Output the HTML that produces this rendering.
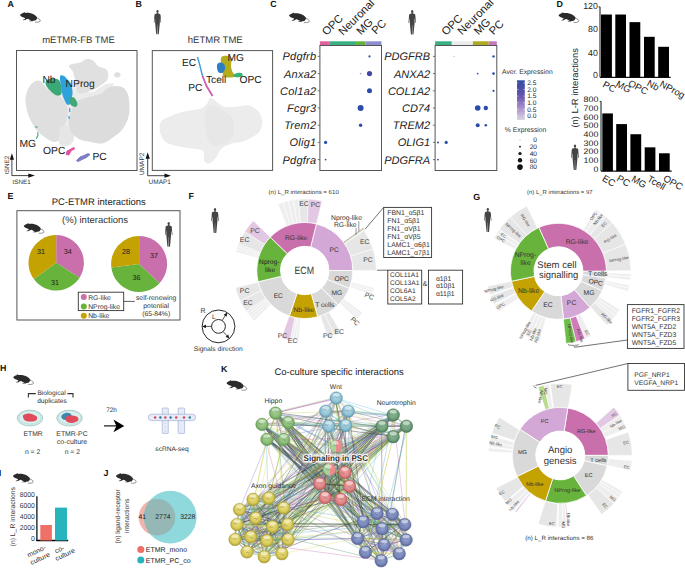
<!DOCTYPE html>
<html><head><meta charset="utf-8"><title>Figure</title><style>html,body{margin:0;padding:0;background:#fff;width:685px;height:568px;overflow:hidden;}body{position:relative;font-family:"Liberation Sans", sans-serif;}</style></head><body>
<svg width="685" height="568" viewBox="0 0 685 568" text-rendering="geometricPrecision" style="position:absolute;left:0;top:0;font-family:'Liberation Sans', sans-serif"><text x="7.6" y="7.2" font-size="8.9" text-anchor="start" fill="#111" font-weight="bold" font-style="normal" >A</text>
<g transform="translate(20 12.0) scale(1.0)"><path d="M0,3.0 C0.8,2.0 2.0,1.3 3.3,1.1 L4.3,0 L5.1,0.9 C8,0.5 11.5,1.0 14,2.6 C15.5,3.6 16.6,4.6 17.1,5.4 C17.0,6.8 16.4,7.9 15.3,8.5 L13.2,8.8 L12.6,9.3 L9.2,9.3 L9.3,8.8 L11.4,8.6 C10.2,8.0 9.0,7.4 7.9,6.8 L6.2,7.3 L5.4,8.1 L3.0,8.3 L2.9,7.8 L4.6,7.2 L5.2,6.2 C3.7,5.6 2.2,5.0 1.4,4.5 C0.7,4.1 0.2,3.6 0,3.0 Z" fill="#2b2b2b"/><path d="M16.8,6.0 C19.0,6.6 20.4,7.7 20.3,8.9 C20.2,9.9 18.5,10.4 15.0,10.2" fill="none" stroke="#2b2b2b" stroke-width="0.5"/></g>
<text x="78.5" y="42.8" font-size="9.5" text-anchor="middle" fill="#333" font-weight="normal" font-style="normal"  textLength="72.6" lengthAdjust="spacingAndGlyphs">mETMR-FB TME</text>
<path d="M58.0,92.0 C58.7,88.7 66.7,84.3 70.0,84.0 C73.3,83.7 74.3,88.7 78.0,90.0 C81.7,91.3 87.3,93.0 92.0,92.0 C96.7,91.0 102.3,85.3 106.0,84.0 C109.7,82.7 113.7,83.0 114.0,84.0 C114.3,85.0 111.0,88.0 108.0,90.0 C105.0,92.0 100.7,94.2 96.0,96.0 C91.3,97.8 83.7,99.0 80.0,101.0 C76.3,103.0 75.3,104.5 74.0,108.0 C72.7,111.5 72.0,117.3 72.0,122.0 C72.0,126.7 74.3,132.2 74.0,136.0 C73.7,139.8 72.3,143.5 70.0,145.0 C67.7,146.5 62.0,147.2 60.0,145.0 C58.0,142.8 57.3,136.5 58.0,132.0 C58.7,127.5 62.7,122.7 64.0,118.0 C65.3,113.3 67.0,108.3 66.0,104.0 C65.0,99.7 57.3,95.3 58.0,92.0 Z" fill="#ebebeb"/>
<path d="M32.8,82.7 C34.4,81.5 36.5,80.6 38.1,80.6 C39.7,80.6 41.0,81.5 42.4,82.7 C43.8,83.9 44.7,86.2 46.6,88.0 C48.5,89.8 51.5,91.7 54.0,93.3 C56.5,94.9 59.3,95.4 61.4,97.5 C63.5,99.6 65.7,103.1 66.7,105.9 C67.8,108.7 67.9,111.6 67.7,114.4 C67.5,117.2 66.6,120.0 65.6,122.8 C64.5,125.6 62.4,128.5 61.4,131.3 C60.4,134.1 60.5,137.9 59.3,139.7 C58.1,141.5 55.8,141.9 54.0,141.9 C52.2,141.9 50.6,140.8 48.7,139.7 C46.8,138.6 44.5,137.2 42.4,135.5 C40.3,133.8 38.1,132.0 36.0,129.2 C33.9,126.4 31.3,122.1 29.7,118.6 C28.1,115.1 27.2,111.5 26.5,108.0 C25.8,104.5 25.1,100.8 25.5,97.5 C25.9,94.2 27.4,90.5 28.6,88.0 C29.8,85.5 31.2,83.9 32.8,82.7 Z" fill="#dfdfdf"/>
<path d="M60.0,128.0 C61.0,125.2 64.0,125.3 66.0,126.0 C68.0,126.7 70.7,129.7 72.0,132.0 C73.3,134.3 74.7,137.9 74.0,140.0 C73.3,142.1 70.3,144.0 68.0,144.5 C65.7,145.0 61.3,145.8 60.0,143.0 C58.7,140.2 59.0,130.8 60.0,128.0 Z" fill="#e6e6e6"/>
<path d="M68.8,65.8 C69.0,64.4 72.1,64.2 74.0,63.7 C75.9,63.2 78.3,63.4 80.4,62.6 C82.5,61.8 84.6,59.4 86.7,59.0 C88.8,58.6 91.2,59.3 93.1,60.5 C95.0,61.7 96.2,64.8 98.3,66.2 C100.4,67.6 104.0,67.7 105.7,69.0 C107.4,70.3 108.1,72.3 108.3,74.2 C108.5,76.1 107.9,78.8 106.8,80.6 C105.7,82.4 103.4,83.4 101.5,84.8 C99.6,86.2 97.7,87.8 95.2,89.0 C92.7,90.2 89.4,91.5 86.7,92.2 C84.0,92.9 81.0,93.8 79.3,93.3 C77.5,92.8 76.9,91.1 76.2,89.0 C75.5,86.9 75.6,83.4 75.1,80.6 C74.6,77.8 74.0,74.6 73.0,72.1 C72.0,69.6 68.6,67.2 68.8,65.8 Z" fill="#e0e0e0"/>
<ellipse cx="117.3" cy="74.8" rx="3.2" ry="2.6" fill="#dedede"/>
<path d="M74.0,104.9 C75.6,102.8 77.6,101.0 80.4,99.6 C83.2,98.2 87.5,97.5 91.0,96.4 C94.5,95.4 98.7,94.7 101.5,93.3 C104.3,91.9 105.4,89.2 107.9,88.0 C110.4,86.8 113.7,85.9 116.3,85.9 C118.9,85.9 121.8,86.6 123.7,88.0 C125.6,89.4 127.0,91.7 127.9,94.3 C128.8,96.9 129.2,100.4 129.4,103.8 C129.6,107.2 129.6,111.1 129.0,114.4 C128.4,117.7 127.4,120.7 126.0,123.5 C124.6,126.3 122.6,129.2 120.5,131.5 C118.4,133.8 115.8,135.3 113.5,137.0 C111.2,138.7 109.2,140.4 107.0,141.5 C104.8,142.6 102.7,143.5 100.0,143.6 C97.3,143.7 94.3,142.6 91.0,141.9 C87.7,141.2 83.2,140.8 80.4,139.7 C77.6,138.6 75.8,137.2 74.0,135.5 C72.2,133.8 70.7,131.7 69.8,129.2 C68.9,126.7 68.6,123.5 68.8,120.7 C69.0,117.9 70.0,114.9 70.9,112.3 C71.8,109.7 72.4,107.0 74.0,104.9 Z" fill="#dcdcdc"/>
<path d="M46.6,80.0 C48.0,79.0 51.9,78.4 54.0,78.5 C56.1,78.6 58.0,79.0 59.3,80.6 C60.6,82.2 61.3,85.7 61.6,88.0 C61.9,90.3 61.9,93.3 61.0,94.5 C60.1,95.7 57.9,96.0 56.0,95.3 C54.1,94.6 51.2,91.8 49.5,90.1 C47.8,88.3 46.3,86.5 45.8,84.8 C45.3,83.1 45.2,81.0 46.6,80.0 Z" fill="#3aa877"/>
<path d="M60.5,75.5 C61.2,74.8 62.9,75.4 64.0,76.0 C65.1,76.6 65.9,77.8 67.0,79.0 C68.1,80.2 69.7,81.5 70.5,83.0 C71.3,84.5 71.7,86.2 72.0,88.0 C72.3,89.8 72.7,92.0 72.5,94.0 C72.3,96.0 71.5,98.2 71.0,100.0 C70.5,101.8 70.2,103.8 69.5,104.5 C68.8,105.2 67.4,104.9 66.5,104.0 C65.6,103.1 64.8,100.8 64.0,99.0 C63.2,97.2 62.5,95.2 62.0,93.0 C61.5,90.8 61.3,88.2 61.0,86.0 C60.7,83.8 60.1,81.8 60.0,80.0 C59.9,78.2 59.8,76.2 60.5,75.5 Z" fill="#2fa2dc"/>
<path d="M70.0,97.5 C70.8,96.8 72.8,96.7 74.0,97.5 C75.2,98.3 76.8,101.0 77.2,102.5 C77.6,104.0 77.4,105.9 76.5,106.5 C75.6,107.1 73.2,106.8 72.0,106.0 C70.8,105.2 69.8,103.4 69.5,102.0 C69.2,100.6 69.2,98.2 70.0,97.5 Z" fill="#40a878"/>
<path d="M69.6,108 L69.8,112 M68.8,116 L69.4,119" stroke="#2fa2dc" stroke-width="1.2" fill="none"/>
<path d="M35,126.8 L37.6,127.2 M37.6,132.3 L38,135.5 L36.2,138.6" stroke="#3aa877" stroke-width="1.1" fill="none"/>
<path d="M66,154.5 L67,151 L70,149.5 L73.5,147.5 L75,148.5 L71,151 L69,155 Z" fill="#e0509a" stroke="#e0509a" stroke-width="0.8"/>
<path d="M76.5,160.5 L80,157 L84,155.5 L88,153.6 L90,154.6 L86.5,157.5 L82,159.5 L78,161.6 Z" fill="#7e7ec6" stroke="#7e7ec6" stroke-width="1"/>
<rect x="16.5" y="50.5" width="120.5" height="120" fill="none" stroke="#555" stroke-width="1" />
<text x="42.4" y="82.7" font-size="10.3" text-anchor="start" fill="#222" font-weight="normal" font-style="normal" >Nb</text>
<text x="65.6" y="87.3" font-size="10.3" text-anchor="start" fill="#222" font-weight="normal" font-style="normal" >NProg</text>
<text x="19.5" y="146.5" font-size="10.3" text-anchor="start" fill="#222" font-weight="normal" font-style="normal" >MG</text>
<text x="43" y="153.5" font-size="10.3" text-anchor="start" fill="#222" font-weight="normal" font-style="normal" >OPC</text>
<text x="92.4" y="159.8" font-size="10.3" text-anchor="start" fill="#222" font-weight="normal" font-style="normal" >PC</text>
<line x1="11.9" y1="175.6" x2="11.9" y2="158.2" stroke="#111" stroke-width="0.8" />
<line x1="11.9" y1="175.6" x2="29.799999999999997" y2="175.6" stroke="#111" stroke-width="0.8" />
<path d="M11.9,153.2 L9.8,159.7 L14.0,159.7 Z" fill="#111"/>
<path d="M34.8,175.6 L28.299999999999997,173.5 L28.299999999999997,177.7 Z" fill="#111"/>
<text x="9.0" y="164.8" font-size="6.3" text-anchor="middle" fill="#333" font-weight="normal" font-style="normal" transform="rotate(-90 9.0 164.8)" >tSNE2</text>
<text x="21.6" y="183.6" font-size="6.3" text-anchor="middle" fill="#333" font-weight="normal" font-style="normal" >tSNE1</text>
<text x="135.5" y="7.2" font-size="8.9" text-anchor="start" fill="#111" font-weight="bold" font-style="normal" >B</text>
<g transform="translate(157.5 10) scale(0.9838056680161944)" fill="#444444"><ellipse cx="0" cy="1.5" rx="1.15" ry="1.5"/><path d="M-0.6,2.9 L0.6,2.9 L0.8,3.6 L2.6,4.0 C3.0,4.3 3.1,5 3.2,6 L3.5,10.5 L3.8,12.5 L3.4,13.2 L3.0,11.8 L2.6,8.2 L2.4,10.5 L2.4,13 L1.9,18 L1.5,22.5 L1.2,24.7 L0.2,24.7 L0.2,22.5 L0.1,15 L-0.1,15 L-0.2,22.5 L-0.2,24.7 L-1.2,24.7 L-1.5,22.5 L-1.9,18 L-2.4,13 L-2.4,10.5 L-2.6,8.2 L-3.0,11.8 L-3.4,13.2 L-3.8,12.5 L-3.5,10.5 L-3.2,6 C-3.1,5 -3.0,4.3 -2.6,4.0 L-0.8,3.6 Z"/></g>
<text x="215.25" y="42.8" font-size="9.5" text-anchor="middle" fill="#333" font-weight="normal" font-style="normal"  textLength="54.9" lengthAdjust="spacingAndGlyphs">hETMR TME</text>
<path d="M210.4,98.0 C212.1,97.6 214.3,100.2 216.6,101.7 C218.9,103.2 220.7,105.9 224.0,106.7 C227.3,107.5 232.2,106.9 236.3,106.7 C240.4,106.5 245.0,104.6 248.7,105.4 C252.4,106.2 256.2,108.9 258.5,111.6 C260.8,114.3 262.0,118.2 262.2,121.5 C262.4,124.8 261.2,128.8 259.8,131.3 C258.4,133.8 256.3,134.7 253.6,136.3 C250.9,138.0 247.4,140.0 243.7,141.2 C240.0,142.4 235.1,142.5 231.4,143.7 C227.7,144.9 224.2,146.1 221.5,148.6 C218.8,151.1 217.5,156.0 215.4,158.5 C213.3,161.0 211.0,163.0 209.2,163.4 C207.3,163.8 205.3,163.0 204.3,160.9 C203.3,158.8 205.1,153.2 203.0,151.1 C200.9,149.0 196.2,149.4 191.9,148.6 C187.6,147.8 181.6,147.3 177.1,146.1 C172.6,144.9 167.7,143.7 164.8,141.2 C161.9,138.7 160.5,134.6 159.9,131.3 C159.3,128.0 159.5,124.0 161.1,121.5 C162.7,119.0 165.8,118.2 169.7,116.5 C173.6,114.8 179.6,112.8 184.5,111.6 C189.4,110.4 195.6,110.3 199.3,109.1 C203.0,107.9 204.8,106.0 206.7,104.2 C208.5,102.4 208.8,98.4 210.4,98.0 Z" fill="#ececec"/>
<path d="M208.0,106.0 C210.8,103.7 218.0,108.0 222.0,110.0 C226.0,112.0 230.0,114.3 232.0,118.0 C234.0,121.7 234.7,128.0 234.0,132.0 C233.3,136.0 231.0,139.7 228.0,142.0 C225.0,144.3 219.3,146.3 216.0,146.0 C212.7,145.7 209.8,143.7 208.0,140.0 C206.2,136.3 205.0,129.7 205.0,124.0 C205.0,118.3 205.2,108.3 208.0,106.0 Z" fill="#e7e7e7"/>
<path d="M197.5,57 L199.5,64 L201,70 L202.8,77" stroke="#3a9edb" stroke-width="1.4" fill="none"/>
<path d="M202.5,76 L204.5,81 L206.5,86 L209,90 L212.5,96" stroke="#d05bb0" stroke-width="1.8" fill="none"/>
<path d="M221.5,57.0 C222.7,55.8 226.3,55.7 228.0,56.0 C229.7,56.3 231.0,57.3 231.5,59.0 C232.0,60.7 230.8,63.8 231.0,66.0 C231.2,68.2 231.7,70.3 232.5,72.0 C233.3,73.7 236.2,75.1 236.0,76.0 C235.8,76.9 233.0,77.4 231.0,77.5 C229.0,77.6 225.5,77.8 224.0,76.5 C222.5,75.2 222.5,72.2 222.0,70.0 C221.5,67.8 221.1,65.2 221.0,63.0 C220.9,60.8 220.3,58.2 221.5,57.0 Z" fill="#b4ac1a"/>
<path d="M217.0,65.0 C217.3,63.5 218.8,62.7 220.0,62.5 C221.2,62.3 223.2,62.9 224.0,64.0 C224.8,65.1 225.3,67.5 225.0,69.0 C224.7,70.5 223.2,72.6 222.0,73.0 C220.8,73.4 218.8,72.8 218.0,71.5 C217.2,70.2 216.7,66.5 217.0,65.0 Z" fill="#2c7fc4"/>
<path d="M233.0,75.5 C233.2,74.8 235.5,73.4 237.0,73.0 C238.5,72.6 241.2,72.7 242.0,73.3 C242.8,73.9 243.0,75.8 242.0,76.5 C241.0,77.2 237.5,77.4 236.0,77.2 C234.5,77.0 232.8,76.2 233.0,75.5 Z" fill="#35b377"/>
<rect x="152.3" y="50.6" width="120.3" height="119.8" fill="none" stroke="#555" stroke-width="1" />
<text x="182.0" y="66.2" font-size="10.2" text-anchor="start" fill="#222" font-weight="normal" font-style="normal" >EC</text>
<text x="227.6" y="61.2" font-size="10.2" text-anchor="start" fill="#222" font-weight="normal" font-style="normal" >MG</text>
<text x="206.0" y="82.5" font-size="10.2" text-anchor="start" fill="#222" font-weight="normal" font-style="normal" >Tcell</text>
<text x="239.6" y="83.0" font-size="10.2" text-anchor="start" fill="#222" font-weight="normal" font-style="normal" >OPC</text>
<text x="188.3" y="91.0" font-size="10.2" text-anchor="start" fill="#222" font-weight="normal" font-style="normal" >PC</text>
<line x1="147.7" y1="175.7" x2="147.7" y2="157.2" stroke="#111" stroke-width="0.8" />
<line x1="147.7" y1="175.7" x2="166" y2="175.7" stroke="#111" stroke-width="0.8" />
<path d="M147.7,152.2 L145.6,158.7 L149.79999999999998,158.7 Z" fill="#111"/>
<path d="M171,175.7 L164.5,173.6 L164.5,177.79999999999998 Z" fill="#111"/>
<text x="143.6" y="163.8" font-size="6.5" text-anchor="middle" fill="#333" font-weight="normal" font-style="normal" transform="rotate(-90 143.6 163.8)" >UMAP2</text>
<text x="159.8" y="184.2" font-size="6.5" text-anchor="middle" fill="#333" font-weight="normal" font-style="normal" >UMAP1</text>
<text x="270.3" y="7.2" font-size="8.9" text-anchor="start" fill="#111" font-weight="bold" font-style="normal" >C</text>
<g transform="translate(289 12.4) scale(1.0)"><path d="M0,3.0 C0.8,2.0 2.0,1.3 3.3,1.1 L4.3,0 L5.1,0.9 C8,0.5 11.5,1.0 14,2.6 C15.5,3.6 16.6,4.6 17.1,5.4 C17.0,6.8 16.4,7.9 15.3,8.5 L13.2,8.8 L12.6,9.3 L9.2,9.3 L9.3,8.8 L11.4,8.6 C10.2,8.0 9.0,7.4 7.9,6.8 L6.2,7.3 L5.4,8.1 L3.0,8.3 L2.9,7.8 L4.6,7.2 L5.2,6.2 C3.7,5.6 2.2,5.0 1.4,4.5 C0.7,4.1 0.2,3.6 0,3.0 Z" fill="#2b2b2b"/><path d="M16.8,6.0 C19.0,6.6 20.4,7.7 20.3,8.9 C20.2,9.9 18.5,10.4 15.0,10.2" fill="none" stroke="#2b2b2b" stroke-width="0.5"/></g>
<g transform="translate(412.2 9.9) scale(1.0)" fill="#444444"><ellipse cx="0" cy="1.5" rx="1.15" ry="1.5"/><path d="M-0.6,2.9 L0.6,2.9 L0.8,3.6 L2.6,4.0 C3.0,4.3 3.1,5 3.2,6 L3.5,10.5 L3.8,12.5 L3.4,13.2 L3.0,11.8 L2.6,8.2 L2.4,10.5 L2.4,13 L1.9,18 L1.5,22.5 L1.2,24.7 L0.2,24.7 L0.2,22.5 L0.1,15 L-0.1,15 L-0.2,22.5 L-0.2,24.7 L-1.2,24.7 L-1.5,22.5 L-1.9,18 L-2.4,13 L-2.4,10.5 L-2.6,8.2 L-3.0,11.8 L-3.4,13.2 L-3.8,12.5 L-3.5,10.5 L-3.2,6 C-3.1,5 -3.0,4.3 -2.6,4.0 L-0.8,3.6 Z"/></g>
<rect x="319.9" y="41.3" width="9.300000000000011" height="4.2" fill="#e0609e" stroke="none" stroke-width="1" />
<rect x="329.2" y="41.3" width="26.900000000000034" height="4.2" fill="#38b082" stroke="none" stroke-width="1" />
<rect x="356.1" y="41.3" width="9.299999999999955" height="4.2" fill="#60b43c" stroke="none" stroke-width="1" />
<rect x="365.4" y="41.3" width="16.100000000000023" height="4.2" fill="#8f8fd0" stroke="none" stroke-width="1" />
<rect x="319.9" y="45.5" width="61.60000000000002" height="125" fill="none" stroke="#555" stroke-width="1" />
<line x1="317.7" y1="56.4" x2="319.9" y2="56.4" stroke="#555" stroke-width="0.8" />
<text x="316.4" y="60.3" font-size="11" text-anchor="end" fill="#222" font-weight="normal" font-style="italic" letter-spacing="0.25">Pdgfrb</text>
<circle cx="325.6" cy="56.4" r="0.45" fill="#e2e2e2" stroke="none" stroke-width="1" />
<circle cx="334.3" cy="56.4" r="0.45" fill="#e2e2e2" stroke="none" stroke-width="1" />
<circle cx="343.2" cy="56.4" r="0.45" fill="#e2e2e2" stroke="none" stroke-width="1" />
<circle cx="352.0" cy="56.4" r="0.45" fill="#e2e2e2" stroke="none" stroke-width="1" />
<circle cx="360.6" cy="56.4" r="0.45" fill="#e2e2e2" stroke="none" stroke-width="1" />
<circle cx="369.5" cy="56.4" r="0.45" fill="#e2e2e2" stroke="none" stroke-width="1" />
<line x1="317.7" y1="73.6" x2="319.9" y2="73.6" stroke="#555" stroke-width="0.8" />
<text x="316.4" y="77.5" font-size="11" text-anchor="end" fill="#222" font-weight="normal" font-style="italic" letter-spacing="0.25">Anxa2</text>
<circle cx="325.6" cy="73.6" r="0.45" fill="#e2e2e2" stroke="none" stroke-width="1" />
<circle cx="334.3" cy="73.6" r="0.45" fill="#e2e2e2" stroke="none" stroke-width="1" />
<circle cx="343.2" cy="73.6" r="0.45" fill="#e2e2e2" stroke="none" stroke-width="1" />
<circle cx="352.0" cy="73.6" r="0.45" fill="#e2e2e2" stroke="none" stroke-width="1" />
<circle cx="360.6" cy="73.6" r="0.45" fill="#e2e2e2" stroke="none" stroke-width="1" />
<circle cx="369.5" cy="73.6" r="0.45" fill="#e2e2e2" stroke="none" stroke-width="1" />
<line x1="317.7" y1="90.8" x2="319.9" y2="90.8" stroke="#555" stroke-width="0.8" />
<text x="316.4" y="94.7" font-size="11" text-anchor="end" fill="#222" font-weight="normal" font-style="italic" letter-spacing="0.25">Col1a2</text>
<circle cx="325.6" cy="90.8" r="0.45" fill="#e2e2e2" stroke="none" stroke-width="1" />
<circle cx="334.3" cy="90.8" r="0.45" fill="#e2e2e2" stroke="none" stroke-width="1" />
<circle cx="343.2" cy="90.8" r="0.45" fill="#e2e2e2" stroke="none" stroke-width="1" />
<circle cx="352.0" cy="90.8" r="0.45" fill="#e2e2e2" stroke="none" stroke-width="1" />
<circle cx="360.6" cy="90.8" r="0.45" fill="#e2e2e2" stroke="none" stroke-width="1" />
<circle cx="369.5" cy="90.8" r="0.45" fill="#e2e2e2" stroke="none" stroke-width="1" />
<line x1="317.7" y1="108.0" x2="319.9" y2="108.0" stroke="#555" stroke-width="0.8" />
<text x="316.4" y="111.9" font-size="11" text-anchor="end" fill="#222" font-weight="normal" font-style="italic" letter-spacing="0.25">Fcgr3</text>
<circle cx="325.6" cy="108.0" r="0.45" fill="#e2e2e2" stroke="none" stroke-width="1" />
<circle cx="334.3" cy="108.0" r="0.45" fill="#e2e2e2" stroke="none" stroke-width="1" />
<circle cx="343.2" cy="108.0" r="0.45" fill="#e2e2e2" stroke="none" stroke-width="1" />
<circle cx="352.0" cy="108.0" r="0.45" fill="#e2e2e2" stroke="none" stroke-width="1" />
<circle cx="360.6" cy="108.0" r="0.45" fill="#e2e2e2" stroke="none" stroke-width="1" />
<circle cx="369.5" cy="108.0" r="0.45" fill="#e2e2e2" stroke="none" stroke-width="1" />
<line x1="317.7" y1="125.19999999999999" x2="319.9" y2="125.19999999999999" stroke="#555" stroke-width="0.8" />
<text x="316.4" y="129.1" font-size="11" text-anchor="end" fill="#222" font-weight="normal" font-style="italic" letter-spacing="0.25">Trem2</text>
<circle cx="325.6" cy="125.19999999999999" r="0.45" fill="#e2e2e2" stroke="none" stroke-width="1" />
<circle cx="334.3" cy="125.19999999999999" r="0.45" fill="#e2e2e2" stroke="none" stroke-width="1" />
<circle cx="343.2" cy="125.19999999999999" r="0.45" fill="#e2e2e2" stroke="none" stroke-width="1" />
<circle cx="352.0" cy="125.19999999999999" r="0.45" fill="#e2e2e2" stroke="none" stroke-width="1" />
<circle cx="360.6" cy="125.19999999999999" r="0.45" fill="#e2e2e2" stroke="none" stroke-width="1" />
<circle cx="369.5" cy="125.19999999999999" r="0.45" fill="#e2e2e2" stroke="none" stroke-width="1" />
<line x1="317.7" y1="142.4" x2="319.9" y2="142.4" stroke="#555" stroke-width="0.8" />
<text x="316.4" y="146.3" font-size="11" text-anchor="end" fill="#222" font-weight="normal" font-style="italic" letter-spacing="0.25">Olig1</text>
<circle cx="325.6" cy="142.4" r="0.45" fill="#e2e2e2" stroke="none" stroke-width="1" />
<circle cx="334.3" cy="142.4" r="0.45" fill="#e2e2e2" stroke="none" stroke-width="1" />
<circle cx="343.2" cy="142.4" r="0.45" fill="#e2e2e2" stroke="none" stroke-width="1" />
<circle cx="352.0" cy="142.4" r="0.45" fill="#e2e2e2" stroke="none" stroke-width="1" />
<circle cx="360.6" cy="142.4" r="0.45" fill="#e2e2e2" stroke="none" stroke-width="1" />
<circle cx="369.5" cy="142.4" r="0.45" fill="#e2e2e2" stroke="none" stroke-width="1" />
<line x1="317.7" y1="159.6" x2="319.9" y2="159.6" stroke="#555" stroke-width="0.8" />
<text x="316.4" y="163.5" font-size="11" text-anchor="end" fill="#222" font-weight="normal" font-style="italic" letter-spacing="0.25">Pdgfra</text>
<circle cx="325.6" cy="159.6" r="0.45" fill="#e2e2e2" stroke="none" stroke-width="1" />
<circle cx="334.3" cy="159.6" r="0.45" fill="#e2e2e2" stroke="none" stroke-width="1" />
<circle cx="343.2" cy="159.6" r="0.45" fill="#e2e2e2" stroke="none" stroke-width="1" />
<circle cx="352.0" cy="159.6" r="0.45" fill="#e2e2e2" stroke="none" stroke-width="1" />
<circle cx="360.6" cy="159.6" r="0.45" fill="#e2e2e2" stroke="none" stroke-width="1" />
<circle cx="369.5" cy="159.6" r="0.45" fill="#e2e2e2" stroke="none" stroke-width="1" />
<circle cx="369.5" cy="56.4" r="1.1" fill="#2c4fae" stroke="none" stroke-width="1" />
<circle cx="360.6" cy="73.6" r="0.9" fill="#b49ad8" stroke="none" stroke-width="1" />
<circle cx="369.5" cy="73.6" r="2.6" fill="#4446a6" stroke="none" stroke-width="1" />
<circle cx="369.5" cy="90.8" r="2.5" fill="#2a4caa" stroke="none" stroke-width="1" />
<circle cx="360.6" cy="108.0" r="3.0" fill="#2a4caa" stroke="none" stroke-width="1" />
<circle cx="360.6" cy="125.19999999999999" r="1.7" fill="#2a4caa" stroke="none" stroke-width="1" />
<circle cx="325.6" cy="142.4" r="1.6" fill="#2a4caa" stroke="none" stroke-width="1" />
<circle cx="325.6" cy="159.6" r="0.9" fill="#2a4caa" stroke="none" stroke-width="1" />
<rect x="435.1" y="41.3" width="16.69999999999999" height="4.2" fill="#38b082" stroke="none" stroke-width="1" />
<rect x="451.8" y="41.3" width="21.099999999999966" height="4.2" fill="#ececec" stroke="none" stroke-width="1" />
<rect x="472.9" y="41.3" width="15.800000000000011" height="4.2" fill="#b0ab1e" stroke="none" stroke-width="1" />
<rect x="488.7" y="41.3" width="8.100000000000023" height="4.2" fill="#c877bb" stroke="none" stroke-width="1" />
<rect x="435.1" y="45.5" width="61.69999999999999" height="125" fill="none" stroke="#555" stroke-width="1" />
<line x1="432.90000000000003" y1="56.4" x2="435.1" y2="56.4" stroke="#555" stroke-width="0.8" />
<text x="430.1" y="60.3" font-size="11" text-anchor="end" fill="#222" font-weight="normal" font-style="italic" letter-spacing="0">PDGFRB</text>
<circle cx="438.0" cy="56.4" r="0.45" fill="#e2e2e2" stroke="none" stroke-width="1" />
<circle cx="446.2" cy="56.4" r="0.45" fill="#e2e2e2" stroke="none" stroke-width="1" />
<circle cx="454.2" cy="56.4" r="0.45" fill="#e2e2e2" stroke="none" stroke-width="1" />
<circle cx="462.0" cy="56.4" r="0.45" fill="#e2e2e2" stroke="none" stroke-width="1" />
<circle cx="469.9" cy="56.4" r="0.45" fill="#e2e2e2" stroke="none" stroke-width="1" />
<circle cx="477.7" cy="56.4" r="0.45" fill="#e2e2e2" stroke="none" stroke-width="1" />
<circle cx="485.8" cy="56.4" r="0.45" fill="#e2e2e2" stroke="none" stroke-width="1" />
<circle cx="493.5" cy="56.4" r="0.45" fill="#e2e2e2" stroke="none" stroke-width="1" />
<line x1="432.90000000000003" y1="73.6" x2="435.1" y2="73.6" stroke="#555" stroke-width="0.8" />
<text x="430.1" y="77.5" font-size="11" text-anchor="end" fill="#222" font-weight="normal" font-style="italic" letter-spacing="0">ANXA2</text>
<circle cx="438.0" cy="73.6" r="0.45" fill="#e2e2e2" stroke="none" stroke-width="1" />
<circle cx="446.2" cy="73.6" r="0.45" fill="#e2e2e2" stroke="none" stroke-width="1" />
<circle cx="454.2" cy="73.6" r="0.45" fill="#e2e2e2" stroke="none" stroke-width="1" />
<circle cx="462.0" cy="73.6" r="0.45" fill="#e2e2e2" stroke="none" stroke-width="1" />
<circle cx="469.9" cy="73.6" r="0.45" fill="#e2e2e2" stroke="none" stroke-width="1" />
<circle cx="477.7" cy="73.6" r="0.45" fill="#e2e2e2" stroke="none" stroke-width="1" />
<circle cx="485.8" cy="73.6" r="0.45" fill="#e2e2e2" stroke="none" stroke-width="1" />
<circle cx="493.5" cy="73.6" r="0.45" fill="#e2e2e2" stroke="none" stroke-width="1" />
<line x1="432.90000000000003" y1="90.8" x2="435.1" y2="90.8" stroke="#555" stroke-width="0.8" />
<text x="430.1" y="94.7" font-size="11" text-anchor="end" fill="#222" font-weight="normal" font-style="italic" letter-spacing="0">COL1A2</text>
<circle cx="438.0" cy="90.8" r="0.45" fill="#e2e2e2" stroke="none" stroke-width="1" />
<circle cx="446.2" cy="90.8" r="0.45" fill="#e2e2e2" stroke="none" stroke-width="1" />
<circle cx="454.2" cy="90.8" r="0.45" fill="#e2e2e2" stroke="none" stroke-width="1" />
<circle cx="462.0" cy="90.8" r="0.45" fill="#e2e2e2" stroke="none" stroke-width="1" />
<circle cx="469.9" cy="90.8" r="0.45" fill="#e2e2e2" stroke="none" stroke-width="1" />
<circle cx="477.7" cy="90.8" r="0.45" fill="#e2e2e2" stroke="none" stroke-width="1" />
<circle cx="485.8" cy="90.8" r="0.45" fill="#e2e2e2" stroke="none" stroke-width="1" />
<circle cx="493.5" cy="90.8" r="0.45" fill="#e2e2e2" stroke="none" stroke-width="1" />
<line x1="432.90000000000003" y1="108.0" x2="435.1" y2="108.0" stroke="#555" stroke-width="0.8" />
<text x="430.1" y="111.9" font-size="11" text-anchor="end" fill="#222" font-weight="normal" font-style="italic" letter-spacing="0">CD74</text>
<circle cx="438.0" cy="108.0" r="0.45" fill="#e2e2e2" stroke="none" stroke-width="1" />
<circle cx="446.2" cy="108.0" r="0.45" fill="#e2e2e2" stroke="none" stroke-width="1" />
<circle cx="454.2" cy="108.0" r="0.45" fill="#e2e2e2" stroke="none" stroke-width="1" />
<circle cx="462.0" cy="108.0" r="0.45" fill="#e2e2e2" stroke="none" stroke-width="1" />
<circle cx="469.9" cy="108.0" r="0.45" fill="#e2e2e2" stroke="none" stroke-width="1" />
<circle cx="477.7" cy="108.0" r="0.45" fill="#e2e2e2" stroke="none" stroke-width="1" />
<circle cx="485.8" cy="108.0" r="0.45" fill="#e2e2e2" stroke="none" stroke-width="1" />
<circle cx="493.5" cy="108.0" r="0.45" fill="#e2e2e2" stroke="none" stroke-width="1" />
<line x1="432.90000000000003" y1="125.19999999999999" x2="435.1" y2="125.19999999999999" stroke="#555" stroke-width="0.8" />
<text x="430.1" y="129.1" font-size="11" text-anchor="end" fill="#222" font-weight="normal" font-style="italic" letter-spacing="0">TREM2</text>
<circle cx="438.0" cy="125.19999999999999" r="0.45" fill="#e2e2e2" stroke="none" stroke-width="1" />
<circle cx="446.2" cy="125.19999999999999" r="0.45" fill="#e2e2e2" stroke="none" stroke-width="1" />
<circle cx="454.2" cy="125.19999999999999" r="0.45" fill="#e2e2e2" stroke="none" stroke-width="1" />
<circle cx="462.0" cy="125.19999999999999" r="0.45" fill="#e2e2e2" stroke="none" stroke-width="1" />
<circle cx="469.9" cy="125.19999999999999" r="0.45" fill="#e2e2e2" stroke="none" stroke-width="1" />
<circle cx="477.7" cy="125.19999999999999" r="0.45" fill="#e2e2e2" stroke="none" stroke-width="1" />
<circle cx="485.8" cy="125.19999999999999" r="0.45" fill="#e2e2e2" stroke="none" stroke-width="1" />
<circle cx="493.5" cy="125.19999999999999" r="0.45" fill="#e2e2e2" stroke="none" stroke-width="1" />
<line x1="432.90000000000003" y1="142.4" x2="435.1" y2="142.4" stroke="#555" stroke-width="0.8" />
<text x="430.1" y="146.3" font-size="11" text-anchor="end" fill="#222" font-weight="normal" font-style="italic" letter-spacing="0">OLIG1</text>
<circle cx="438.0" cy="142.4" r="0.45" fill="#e2e2e2" stroke="none" stroke-width="1" />
<circle cx="446.2" cy="142.4" r="0.45" fill="#e2e2e2" stroke="none" stroke-width="1" />
<circle cx="454.2" cy="142.4" r="0.45" fill="#e2e2e2" stroke="none" stroke-width="1" />
<circle cx="462.0" cy="142.4" r="0.45" fill="#e2e2e2" stroke="none" stroke-width="1" />
<circle cx="469.9" cy="142.4" r="0.45" fill="#e2e2e2" stroke="none" stroke-width="1" />
<circle cx="477.7" cy="142.4" r="0.45" fill="#e2e2e2" stroke="none" stroke-width="1" />
<circle cx="485.8" cy="142.4" r="0.45" fill="#e2e2e2" stroke="none" stroke-width="1" />
<circle cx="493.5" cy="142.4" r="0.45" fill="#e2e2e2" stroke="none" stroke-width="1" />
<line x1="432.90000000000003" y1="159.6" x2="435.1" y2="159.6" stroke="#555" stroke-width="0.8" />
<text x="430.1" y="163.5" font-size="11" text-anchor="end" fill="#222" font-weight="normal" font-style="italic" letter-spacing="0">PDGFRA</text>
<circle cx="438.0" cy="159.6" r="0.45" fill="#e2e2e2" stroke="none" stroke-width="1" />
<circle cx="446.2" cy="159.6" r="0.45" fill="#e2e2e2" stroke="none" stroke-width="1" />
<circle cx="454.2" cy="159.6" r="0.45" fill="#e2e2e2" stroke="none" stroke-width="1" />
<circle cx="462.0" cy="159.6" r="0.45" fill="#e2e2e2" stroke="none" stroke-width="1" />
<circle cx="469.9" cy="159.6" r="0.45" fill="#e2e2e2" stroke="none" stroke-width="1" />
<circle cx="477.7" cy="159.6" r="0.45" fill="#e2e2e2" stroke="none" stroke-width="1" />
<circle cx="485.8" cy="159.6" r="0.45" fill="#e2e2e2" stroke="none" stroke-width="1" />
<circle cx="493.5" cy="159.6" r="0.45" fill="#e2e2e2" stroke="none" stroke-width="1" />
<circle cx="493.5" cy="56.4" r="1.2" fill="#2a4caa" stroke="none" stroke-width="1" />
<circle cx="454.2" cy="56.4" r="0.7" fill="#c9b6e6" stroke="none" stroke-width="1" />
<circle cx="493.5" cy="73.6" r="1.3" fill="#2a4caa" stroke="none" stroke-width="1" />
<circle cx="477.7" cy="73.6" r="0.9" fill="#3c50b0" stroke="none" stroke-width="1" />
<circle cx="493.5" cy="90.8" r="1.1" fill="#2a4caa" stroke="none" stroke-width="1" />
<circle cx="477.7" cy="108.0" r="2.8" fill="#2a4caa" stroke="none" stroke-width="1" />
<circle cx="485.8" cy="108.0" r="2.2" fill="#2a4caa" stroke="none" stroke-width="1" />
<circle cx="477.7" cy="125.19999999999999" r="2.0" fill="#2a4caa" stroke="none" stroke-width="1" />
<circle cx="485.8" cy="125.19999999999999" r="1.3" fill="#2a4caa" stroke="none" stroke-width="1" />
<circle cx="438.0" cy="142.4" r="1.0" fill="#2a4caa" stroke="none" stroke-width="1" />
<circle cx="446.2" cy="142.4" r="1.6" fill="#2a4caa" stroke="none" stroke-width="1" />
<circle cx="438.0" cy="159.6" r="0.9" fill="#2a4caa" stroke="none" stroke-width="1" />
<text x="326.6" y="36.1" font-size="11.2" text-anchor="start" fill="#222" font-weight="normal" font-style="normal" transform="rotate(-45 326.6 36.1)" >OPC</text>
<text x="343" y="36" font-size="11.2" text-anchor="start" fill="#222" font-weight="normal" font-style="normal" transform="rotate(-45 343 36)" >Neuronal</text>
<text x="361" y="35.5" font-size="11.2" text-anchor="start" fill="#222" font-weight="normal" font-style="normal" transform="rotate(-45 361 35.5)" >MG</text>
<text x="376" y="35" font-size="11.2" text-anchor="start" fill="#222" font-weight="normal" font-style="normal" transform="rotate(-45 376 35)" >PC</text>
<text x="446" y="36.1" font-size="11.2" text-anchor="start" fill="#222" font-weight="normal" font-style="normal" transform="rotate(-45 446 36.1)" >OPC</text>
<text x="462.1" y="35.5" font-size="11.2" text-anchor="start" fill="#222" font-weight="normal" font-style="normal" transform="rotate(-45 462.1 35.5)" >Neuronal</text>
<text x="478.4" y="35.5" font-size="11.2" text-anchor="start" fill="#222" font-weight="normal" font-style="normal" transform="rotate(-45 478.4 35.5)" >MG</text>
<text x="493.5" y="35.5" font-size="11.2" text-anchor="start" fill="#222" font-weight="normal" font-style="normal" transform="rotate(-45 493.5 35.5)" >PC</text>
<text x="502" y="74" font-size="6.8" text-anchor="start" fill="#333" font-weight="normal" font-style="normal"  textLength="50.7" lengthAdjust="spacingAndGlyphs">Aver. Expression</text>
<defs><linearGradient id="gexp" x1="0" y1="0" x2="0" y2="1"><stop offset="0" stop-color="#2d4aa3"/><stop offset="0.4" stop-color="#6a55ad"/><stop offset="0.75" stop-color="#b49bd0"/><stop offset="1" stop-color="#d8d5e2"/></linearGradient></defs>
<rect x="517" y="80.3" width="7.8" height="39.7" fill="url(#gexp)" stroke="none" stroke-width="1" />
<text x="527.2" y="85.2" font-size="6.6" text-anchor="start" fill="#222" font-weight="normal" font-style="normal" >2.5</text>
<line x1="517" y1="82.9" x2="518.5" y2="82.9" stroke="#fff" stroke-width="0.5" />
<line x1="523.3" y1="82.9" x2="524.8" y2="82.9" stroke="#fff" stroke-width="0.5" />
<text x="527.2" y="91.8" font-size="6.6" text-anchor="start" fill="#222" font-weight="normal" font-style="normal" >2.0</text>
<line x1="517" y1="89.5" x2="518.5" y2="89.5" stroke="#fff" stroke-width="0.5" />
<line x1="523.3" y1="89.5" x2="524.8" y2="89.5" stroke="#fff" stroke-width="0.5" />
<text x="527.2" y="98.4" font-size="6.6" text-anchor="start" fill="#222" font-weight="normal" font-style="normal" >1.5</text>
<line x1="517" y1="96.10000000000001" x2="518.5" y2="96.10000000000001" stroke="#fff" stroke-width="0.5" />
<line x1="523.3" y1="96.10000000000001" x2="524.8" y2="96.10000000000001" stroke="#fff" stroke-width="0.5" />
<text x="527.2" y="105.0" font-size="6.6" text-anchor="start" fill="#222" font-weight="normal" font-style="normal" >1.0</text>
<line x1="517" y1="102.7" x2="518.5" y2="102.7" stroke="#fff" stroke-width="0.5" />
<line x1="523.3" y1="102.7" x2="524.8" y2="102.7" stroke="#fff" stroke-width="0.5" />
<text x="527.2" y="111.6" font-size="6.6" text-anchor="start" fill="#222" font-weight="normal" font-style="normal" >0.5</text>
<line x1="517" y1="109.3" x2="518.5" y2="109.3" stroke="#fff" stroke-width="0.5" />
<line x1="523.3" y1="109.3" x2="524.8" y2="109.3" stroke="#fff" stroke-width="0.5" />
<text x="527.2" y="118.2" font-size="6.6" text-anchor="start" fill="#222" font-weight="normal" font-style="normal" >0.0</text>
<line x1="517" y1="115.9" x2="518.5" y2="115.9" stroke="#fff" stroke-width="0.5" />
<line x1="523.3" y1="115.9" x2="524.8" y2="115.9" stroke="#fff" stroke-width="0.5" />
<text x="504.8" y="131.8" font-size="6.9" text-anchor="start" fill="#333" font-weight="normal" font-style="normal"  textLength="41.6" lengthAdjust="spacingAndGlyphs">% Expression</text>
<circle cx="520" cy="139.9" r="0.35" fill="#111" stroke="none" stroke-width="1" />
<text x="537.0" y="142.20000000000002" font-size="6.6" text-anchor="end" fill="#222" font-weight="normal" font-style="normal" >0</text>
<circle cx="520" cy="146.70000000000002" r="0.9" fill="#111" stroke="none" stroke-width="1" />
<text x="537.0" y="149.00000000000003" font-size="6.6" text-anchor="end" fill="#222" font-weight="normal" font-style="normal" >20</text>
<circle cx="520" cy="153.5" r="1.6" fill="#111" stroke="none" stroke-width="1" />
<text x="537.0" y="155.8" font-size="6.6" text-anchor="end" fill="#222" font-weight="normal" font-style="normal" >40</text>
<circle cx="520" cy="160.3" r="2.2" fill="#111" stroke="none" stroke-width="1" />
<text x="537.0" y="162.60000000000002" font-size="6.6" text-anchor="end" fill="#222" font-weight="normal" font-style="normal" >60</text>
<circle cx="520" cy="167.1" r="2.8" fill="#111" stroke="none" stroke-width="1" />
<text x="537.0" y="169.4" font-size="6.6" text-anchor="end" fill="#222" font-weight="normal" font-style="normal" >80</text>
<text x="556.5" y="7.2" font-size="8.9" text-anchor="start" fill="#111" font-weight="bold" font-style="normal" >D</text>
<g transform="translate(558.5 12.2) scale(1.0)"><path d="M0,3.0 C0.8,2.0 2.0,1.3 3.3,1.1 L4.3,0 L5.1,0.9 C8,0.5 11.5,1.0 14,2.6 C15.5,3.6 16.6,4.6 17.1,5.4 C17.0,6.8 16.4,7.9 15.3,8.5 L13.2,8.8 L12.6,9.3 L9.2,9.3 L9.3,8.8 L11.4,8.6 C10.2,8.0 9.0,7.4 7.9,6.8 L6.2,7.3 L5.4,8.1 L3.0,8.3 L2.9,7.8 L4.6,7.2 L5.2,6.2 C3.7,5.6 2.2,5.0 1.4,4.5 C0.7,4.1 0.2,3.6 0,3.0 Z" fill="#2b2b2b"/><path d="M16.8,6.0 C19.0,6.6 20.4,7.7 20.3,8.9 C20.2,9.9 18.5,10.4 15.0,10.2" fill="none" stroke="#2b2b2b" stroke-width="0.5"/></g>
<g transform="translate(575 144.4) scale(1.0364372469635628)" fill="#444444"><ellipse cx="0" cy="1.5" rx="1.15" ry="1.5"/><path d="M-0.6,2.9 L0.6,2.9 L0.8,3.6 L2.6,4.0 C3.0,4.3 3.1,5 3.2,6 L3.5,10.5 L3.8,12.5 L3.4,13.2 L3.0,11.8 L2.6,8.2 L2.4,10.5 L2.4,13 L1.9,18 L1.5,22.5 L1.2,24.7 L0.2,24.7 L0.2,22.5 L0.1,15 L-0.1,15 L-0.2,22.5 L-0.2,24.7 L-1.2,24.7 L-1.5,22.5 L-1.9,18 L-2.4,13 L-2.4,10.5 L-2.6,8.2 L-3.0,11.8 L-3.4,13.2 L-3.8,12.5 L-3.5,10.5 L-3.2,6 C-3.1,5 -3.0,4.3 -2.6,4.0 L-0.8,3.6 Z"/></g>
<line x1="600" y1="6.8" x2="600" y2="77.3" stroke="#111" stroke-width="1" />
<line x1="600" y1="77.3" x2="670.7" y2="77.3" stroke="#111" stroke-width="1.2" />
<line x1="598.6" y1="6.9" x2="600" y2="6.9" stroke="#111" stroke-width="0.8" />
<text x="597.9" y="78.2" font-size="8.8" text-anchor="end" fill="#222" font-weight="normal" font-style="normal" >0</text>
<text x="597.9" y="55.6" font-size="8.8" text-anchor="end" fill="#222" font-weight="normal" font-style="normal" >40</text>
<text x="597.9" y="32.1" font-size="8.8" text-anchor="end" fill="#222" font-weight="normal" font-style="normal" >80</text>
<text x="597.9" y="8.7" font-size="8.8" text-anchor="end" fill="#222" font-weight="normal" font-style="normal" >120</text>
<rect x="601" y="14.5231" width="10.899999999999977" height="62.7769" fill="#000" stroke="none" stroke-width="1" />
<rect x="615.3" y="14.5231" width="10.700000000000045" height="62.7769" fill="#000" stroke="none" stroke-width="1" />
<rect x="629.5" y="22.150199999999998" width="10.799999999999955" height="55.1498" fill="#000" stroke="none" stroke-width="1" />
<rect x="644" y="36.817699999999995" width="10.700000000000045" height="40.4823" fill="#000" stroke="none" stroke-width="1" />
<rect x="658.2" y="46.791599999999995" width="10.799999999999955" height="30.5084" fill="#000" stroke="none" stroke-width="1" />
<text x="602.1" y="86.6" font-size="9.5" text-anchor="start" fill="#222" font-weight="normal" font-style="normal" transform="rotate(28 602.1 86.6)" >PC</text>
<text x="615.2" y="86.0" font-size="9.5" text-anchor="start" fill="#222" font-weight="normal" font-style="normal" transform="rotate(28 615.2 86.0)" >MG</text>
<text x="627.6" y="85.3" font-size="9.5" text-anchor="start" fill="#222" font-weight="normal" font-style="normal" transform="rotate(28 627.6 85.3)" >OPC</text>
<text x="646.3" y="85.3" font-size="9.5" text-anchor="start" fill="#222" font-weight="normal" font-style="normal" transform="rotate(28 646.3 85.3)" >Nb</text>
<text x="659.0" y="86.0" font-size="9.5" text-anchor="start" fill="#222" font-weight="normal" font-style="normal" transform="rotate(28 659.0 86.0)" >NProg</text>
<line x1="601" y1="101.3" x2="601" y2="171.2" stroke="#111" stroke-width="1" />
<line x1="601" y1="171.2" x2="671.7" y2="171.2" stroke="#111" stroke-width="1.2" />
<line x1="599.6" y1="101.4" x2="601" y2="101.4" stroke="#111" stroke-width="0.8" />
<text x="598.4" y="171.8" font-size="8.0" text-anchor="end" fill="#1a1a1a" font-weight="normal" font-style="normal"  textLength="4.9" lengthAdjust="spacingAndGlyphs">0</text>
<text x="598.4" y="163.11" font-size="8.0" text-anchor="end" fill="#1a1a1a" font-weight="normal" font-style="normal"  textLength="14.8" lengthAdjust="spacingAndGlyphs">100</text>
<text x="598.4" y="154.42" font-size="8.0" text-anchor="end" fill="#1a1a1a" font-weight="normal" font-style="normal"  textLength="14.8" lengthAdjust="spacingAndGlyphs">200</text>
<text x="598.4" y="145.73" font-size="8.0" text-anchor="end" fill="#1a1a1a" font-weight="normal" font-style="normal"  textLength="14.8" lengthAdjust="spacingAndGlyphs">300</text>
<text x="598.4" y="137.04" font-size="8.0" text-anchor="end" fill="#1a1a1a" font-weight="normal" font-style="normal"  textLength="14.8" lengthAdjust="spacingAndGlyphs">400</text>
<text x="598.4" y="128.35" font-size="8.0" text-anchor="end" fill="#1a1a1a" font-weight="normal" font-style="normal"  textLength="14.8" lengthAdjust="spacingAndGlyphs">500</text>
<text x="598.4" y="119.66" font-size="8.0" text-anchor="end" fill="#1a1a1a" font-weight="normal" font-style="normal"  textLength="14.8" lengthAdjust="spacingAndGlyphs">600</text>
<text x="598.4" y="110.97" font-size="8.0" text-anchor="end" fill="#1a1a1a" font-weight="normal" font-style="normal"  textLength="14.8" lengthAdjust="spacingAndGlyphs">700</text>
<text x="598.4" y="102.28" font-size="8.0" text-anchor="end" fill="#1a1a1a" font-weight="normal" font-style="normal"  textLength="14.8" lengthAdjust="spacingAndGlyphs">800</text>
<rect x="602.3" y="113.42859999999999" width="10.600000000000023" height="57.77140000000001" fill="#000" stroke="none" stroke-width="1" />
<rect x="616.2" y="124.0914" width="10.799999999999955" height="47.1086" fill="#000" stroke="none" stroke-width="1" />
<rect x="630.4" y="134.22979999999998" width="10.800000000000068" height="36.970200000000006" fill="#000" stroke="none" stroke-width="1" />
<rect x="644.7" y="147.3398" width="10.699999999999932" height="23.860200000000003" fill="#000" stroke="none" stroke-width="1" />
<rect x="659" y="153.283" width="10.700000000000045" height="17.917" fill="#000" stroke="none" stroke-width="1" />
<text x="601.5" y="180.2" font-size="9.6" text-anchor="start" fill="#222" font-weight="normal" font-style="normal" transform="rotate(30 601.5 180.2)" >EC</text>
<text x="616.1" y="180.2" font-size="9.6" text-anchor="start" fill="#222" font-weight="normal" font-style="normal" transform="rotate(30 616.1 180.2)" >PC</text>
<text x="630.7" y="180.8" font-size="9.6" text-anchor="start" fill="#222" font-weight="normal" font-style="normal" transform="rotate(30 630.7 180.8)" >MG</text>
<text x="646.6" y="180.8" font-size="9.6" text-anchor="start" fill="#222" font-weight="normal" font-style="normal" transform="rotate(30 646.6 180.8)" >Tcell</text>
<text x="662.4" y="180.2" font-size="9.6" text-anchor="start" fill="#222" font-weight="normal" font-style="normal" transform="rotate(30 662.4 180.2)" >OPC</text>
<text x="577.7" y="87.8" font-size="9" text-anchor="middle" fill="#222" font-weight="normal" font-style="normal" transform="rotate(-90 577.7 87.8)"  textLength="79.4" lengthAdjust="spacingAndGlyphs">(n) L-R interactions</text>
<text x="7.6" y="198.6" font-size="8.9" text-anchor="start" fill="#111" font-weight="bold" font-style="normal" >E</text>
<text x="98.75" y="204.8" font-size="9.5" text-anchor="middle" fill="#222" font-weight="normal" font-style="normal"  textLength="94.1" lengthAdjust="spacingAndGlyphs">PC-ETMR interactions</text>
<rect x="16.9" y="210.7" width="163.1" height="109.3" fill="none" stroke="#555" stroke-width="1" />
<text x="95.1" y="223.2" font-size="9.5" text-anchor="middle" fill="#333" font-weight="normal" font-style="normal"  textLength="66" lengthAdjust="spacingAndGlyphs">(%) interactions</text>
<g transform="translate(23.7 223) scale(1.0)"><path d="M0,3.0 C0.8,2.0 2.0,1.3 3.3,1.1 L4.3,0 L5.1,0.9 C8,0.5 11.5,1.0 14,2.6 C15.5,3.6 16.6,4.6 17.1,5.4 C17.0,6.8 16.4,7.9 15.3,8.5 L13.2,8.8 L12.6,9.3 L9.2,9.3 L9.3,8.8 L11.4,8.6 C10.2,8.0 9.0,7.4 7.9,6.8 L6.2,7.3 L5.4,8.1 L3.0,8.3 L2.9,7.8 L4.6,7.2 L5.2,6.2 C3.7,5.6 2.2,5.0 1.4,4.5 C0.7,4.1 0.2,3.6 0,3.0 Z" fill="#2b2b2b"/><path d="M16.8,6.0 C19.0,6.6 20.4,7.7 20.3,8.9 C20.2,9.9 18.5,10.4 15.0,10.2" fill="none" stroke="#2b2b2b" stroke-width="0.5"/></g>
<g transform="translate(168.7 221.9) scale(1.0040485829959516)" fill="#444444"><ellipse cx="0" cy="1.5" rx="1.15" ry="1.5"/><path d="M-0.6,2.9 L0.6,2.9 L0.8,3.6 L2.6,4.0 C3.0,4.3 3.1,5 3.2,6 L3.5,10.5 L3.8,12.5 L3.4,13.2 L3.0,11.8 L2.6,8.2 L2.4,10.5 L2.4,13 L1.9,18 L1.5,22.5 L1.2,24.7 L0.2,24.7 L0.2,22.5 L0.1,15 L-0.1,15 L-0.2,22.5 L-0.2,24.7 L-1.2,24.7 L-1.5,22.5 L-1.9,18 L-2.4,13 L-2.4,10.5 L-2.6,8.2 L-3.0,11.8 L-3.4,13.2 L-3.8,12.5 L-3.5,10.5 L-3.2,6 C-3.1,5 -3.0,4.3 -2.6,4.0 L-0.8,3.6 Z"/></g>
<path d="M56.2,262.8 L56.20,235.10 A27.7,27.7 0 0 1 79.59,277.64 Z" fill="#c96fac" stroke="none" stroke-width="0.8"/>
<path d="M56.2,262.8 L79.59,277.64 A27.7,27.7 0 0 1 33.79,279.08 Z" fill="#67b33c" stroke="none" stroke-width="0.8"/>
<path d="M56.2,262.8 L33.79,279.08 A27.7,27.7 0 0 1 56.20,235.10 Z" fill="#c3a202" stroke="none" stroke-width="0.8"/>
<text x="67.7" y="254.4" font-size="7.2" text-anchor="middle" fill="#222" font-weight="normal" font-style="normal" >34</text>
<text x="54.9" y="284.5" font-size="7.2" text-anchor="middle" fill="#222" font-weight="normal" font-style="normal" >31</text>
<text x="40.9" y="254.4" font-size="7.2" text-anchor="middle" fill="#222" font-weight="normal" font-style="normal" >31</text>
<path d="M139.1,264.0 L139.10,236.00 A28.0,28.0 0 0 1 159.51,283.17 Z" fill="#c96fac" stroke="none" stroke-width="0.8"/>
<path d="M139.1,264.0 L159.51,283.17 A28.0,28.0 0 0 1 111.32,267.51 Z" fill="#67b33c" stroke="none" stroke-width="0.8"/>
<path d="M139.1,264.0 L111.32,267.51 A28.0,28.0 0 0 1 139.10,236.00 Z" fill="#c3a202" stroke="none" stroke-width="0.8"/>
<text x="153.9" y="258.2" font-size="7.2" text-anchor="middle" fill="#222" font-weight="normal" font-style="normal" >37</text>
<text x="136.4" y="280.1" font-size="7.2" text-anchor="middle" fill="#222" font-weight="normal" font-style="normal" >36</text>
<text x="126.1" y="254.4" font-size="7.2" text-anchor="middle" fill="#222" font-weight="normal" font-style="normal" >28</text>
<rect x="78.3" y="292.2" width="45.4" height="18.4" fill="none" stroke="#333" stroke-width="0.9" />
<circle cx="83.8" cy="297.1" r="3.0" fill="#c96fac" stroke="none" stroke-width="1" />
<text x="88.2" y="299.6" font-size="6.8" text-anchor="start" fill="#333" font-weight="normal" font-style="normal" >RG-like</text>
<circle cx="83.8" cy="306.40000000000003" r="3.0" fill="#67b33c" stroke="none" stroke-width="1" />
<text x="88.2" y="308.90000000000003" font-size="6.8" text-anchor="start" fill="#333" font-weight="normal" font-style="normal" >NProg-like</text>
<circle cx="83.8" cy="315.70000000000005" r="3.0" fill="#c3a202" stroke="none" stroke-width="1" />
<text x="88.2" y="318.20000000000005" font-size="6.8" text-anchor="start" fill="#333" font-weight="normal" font-style="normal" >Nb-like</text>
<line x1="123.7" y1="301.4" x2="134.8" y2="301.4" stroke="#333" stroke-width="0.8" />
<text x="156.2" y="300.2" font-size="6.8" text-anchor="middle" fill="#333" font-weight="normal" font-style="normal" >self-renewing</text>
<text x="156.2" y="308.2" font-size="6.8" text-anchor="middle" fill="#333" font-weight="normal" font-style="normal" >potential</text>
<text x="156.2" y="316.2" font-size="6.8" text-anchor="middle" fill="#333" font-weight="normal" font-style="normal" >(65-84%)</text>
<text x="188.6" y="199.2" font-size="8.9" text-anchor="start" fill="#111" font-weight="bold" font-style="normal" >F</text>
<g transform="translate(215 208) scale(1.0121457489878543)" fill="#444444"><ellipse cx="0" cy="1.5" rx="1.15" ry="1.5"/><path d="M-0.6,2.9 L0.6,2.9 L0.8,3.6 L2.6,4.0 C3.0,4.3 3.1,5 3.2,6 L3.5,10.5 L3.8,12.5 L3.4,13.2 L3.0,11.8 L2.6,8.2 L2.4,10.5 L2.4,13 L1.9,18 L1.5,22.5 L1.2,24.7 L0.2,24.7 L0.2,22.5 L0.1,15 L-0.1,15 L-0.2,22.5 L-0.2,24.7 L-1.2,24.7 L-1.5,22.5 L-1.9,18 L-2.4,13 L-2.4,10.5 L-2.6,8.2 L-3.0,11.8 L-3.4,13.2 L-3.8,12.5 L-3.5,10.5 L-3.2,6 C-3.1,5 -3.0,4.3 -2.6,4.0 L-0.8,3.6 Z"/></g>
<text x="303.65" y="194.0" font-size="5.9" text-anchor="middle" fill="#333" font-weight="normal" font-style="normal"  textLength="70.3" lengthAdjust="spacingAndGlyphs">(n) L_R interactions = 610</text>
<path d="M278.02,204.21 A71.5,71.5 0 0 1 283.00,202.40 L290.17,224.79 A48,48 0 0 0 286.82,226.00 Z" fill="#eeeeee" stroke="#fff" stroke-width="0.5"/>
<path d="M283.00,202.40 A71.5,71.5 0 0 1 288.11,200.98 L293.59,223.83 A48,48 0 0 0 290.17,224.79 Z" fill="#eeeeee" stroke="#fff" stroke-width="0.5"/>
<path d="M288.11,200.98 A71.5,71.5 0 0 1 293.31,199.93 L297.08,223.12 A48,48 0 0 0 293.59,223.83 Z" fill="#eeeeee" stroke="#fff" stroke-width="0.5"/>
<path d="M293.31,199.93 A71.5,71.5 0 0 1 298.57,199.27 L300.62,222.68 A48,48 0 0 0 297.08,223.12 Z" fill="#eeeeee" stroke="#fff" stroke-width="0.5"/>
<path d="M298.57,199.27 A71.5,71.5 0 0 1 308.54,199.10 L307.31,222.57 A48,48 0 0 0 300.62,222.68 Z" fill="#e6e6e6" stroke="#fff" stroke-width="0.5"/>
<path d="M308.54,199.10 A71.5,71.5 0 0 1 322.10,201.12 L316.41,223.93 A48,48 0 0 0 307.31,222.57 Z" fill="#e3c8e3" stroke="#fff" stroke-width="0.5"/>
<path d="M364.08,230.52 A71.5,71.5 0 0 1 372.99,249.00 L350.58,256.07 A48,48 0 0 0 344.59,243.66 Z" fill="#e6e6e6" stroke="#fff" stroke-width="0.5"/>
<path d="M372.99,249.00 A71.5,71.5 0 0 1 376.30,270.50 L352.80,270.50 A48,48 0 0 0 350.58,256.07 Z" fill="#e6e6e6" stroke="#fff" stroke-width="0.5"/>
<path d="M374.18,287.80 A71.5,71.5 0 0 1 373.53,290.21 L350.94,283.73 A48,48 0 0 0 351.37,282.11 Z" fill="#eeeeee" stroke="#fff" stroke-width="0.5"/>
<path d="M373.53,290.21 A71.5,71.5 0 0 1 372.80,292.59 L350.45,285.33 A48,48 0 0 0 350.94,283.73 Z" fill="#eeeeee" stroke="#fff" stroke-width="0.5"/>
<path d="M372.80,292.59 A71.5,71.5 0 0 1 371.99,294.95 L349.91,286.92 A48,48 0 0 0 350.45,285.33 Z" fill="#eeeeee" stroke="#fff" stroke-width="0.5"/>
<path d="M362.64,312.53 A71.5,71.5 0 0 1 360.89,314.85 L342.45,300.27 A48,48 0 0 0 343.63,298.71 Z" fill="#eeeeee" stroke="#fff" stroke-width="0.5"/>
<path d="M360.89,314.85 A71.5,71.5 0 0 1 359.03,317.09 L341.21,301.78 A48,48 0 0 0 342.45,300.27 Z" fill="#eeeeee" stroke="#fff" stroke-width="0.5"/>
<path d="M359.03,317.09 A71.5,71.5 0 0 1 357.09,319.26 L339.90,303.24 A48,48 0 0 0 341.21,301.78 Z" fill="#eeeeee" stroke="#fff" stroke-width="0.5"/>
<path d="M340.77,332.30 A71.5,71.5 0 0 1 334.45,335.56 L324.71,314.18 A48,48 0 0 0 328.94,311.99 Z" fill="#e6e6e6" stroke="#fff" stroke-width="0.5"/>
<path d="M334.45,335.56 A71.5,71.5 0 0 1 328.08,338.10 L320.43,315.88 A48,48 0 0 0 324.71,314.18 Z" fill="#e6e6e6" stroke="#fff" stroke-width="0.5"/>
<path d="M298.57,341.73 A71.5,71.5 0 0 1 295.67,341.42 L298.67,318.11 A48,48 0 0 0 300.62,318.32 Z" fill="#eeeeee" stroke="#fff" stroke-width="0.5"/>
<path d="M295.67,341.42 A71.5,71.5 0 0 1 292.79,340.98 L296.74,317.82 A48,48 0 0 0 298.67,318.11 Z" fill="#eeeeee" stroke="#fff" stroke-width="0.5"/>
<path d="M292.79,340.98 A71.5,71.5 0 0 1 289.93,340.44 L294.82,317.45 A48,48 0 0 0 296.74,317.82 Z" fill="#eeeeee" stroke="#fff" stroke-width="0.5"/>
<path d="M289.93,340.44 A71.5,71.5 0 0 1 281.52,338.10 L289.17,315.88 A48,48 0 0 0 294.82,317.45 Z" fill="#e3c8e3" stroke="#fff" stroke-width="0.5"/>
<path d="M254.24,321.06 A71.5,71.5 0 0 1 252.08,318.80 L269.41,302.93 A48,48 0 0 0 270.86,304.44 Z" fill="#eeeeee" stroke="#fff" stroke-width="0.5"/>
<path d="M252.08,318.80 A71.5,71.5 0 0 1 250.03,316.46 L268.03,301.35 A48,48 0 0 0 269.41,302.93 Z" fill="#eeeeee" stroke="#fff" stroke-width="0.5"/>
<path d="M250.03,316.46 A71.5,71.5 0 0 1 248.08,314.03 L266.72,299.72 A48,48 0 0 0 268.03,301.35 Z" fill="#eeeeee" stroke="#fff" stroke-width="0.5"/>
<path d="M248.08,314.03 A71.5,71.5 0 0 1 246.23,311.51 L265.48,298.03 A48,48 0 0 0 266.72,299.72 Z" fill="#eeeeee" stroke="#fff" stroke-width="0.5"/>
<path d="M246.23,311.51 A71.5,71.5 0 0 1 240.00,300.72 L261.30,290.79 A48,48 0 0 0 265.48,298.03 Z" fill="#e6e6e6" stroke="#fff" stroke-width="0.5"/>
<path d="M240.00,300.72 A71.5,71.5 0 0 1 235.42,287.80 L258.23,282.11 A48,48 0 0 0 261.30,290.79 Z" fill="#e6e6e6" stroke="#fff" stroke-width="0.5"/>
<path d="M235.74,251.99 A71.5,71.5 0 0 1 236.55,249.20 L258.98,256.20 A48,48 0 0 0 258.44,258.08 Z" fill="#eeeeee" stroke="#fff" stroke-width="0.5"/>
<path d="M236.55,249.20 A71.5,71.5 0 0 1 237.47,246.44 L259.60,254.35 A48,48 0 0 0 258.98,256.20 Z" fill="#eeeeee" stroke="#fff" stroke-width="0.5"/>
<path d="M237.47,246.44 A71.5,71.5 0 0 1 238.51,243.72 L260.30,252.52 A48,48 0 0 0 259.60,254.35 Z" fill="#eeeeee" stroke="#fff" stroke-width="0.5"/>
<path d="M238.51,243.72 A71.5,71.5 0 0 1 244.84,231.56 L264.54,244.36 A48,48 0 0 0 260.30,252.52 Z" fill="#e6e6e6" stroke="#fff" stroke-width="0.5"/>
<path d="M244.84,231.56 A71.5,71.5 0 0 1 253.37,220.83 L270.27,237.16 A48,48 0 0 0 264.54,244.36 Z" fill="#e3c8e3" stroke="#fff" stroke-width="0.5"/>
<path d="M316.41,223.93 A48,48 0 0 1 352.80,270.50 L329.00,270.50 A24.2,24.2 0 0 0 310.65,247.02 Z" fill="#d3a8d6" stroke="#fff" stroke-width="0.8"/>
<path d="M352.80,270.50 A48,48 0 0 1 349.30,288.48 L327.24,279.57 A24.2,24.2 0 0 0 329.00,270.50 Z" fill="#d9d9d9" stroke="#fff" stroke-width="0.8"/>
<path d="M349.30,288.48 A48,48 0 0 1 338.14,305.03 L321.61,287.91 A24.2,24.2 0 0 0 327.24,279.57 Z" fill="#d9d9d9" stroke="#fff" stroke-width="0.8"/>
<path d="M338.14,305.03 A48,48 0 0 1 317.63,316.75 L311.27,293.82 A24.2,24.2 0 0 0 321.61,287.91 Z" fill="#d9d9d9" stroke="#fff" stroke-width="0.8"/>
<path d="M317.63,316.75 A48,48 0 0 1 289.33,315.94 L297.00,293.41 A24.2,24.2 0 0 0 311.27,293.82 Z" fill="#c3a202" stroke="#fff" stroke-width="0.8"/>
<path d="M289.33,315.94 A48,48 0 0 1 258.15,281.79 L281.28,276.19 A24.2,24.2 0 0 0 297.00,293.41 Z" fill="#d9d9d9" stroke="#fff" stroke-width="0.8"/>
<path d="M258.15,281.79 A48,48 0 0 1 270.27,237.16 L287.39,253.69 A24.2,24.2 0 0 0 281.28,276.19 Z" fill="#67b33c" stroke="#fff" stroke-width="0.8"/>
<path d="M270.27,237.16 A48,48 0 0 1 316.41,223.93 L310.65,247.02 A24.2,24.2 0 0 0 287.39,253.69 Z" fill="#c96fac" stroke="#fff" stroke-width="0.8"/>
<circle cx="304.8" cy="270.5" r="24.2" fill="#fff" stroke="none" stroke-width="1" />
<text x="304.2" y="274" font-size="10.6" text-anchor="middle" fill="#333" font-weight="normal" font-style="normal"  textLength="19.5" lengthAdjust="spacingAndGlyphs">ECM</text>
<text x="296.1" y="240.3" font-size="6.7" text-anchor="middle" fill="#333" font-weight="normal" font-style="normal" >RG-like</text>
<text x="334.1" y="252.1" font-size="6.7" text-anchor="middle" fill="#333" font-weight="normal" font-style="normal" >PC</text>
<text x="341.7" y="280.6" font-size="6.7" text-anchor="middle" fill="#333" font-weight="normal" font-style="normal" >OPC</text>
<text x="336.9" y="295.2" font-size="6.7" text-anchor="middle" fill="#333" font-weight="normal" font-style="normal" >MG</text>
<text x="324.8" y="307.3" font-size="6.7" text-anchor="middle" fill="#333" font-weight="normal" font-style="normal" >T cells</text>
<text x="303.9" y="311.6" font-size="6.7" text-anchor="middle" fill="#333" font-weight="normal" font-style="normal" >Nb-like</text>
<text x="278.3" y="297.5" font-size="6.7" text-anchor="middle" fill="#333" font-weight="normal" font-style="normal" >EC</text>
<text x="269.3" y="264.2" font-size="6.7" text-anchor="middle" fill="#222" font-weight="normal" font-style="normal" >Nprog-</text>
<text x="270.1" y="272.1" font-size="6.7" text-anchor="middle" fill="#222" font-weight="normal" font-style="normal" >like</text>
<text x="304" y="206.4" font-size="6.8" text-anchor="middle" fill="#444" font-weight="normal" font-style="normal" >EC</text>
<text x="315.5" y="207.0" font-size="6.8" text-anchor="middle" fill="#444" font-weight="normal" font-style="normal" >PC</text>
<text x="254.9" y="232.9" font-size="6.8" text-anchor="middle" fill="#444" font-weight="normal" font-style="normal" >PC</text>
<text x="244.6" y="242.0" font-size="6.8" text-anchor="middle" fill="#444" font-weight="normal" font-style="normal" >EC</text>
<text x="364.7" y="244.3" font-size="6.8" text-anchor="middle" fill="#444" font-weight="normal" font-style="normal" >EC</text>
<text x="368" y="262.4" font-size="6.8" text-anchor="middle" fill="#444" font-weight="normal" font-style="normal" >PC</text>
<text x="244.6" y="293.4" font-size="6.8" text-anchor="middle" fill="#444" font-weight="normal" font-style="normal" >PC</text>
<text x="248" y="304.9" font-size="6.8" text-anchor="middle" fill="#444" font-weight="normal" font-style="normal" >EC</text>
<text x="282.4" y="338.2" font-size="6.8" text-anchor="middle" fill="#444" font-weight="normal" font-style="normal" >PC</text>
<text x="292.6" y="342.5" font-size="6.8" text-anchor="middle" fill="#444" font-weight="normal" font-style="normal" >EC</text>
<text x="327.7" y="338.2" font-size="6.8" text-anchor="middle" fill="#444" font-weight="normal" font-style="normal" >PC</text>
<text x="339.3" y="333.8" font-size="6.8" text-anchor="middle" fill="#444" font-weight="normal" font-style="normal" >EC</text>
<text x="353.4" y="323.0" font-size="6.8" text-anchor="middle" fill="#444" font-weight="normal" font-style="normal" transform="rotate(45 353.4 323.0)" >PC</text>
<text x="368.4" y="298.4" font-size="6.8" text-anchor="middle" fill="#444" font-weight="normal" font-style="normal" transform="rotate(22 368.4 298.4)" >PC</text>
<path d="M344.0,242.8 L364.0,228.7" stroke="#6cc04a" stroke-width="0.6"/>
<path d="M343.6,242.3 L363.5,227.9" stroke="#d080b8" stroke-width="0.6"/>
<text x="362.0" y="219.6" font-size="6.8" text-anchor="end" fill="#333" font-weight="normal" font-style="normal" >Nprog-like</text>
<text x="356.6" y="226.6" font-size="6.8" text-anchor="end" fill="#333" font-weight="normal" font-style="normal" >RG-like</text>
<line x1="358.8" y1="221.2" x2="358.8" y2="231.5" stroke="#333" stroke-width="0.5" />
<line x1="356.0" y1="228.0" x2="356.0" y2="235.0" stroke="#333" stroke-width="0.5" />
<line x1="383.7" y1="207.4" x2="365" y2="229.3" stroke="#333" stroke-width="0.7" />
<rect x="383.7" y="207.4" width="47.9" height="50.1" fill="none" stroke="#333" stroke-width="0.9" />
<text x="387.3" y="214.8" font-size="6.9" text-anchor="start" fill="#333" font-weight="normal" font-style="normal" >FBN1_α5β1</text>
<text x="387.3" y="222.88000000000002" font-size="6.9" text-anchor="start" fill="#333" font-weight="normal" font-style="normal" >FN1_α5β1</text>
<text x="387.3" y="230.96" font-size="6.9" text-anchor="start" fill="#333" font-weight="normal" font-style="normal" >FN1_αVβ1</text>
<text x="387.3" y="239.04000000000002" font-size="6.9" text-anchor="start" fill="#333" font-weight="normal" font-style="normal" >FN1_αVβ5</text>
<text x="387.3" y="247.12" font-size="6.9" text-anchor="start" fill="#333" font-weight="normal" font-style="normal" >LAMC1_α6β1</text>
<text x="387.3" y="255.20000000000002" font-size="6.9" text-anchor="start" fill="#333" font-weight="normal" font-style="normal" >LAMC1_α7β1</text>
<line x1="377" y1="270.2" x2="387.8" y2="270.2" stroke="#333" stroke-width="0.7" />
<rect x="387.8" y="270.2" width="33.9" height="33.8" fill="none" stroke="#333" stroke-width="0.9" />
<text x="390.0" y="276.7" font-size="6.7" text-anchor="start" fill="#333" font-weight="normal" font-style="normal" >COL11A1</text>
<text x="390.0" y="284.9" font-size="6.7" text-anchor="start" fill="#333" font-weight="normal" font-style="normal" >COL13A1</text>
<text x="390.0" y="293.09999999999997" font-size="6.7" text-anchor="start" fill="#333" font-weight="normal" font-style="normal" >COL6A1</text>
<text x="390.0" y="301.3" font-size="6.7" text-anchor="start" fill="#333" font-weight="normal" font-style="normal" >COL5A2</text>
<text x="425.1" y="286.3" font-size="6.8" text-anchor="middle" fill="#333" font-weight="normal" font-style="normal" >&amp;</text>
<rect x="428.5" y="270.2" width="34.1" height="33.8" fill="none" stroke="#333" stroke-width="0.9" />
<text x="435.9" y="280.5" font-size="6.8" text-anchor="start" fill="#333" font-weight="normal" font-style="normal" >α1β1</text>
<text x="435.9" y="288.3" font-size="6.8" text-anchor="start" fill="#333" font-weight="normal" font-style="normal" >α10β1</text>
<text x="435.9" y="296.1" font-size="6.8" text-anchor="start" fill="#333" font-weight="normal" font-style="normal" >α11β1</text>
<circle cx="218.5" cy="326.4" r="16.4" fill="none" stroke="#111" stroke-width="0.9" />
<circle cx="218.5" cy="326.4" r="6.9" fill="none" stroke="#111" stroke-width="0.9" />
<text x="203.0" y="313.0" font-size="7" text-anchor="middle" fill="#333" font-weight="normal" font-style="normal" >R</text>
<text x="213.8" y="319.2" font-size="6.6" text-anchor="middle" fill="#333" font-weight="normal" font-style="normal" >L</text>
<line x1="222.2" y1="320.5" x2="227.0" y2="312.8" stroke="#111" stroke-width="0.7" />
<path d="M227.0,312.8 L226.7,316.7 L223.7,314.8 Z" fill="#111"/>
<line x1="211.6" y1="326.4" x2="202.5" y2="326.4" stroke="#111" stroke-width="0.7" />
<path d="M202.5,326.4 L205.9,324.6 L205.9,328.2 Z" fill="#111"/>
<line x1="223.1" y1="331.5" x2="229.2" y2="338.3" stroke="#111" stroke-width="0.7" />
<path d="M229.2,338.3 L225.6,337.0 L228.3,334.6 Z" fill="#111"/>
<text x="218.25" y="350.8" font-size="6.7" text-anchor="middle" fill="#333" font-weight="normal" font-style="normal"  textLength="49.1" lengthAdjust="spacingAndGlyphs">Signals direction</text>
<text x="473.2" y="200" font-size="8.9" text-anchor="start" fill="#111" font-weight="bold" font-style="normal" >G</text>
<g transform="translate(487.8 208) scale(0.9716599190283401)" fill="#444444"><ellipse cx="0" cy="1.5" rx="1.15" ry="1.5"/><path d="M-0.6,2.9 L0.6,2.9 L0.8,3.6 L2.6,4.0 C3.0,4.3 3.1,5 3.2,6 L3.5,10.5 L3.8,12.5 L3.4,13.2 L3.0,11.8 L2.6,8.2 L2.4,10.5 L2.4,13 L1.9,18 L1.5,22.5 L1.2,24.7 L0.2,24.7 L0.2,22.5 L0.1,15 L-0.1,15 L-0.2,22.5 L-0.2,24.7 L-1.2,24.7 L-1.5,22.5 L-1.9,18 L-2.4,13 L-2.4,10.5 L-2.6,8.2 L-3.0,11.8 L-3.4,13.2 L-3.8,12.5 L-3.5,10.5 L-3.2,6 C-3.1,5 -3.0,4.3 -2.6,4.0 L-0.8,3.6 Z"/></g>
<text x="559.8" y="194.1" font-size="5.9" text-anchor="middle" fill="#333" font-weight="normal" font-style="normal"  textLength="65.6" lengthAdjust="spacingAndGlyphs">(n) L_R interactions = 97</text>
<path d="M595.74,209.16 A72.5,72.5 0 0 1 599.98,211.91 L585.93,231.98 A48,48 0 0 0 583.12,230.16 Z" fill="#eeeeee" stroke="#fff" stroke-width="0.6"/>
<path d="M599.98,211.91 A72.5,72.5 0 0 1 605.96,216.58 L589.89,235.07 A48,48 0 0 0 585.93,231.98 Z" fill="#eeeeee" stroke="#fff" stroke-width="0.6"/>
<path d="M605.96,216.58 A72.5,72.5 0 0 1 612.28,222.79 L594.07,239.18 A48,48 0 0 0 589.89,235.07 Z" fill="#e6e6e6" stroke="#fff" stroke-width="0.6"/>
<path d="M612.28,222.79 A72.5,72.5 0 0 1 625.62,244.14 L602.90,253.32 A48,48 0 0 0 594.07,239.18 Z" fill="#e6e6e6" stroke="#fff" stroke-width="0.6"/>
<path d="M625.62,244.14 A72.5,72.5 0 0 1 630.90,270.67 L606.40,270.88 A48,48 0 0 0 602.90,253.32 Z" fill="#e6e6e6" stroke="#fff" stroke-width="0.6"/>
<path d="M630.86,273.83 A72.5,72.5 0 0 1 630.68,276.99 L606.25,275.07 A48,48 0 0 0 606.37,272.98 Z" fill="#eeeeee" stroke="#fff" stroke-width="0.6"/>
<path d="M630.68,276.99 A72.5,72.5 0 0 1 630.36,280.14 L606.04,277.15 A48,48 0 0 0 606.25,275.07 Z" fill="#eeeeee" stroke="#fff" stroke-width="0.6"/>
<path d="M629.57,285.13 A72.5,72.5 0 0 1 628.90,288.22 L605.07,282.51 A48,48 0 0 0 605.52,280.46 Z" fill="#eeeeee" stroke="#fff" stroke-width="0.6"/>
<path d="M628.90,288.22 A72.5,72.5 0 0 1 628.09,291.28 L604.54,284.53 A48,48 0 0 0 605.07,282.51 Z" fill="#eeeeee" stroke="#fff" stroke-width="0.6"/>
<path d="M619.88,309.72 A72.5,72.5 0 0 1 617.79,312.88 L597.72,298.83 A48,48 0 0 0 599.11,296.74 Z" fill="#eeeeee" stroke="#fff" stroke-width="0.6"/>
<path d="M617.79,312.88 A72.5,72.5 0 0 1 615.53,315.94 L596.22,300.85 A48,48 0 0 0 597.72,298.83 Z" fill="#eeeeee" stroke="#fff" stroke-width="0.6"/>
<path d="M615.53,315.94 A72.5,72.5 0 0 1 613.12,318.86 L594.63,302.79 A48,48 0 0 0 596.22,300.85 Z" fill="#eeeeee" stroke="#fff" stroke-width="0.6"/>
<path d="M613.12,318.86 A72.5,72.5 0 0 1 606.91,325.18 L590.52,306.97 A48,48 0 0 0 594.63,302.79 Z" fill="#e6e6e6" stroke="#fff" stroke-width="0.6"/>
<path d="M591.31,335.90 A72.5,72.5 0 0 1 584.97,338.76 L575.99,315.96 A48,48 0 0 0 580.19,314.07 Z" fill="#eeeeee" stroke="#fff" stroke-width="0.6"/>
<path d="M584.97,338.76 A72.5,72.5 0 0 1 575.94,341.65 L570.01,317.87 A48,48 0 0 0 575.99,315.96 Z" fill="#d27bbb" stroke="#fff" stroke-width="0.6"/>
<path d="M575.94,341.65 A72.5,72.5 0 0 1 565.98,343.40 L563.42,319.04 A48,48 0 0 0 570.01,317.87 Z" fill="#6cbd45" stroke="#fff" stroke-width="0.6"/>
<path d="M539.64,341.33 A72.5,72.5 0 0 1 534.80,339.85 L542.77,316.68 A48,48 0 0 0 545.98,317.66 Z" fill="#eeeeee" stroke="#fff" stroke-width="0.6"/>
<path d="M534.80,339.85 A72.5,72.5 0 0 1 530.07,338.04 L539.64,315.48 A48,48 0 0 0 542.77,316.68 Z" fill="#eeeeee" stroke="#fff" stroke-width="0.6"/>
<path d="M530.07,338.04 A72.5,72.5 0 0 1 525.49,335.90 L536.61,314.07 A48,48 0 0 0 539.64,315.48 Z" fill="#eeeeee" stroke="#fff" stroke-width="0.6"/>
<path d="M525.49,335.90 A72.5,72.5 0 0 1 521.06,333.44 L533.68,312.44 A48,48 0 0 0 536.61,314.07 Z" fill="#eeeeee" stroke="#fff" stroke-width="0.6"/>
<path d="M498.29,311.84 A72.5,72.5 0 0 1 494.39,305.34 L516.02,293.83 A48,48 0 0 0 518.61,298.14 Z" fill="#eeeeee" stroke="#fff" stroke-width="0.6"/>
<path d="M493.80,304.21 A72.5,72.5 0 0 1 490.27,296.10 L513.29,287.72 A48,48 0 0 0 515.63,293.09 Z" fill="#e6e6e6" stroke="#fff" stroke-width="0.6"/>
<path d="M489.85,294.90 A72.5,72.5 0 0 1 487.48,286.37 L511.45,281.28 A48,48 0 0 0 513.02,286.93 Z" fill="#e6e6e6" stroke="#fff" stroke-width="0.6"/>
<path d="M493.80,238.39 A72.5,72.5 0 0 1 496.26,233.96 L517.26,246.58 A48,48 0 0 0 515.63,249.51 Z" fill="#eeeeee" stroke="#fff" stroke-width="0.6"/>
<path d="M496.26,233.96 A72.5,72.5 0 0 1 499.01,229.72 L519.08,243.77 A48,48 0 0 0 517.26,246.58 Z" fill="#eeeeee" stroke="#fff" stroke-width="0.6"/>
<path d="M499.30,229.30 A72.5,72.5 0 0 1 510.45,216.92 L526.66,235.29 A48,48 0 0 0 519.27,243.49 Z" fill="#e6e6e6" stroke="#fff" stroke-width="0.6"/>
<path d="M510.45,216.92 A72.5,72.5 0 0 1 526.85,206.03 L537.51,228.08 A48,48 0 0 0 526.66,235.29 Z" fill="#e6e6e6" stroke="#fff" stroke-width="0.6"/>
<path d="M538.88,227.45 A48,48 0 0 1 606.40,271.30 L582.90,271.30 A24.5,24.5 0 0 0 548.43,248.92 Z" fill="#c96fac" stroke="#fff" stroke-width="0.8"/>
<path d="M606.40,271.30 A48,48 0 0 1 605.93,277.98 L582.66,274.71 A24.5,24.5 0 0 0 582.90,271.30 Z" fill="#d9d9d9" stroke="#fff" stroke-width="0.8"/>
<path d="M605.93,277.98 A48,48 0 0 1 602.25,290.82 L580.78,281.27 A24.5,24.5 0 0 0 582.66,274.71 Z" fill="#d9d9d9" stroke="#fff" stroke-width="0.8"/>
<path d="M602.25,290.82 A48,48 0 0 1 589.89,307.53 L574.47,289.79 A24.5,24.5 0 0 0 580.78,281.27 Z" fill="#d9d9d9" stroke="#fff" stroke-width="0.8"/>
<path d="M589.89,307.53 A48,48 0 0 1 563.42,319.04 L560.96,295.67 A24.5,24.5 0 0 0 574.47,289.79 Z" fill="#d3a8d6" stroke="#fff" stroke-width="0.8"/>
<path d="M563.42,319.04 A48,48 0 0 1 531.56,311.09 L544.70,291.61 A24.5,24.5 0 0 0 560.96,295.67 Z" fill="#d9d9d9" stroke="#fff" stroke-width="0.8"/>
<path d="M531.56,311.09 A48,48 0 0 1 511.45,281.28 L534.44,276.39 A24.5,24.5 0 0 0 544.70,291.61 Z" fill="#c3a202" stroke="#fff" stroke-width="0.8"/>
<path d="M511.45,281.28 A48,48 0 0 1 538.88,227.45 L548.43,248.92 A24.5,24.5 0 0 0 534.44,276.39 Z" fill="#67b33c" stroke="#fff" stroke-width="0.8"/>
<circle cx="558.4" cy="271.3" r="24.5" fill="#fff" stroke="none" stroke-width="1" />
<text x="556.9" y="267.6" font-size="9.6" text-anchor="middle" fill="#333" font-weight="normal" font-style="normal"  textLength="39.2" lengthAdjust="spacingAndGlyphs">Stem cell</text>
<text x="558.65" y="278.2" font-size="9.6" text-anchor="middle" fill="#333" font-weight="normal" font-style="normal"  textLength="39.3" lengthAdjust="spacingAndGlyphs">signalling</text>
<text x="577" y="243.7" font-size="6.8" text-anchor="middle" fill="#333" font-weight="normal" font-style="normal" >RG-like</text>
<text x="597.7" y="275.6" font-size="6.8" text-anchor="middle" fill="#333" font-weight="normal" font-style="normal" >T cells</text>
<text x="589" y="294.6" font-size="6.8" text-anchor="middle" fill="#333" font-weight="normal" font-style="normal" >MG</text>
<text x="571.6" y="305.4" font-size="6.8" text-anchor="middle" fill="#333" font-weight="normal" font-style="normal" >PC</text>
<text x="548" y="307.1" font-size="6.8" text-anchor="middle" fill="#333" font-weight="normal" font-style="normal" >EC</text>
<text x="528.6" y="293" font-size="6.8" text-anchor="middle" fill="#333" font-weight="normal" font-style="normal" >Nb-like</text>
<text x="525.4" y="257.2" font-size="6.8" text-anchor="middle" fill="#333" font-weight="normal" font-style="normal" >NProg-</text>
<text x="525.7" y="264.6" font-size="6.8" text-anchor="middle" fill="#333" font-weight="normal" font-style="normal" >like</text>
<text x="595.3" y="284.4" font-size="6.6" text-anchor="middle" fill="#333" font-weight="normal" font-style="normal" transform="rotate(12 595.3 284.4)" >OPC</text>
<text x="594.6" y="216.9" font-size="4.2" text-anchor="middle" fill="#444" font-weight="normal" font-style="normal" transform="rotate(-57.0 594.6 216.9)" >OPC</text>
<text x="599.3" y="220.3" font-size="4.2" text-anchor="middle" fill="#444" font-weight="normal" font-style="normal" transform="rotate(-52.0 599.3 220.3)" >Nb-like</text>
<text x="605.0" y="225.3" font-size="4.2" text-anchor="middle" fill="#444" font-weight="normal" font-style="normal" transform="rotate(-45.5 605.0 225.3)" >EC</text>
<text x="611.0" y="239.8" font-size="4.2" text-anchor="middle" fill="#444" font-weight="normal" font-style="normal" transform="rotate(-32.0 611.0 239.8)" >RG-like</text>
<text x="619.2" y="260.6" font-size="4.2" text-anchor="middle" fill="#444" font-weight="normal" font-style="normal" transform="rotate(-11.2 619.2 260.6)" >NProg-like</text>
<text x="605.8" y="319.3" font-size="4.2" text-anchor="middle" fill="#444" font-weight="normal" font-style="normal" transform="rotate(44.5 605.8 319.3)" >RG-like</text>
<text x="585.7" y="333.3" font-size="4.2" text-anchor="middle" fill="#444" font-weight="normal" font-style="normal" transform="rotate(65.8 585.7 333.3)" >EC</text>
<text x="578.7" y="336.0" font-size="4.2" text-anchor="middle" fill="#444" font-weight="normal" font-style="normal" transform="rotate(72.2 578.7 336.0)" >RG-like</text>
<text x="569.2" y="333.8" font-size="4.2" text-anchor="middle" fill="#444" font-weight="normal" font-style="normal" transform="rotate(80.0 569.2 333.8)" >NProg-like</text>
<text x="539.0" y="336.3" font-size="4.2" text-anchor="middle" fill="#444" font-weight="normal" font-style="normal" transform="rotate(-73.0 539.0 336.3)" >RG-like</text>
<text x="534.6" y="334.8" font-size="4.2" text-anchor="middle" fill="#444" font-weight="normal" font-style="normal" transform="rotate(-69.0 534.6 334.8)" >Nb-like</text>
<text x="530.3" y="333.0" font-size="4.2" text-anchor="middle" fill="#444" font-weight="normal" font-style="normal" transform="rotate(-65.0 530.3 333.0)" >EC</text>
<text x="526.2" y="330.9" font-size="4.2" text-anchor="middle" fill="#444" font-weight="normal" font-style="normal" transform="rotate(-61.0 526.2 330.9)" >NProg-like</text>
<text x="501.4" y="307.0" font-size="4.2" text-anchor="middle" fill="#444" font-weight="normal" font-style="normal" transform="rotate(-31.0 501.4 307.0)" >OPC</text>
<text x="497.4" y="299.2" font-size="4.2" text-anchor="middle" fill="#444" font-weight="normal" font-style="normal" transform="rotate(-23.5 497.4 299.2)" >RG-like</text>
<text x="494.3" y="290.5" font-size="4.2" text-anchor="middle" fill="#444" font-weight="normal" font-style="normal" transform="rotate(-15.5 494.3 290.5)" >NProg-like</text>
<text x="500.2" y="240.5" font-size="4.2" text-anchor="middle" fill="#444" font-weight="normal" font-style="normal" transform="rotate(29.0 500.2 240.5)" >OPC</text>
<text x="502.6" y="236.5" font-size="4.2" text-anchor="middle" fill="#444" font-weight="normal" font-style="normal" transform="rotate(33.0 502.6 236.5)" >EC</text>
<text x="512.3" y="231.2" font-size="4.2" text-anchor="middle" fill="#444" font-weight="normal" font-style="normal" transform="rotate(42.0 512.3 231.2)" >NProg-like</text>
<text x="524.1" y="221.1" font-size="4.2" text-anchor="middle" fill="#444" font-weight="normal" font-style="normal" transform="rotate(56.4 524.1 221.1)" >RG-like</text>
<path d="M567.9,344.2 Q568.5,345.3 571,345.3 L573.3,345.3 Q574.3,345.6 574.3,346.6 Q574.5,345.4 575.5,345.3 L577.4,345.2 Q578.3,345 578.4,344" fill="none" stroke="#333" stroke-width="0.6"/>
<line x1="574.3" y1="347.3" x2="627.4" y2="340" stroke="#333" stroke-width="0.7" />
<rect x="627.4" y="304.6" width="56.6" height="43.8" fill="none" stroke="#333" stroke-width="0.9" />
<text x="631.7" y="312.7" font-size="6.8" text-anchor="start" fill="#333" font-weight="normal" font-style="normal" >FGFR1_FGFR2</text>
<text x="631.7" y="320.8" font-size="6.8" text-anchor="start" fill="#333" font-weight="normal" font-style="normal" >FGFR2_FGFR3</text>
<text x="631.7" y="328.9" font-size="6.8" text-anchor="start" fill="#333" font-weight="normal" font-style="normal" >WNT5A_FZD2</text>
<text x="631.7" y="337.0" font-size="6.8" text-anchor="start" fill="#333" font-weight="normal" font-style="normal" >WNT5A_FZD3</text>
<text x="631.7" y="345.09999999999997" font-size="6.8" text-anchor="start" fill="#333" font-weight="normal" font-style="normal" >WNT5A_FZD5</text>
<path d="M613.81,407.22 A72,72 0 0 1 619.99,415.14 L600.09,428.56 A48,48 0 0 0 595.97,423.28 Z" fill="#e3c8e3" stroke="#fff" stroke-width="0.6"/>
<path d="M619.99,415.14 A72,72 0 0 1 623.87,421.60 L602.68,432.87 A48,48 0 0 0 600.09,428.56 Z" fill="#eeeeee" stroke="#fff" stroke-width="0.6"/>
<path d="M623.87,421.60 A72,72 0 0 1 627.06,428.43 L604.80,437.42 A48,48 0 0 0 602.68,432.87 Z" fill="#eeeeee" stroke="#fff" stroke-width="0.6"/>
<path d="M628.38,431.96 A72,72 0 0 1 632.30,455.40 L608.30,455.40 A48,48 0 0 0 605.68,439.77 Z" fill="#e6e6e6" stroke="#fff" stroke-width="0.6"/>
<path d="M632.12,460.42 A72,72 0 0 1 630.73,470.37 L607.25,465.38 A48,48 0 0 0 608.18,458.75 Z" fill="#eeeeee" stroke="#fff" stroke-width="0.6"/>
<path d="M622.65,491.40 A72,72 0 0 1 620.68,494.61 L600.56,481.54 A48,48 0 0 0 601.87,479.40 Z" fill="#eeeeee" stroke="#fff" stroke-width="0.6"/>
<path d="M620.68,494.61 A72,72 0 0 1 618.55,497.72 L599.13,483.61 A48,48 0 0 0 600.56,481.54 Z" fill="#eeeeee" stroke="#fff" stroke-width="0.6"/>
<path d="M618.55,497.72 A72,72 0 0 1 613.81,503.58 L595.97,487.52 A48,48 0 0 0 599.13,483.61 Z" fill="#eeeeee" stroke="#fff" stroke-width="0.6"/>
<path d="M613.81,503.58 A72,72 0 0 1 601.60,514.38 L587.83,494.72 A48,48 0 0 0 595.97,487.52 Z" fill="#e6e6e6" stroke="#fff" stroke-width="0.6"/>
<path d="M569.07,526.86 A72,72 0 0 1 567.20,527.07 L564.90,503.18 A48,48 0 0 0 566.15,503.04 Z" fill="#e3c8e3" stroke="#fff" stroke-width="0.6"/>
<path d="M566.58,527.13 A72,72 0 0 1 562.81,527.36 L561.98,503.37 A48,48 0 0 0 564.48,503.22 Z" fill="#eeeeee" stroke="#fff" stroke-width="0.6"/>
<path d="M562.81,527.36 A72,72 0 0 1 557.79,527.36 L558.62,503.37 A48,48 0 0 0 561.98,503.37 Z" fill="#eeeeee" stroke="#fff" stroke-width="0.6"/>
<path d="M556.53,527.30 A72,72 0 0 1 538.05,523.88 L545.47,501.05 A48,48 0 0 0 557.79,503.33 Z" fill="#e6e6e6" stroke="#fff" stroke-width="0.6"/>
<path d="M516.47,512.52 A72,72 0 0 1 514.99,511.35 L530.09,492.70 A48,48 0 0 0 531.08,493.48 Z" fill="#e3c8e3" stroke="#fff" stroke-width="0.6"/>
<path d="M514.02,510.56 A72,72 0 0 1 510.28,507.19 L526.96,489.93 A48,48 0 0 0 529.45,492.17 Z" fill="#eeeeee" stroke="#fff" stroke-width="0.6"/>
<path d="M510.28,507.19 A72,72 0 0 1 505.96,502.64 L524.07,486.89 A48,48 0 0 0 526.96,489.93 Z" fill="#eeeeee" stroke="#fff" stroke-width="0.6"/>
<path d="M505.14,501.68 A72,72 0 0 1 496.15,488.09 L517.53,477.19 A48,48 0 0 0 523.53,486.25 Z" fill="#e6e6e6" stroke="#fff" stroke-width="0.6"/>
<path d="M488.40,451.63 A72,72 0 0 1 488.69,447.87 L512.56,450.38 A48,48 0 0 0 512.37,452.89 Z" fill="#eeeeee" stroke="#fff" stroke-width="0.6"/>
<path d="M488.84,446.63 A72,72 0 0 1 489.62,441.66 L513.18,446.24 A48,48 0 0 0 512.66,449.55 Z" fill="#eeeeee" stroke="#fff" stroke-width="0.6"/>
<path d="M489.62,441.66 A72,72 0 0 1 491.09,435.55 L514.16,442.17 A48,48 0 0 0 513.18,446.24 Z" fill="#eeeeee" stroke="#fff" stroke-width="0.6"/>
<path d="M491.82,433.15 A72,72 0 0 1 499.24,417.25 L519.59,429.96 A48,48 0 0 0 514.65,440.57 Z" fill="#e6e6e6" stroke="#fff" stroke-width="0.6"/>
<path d="M538.05,386.92 A72,72 0 0 1 544.10,385.25 L549.50,408.63 A48,48 0 0 0 545.47,409.75 Z" fill="#b7dc8a" stroke="#fff" stroke-width="0.6"/>
<path d="M544.10,385.25 A72,72 0 0 1 549.04,384.29 L552.79,407.99 A48,48 0 0 0 549.50,408.63 Z" fill="#eeeeee" stroke="#fff" stroke-width="0.6"/>
<path d="M550.28,384.10 A72,72 0 0 1 572.18,384.39 L568.22,408.06 A48,48 0 0 0 553.62,407.87 Z" fill="#e6e6e6" stroke="#fff" stroke-width="0.6"/>
<path d="M567.81,407.99 A48,48 0 0 1 608.30,455.40 L584.70,455.40 A24.4,24.4 0 0 0 564.12,431.30 Z" fill="#c96fac" stroke="#fff" stroke-width="0.8"/>
<path d="M608.30,455.40 A48,48 0 0 1 607.16,465.79 L584.12,460.68 A24.4,24.4 0 0 0 584.70,455.40 Z" fill="#d9d9d9" stroke="#fff" stroke-width="0.8"/>
<path d="M607.16,465.79 A48,48 0 0 1 586.44,495.66 L573.59,475.86 A24.4,24.4 0 0 0 584.12,460.68 Z" fill="#d9d9d9" stroke="#fff" stroke-width="0.8"/>
<path d="M586.44,495.66 A48,48 0 0 1 545.47,501.05 L552.76,478.61 A24.4,24.4 0 0 0 573.59,475.86 Z" fill="#67b33c" stroke="#fff" stroke-width="0.8"/>
<path d="M545.47,501.05 A48,48 0 0 1 517.16,476.44 L538.37,466.10 A24.4,24.4 0 0 0 552.76,478.61 Z" fill="#c3a202" stroke="#fff" stroke-width="0.8"/>
<path d="M517.16,476.44 A48,48 0 0 1 520.04,429.26 L539.84,442.11 A24.4,24.4 0 0 0 538.37,466.10 Z" fill="#d9d9d9" stroke="#fff" stroke-width="0.8"/>
<path d="M520.04,429.26 A48,48 0 0 1 567.81,407.99 L564.12,431.30 A24.4,24.4 0 0 0 539.84,442.11 Z" fill="#d3a8d6" stroke="#fff" stroke-width="0.8"/>
<circle cx="560.3" cy="455.4" r="24.4" fill="#fff" stroke="none" stroke-width="1" />
<text x="560.2" y="453.1" font-size="9.8" text-anchor="middle" fill="#333" font-weight="normal" font-style="normal"  textLength="24.4" lengthAdjust="spacingAndGlyphs">Angio</text>
<text x="560.2" y="463.8" font-size="9.8" text-anchor="middle" fill="#333" font-weight="normal" font-style="normal"  textLength="32.9" lengthAdjust="spacingAndGlyphs">genesis</text>
<text x="544.7" y="422.8" font-size="5.6" text-anchor="middle" fill="#333" font-weight="normal" font-style="normal" >PC</text>
<text x="586.4" y="433.4" font-size="5.6" text-anchor="middle" fill="#333" font-weight="normal" font-style="normal" >RG-like</text>
<text x="522.4" y="454.2" font-size="5.6" text-anchor="middle" fill="#333" font-weight="normal" font-style="normal" >MG</text>
<text x="598.4" y="461.5" font-size="5.6" text-anchor="middle" fill="#333" font-weight="normal" font-style="normal" >T cells</text>
<text x="588.7" y="476.5" font-size="5.6" text-anchor="middle" fill="#333" font-weight="normal" font-style="normal" >EC</text>
<text x="535" y="485.6" font-size="5.6" text-anchor="middle" fill="#333" font-weight="normal" font-style="normal" >Nb-like</text>
<text x="567.4" y="492.3" font-size="5.6" text-anchor="middle" fill="#333" font-weight="normal" font-style="normal" >NProg-like</text>
<text x="559.7" y="388.3" font-size="4.2" text-anchor="middle" fill="#444" font-weight="normal" font-style="normal" transform="rotate(0 559.7 388.3)" >EC</text>
<text x="544.2" y="391.1" font-size="4.2" text-anchor="middle" fill="#444" font-weight="normal" font-style="normal" transform="rotate(95 544.2 391.1)" >MG</text>
<text x="539.2" y="396.8" font-size="4.2" text-anchor="middle" fill="#444" font-weight="normal" font-style="normal" transform="rotate(100 539.2 396.8)" >Nb-like</text>
<text x="615.2" y="415.9" font-size="4.2" text-anchor="middle" fill="#444" font-weight="normal" font-style="normal" transform="rotate(-35 615.2 415.9)" >PC</text>
<text x="616.6" y="424.9" font-size="4.2" text-anchor="middle" fill="#444" font-weight="normal" font-style="normal" transform="rotate(-30 616.6 424.9)" >Nb-like</text>
<text x="622.3" y="429.1" font-size="4.2" text-anchor="middle" fill="#444" font-weight="normal" font-style="normal" transform="rotate(-24 622.3 429.1)" >MG</text>
<text x="626.5" y="444.1" font-size="4.2" text-anchor="middle" fill="#444" font-weight="normal" font-style="normal" transform="rotate(-10 626.5 444.1)" >EC</text>
<text x="626.5" y="468.6" font-size="4.2" text-anchor="middle" fill="#444" font-weight="normal" font-style="normal" transform="rotate(10 626.5 468.6)" >EC</text>
<text x="611.8" y="499.6" font-size="4.2" text-anchor="middle" fill="#444" font-weight="normal" font-style="normal" transform="rotate(40 611.8 499.6)" >MG</text>
<text x="603.9" y="506.6" font-size="4.2" text-anchor="middle" fill="#444" font-weight="normal" font-style="normal" transform="rotate(49 603.9 506.6)" >EC</text>
<text x="551.8" y="524.9" font-size="4.2" text-anchor="middle" fill="#444" font-weight="normal" font-style="normal" transform="rotate(0 551.8 524.9)" >EC</text>
<text x="561.7" y="524.9" font-size="4.2" text-anchor="middle" fill="#444" font-weight="normal" font-style="normal" transform="rotate(90 561.7 524.9)" >MG</text>
<text x="566.8" y="519.3" font-size="4.2" text-anchor="middle" fill="#444" font-weight="normal" font-style="normal" transform="rotate(90 566.8 519.3)" >Nb-like</text>
<text x="502.5" y="493.9" font-size="4.2" text-anchor="middle" fill="#444" font-weight="normal" font-style="normal" transform="rotate(-33 502.5 493.9)" >EC</text>
<text x="509.6" y="502.4" font-size="4.2" text-anchor="middle" fill="#444" font-weight="normal" font-style="normal" transform="rotate(-42 509.6 502.4)" >MG</text>
<text x="515.2" y="506.6" font-size="4.2" text-anchor="middle" fill="#444" font-weight="normal" font-style="normal" transform="rotate(-48 515.2 506.6)" >Nb-like</text>
<text x="496.9" y="427.7" font-size="4.2" text-anchor="middle" fill="#444" font-weight="normal" font-style="normal" transform="rotate(25 496.9 427.7)" >PC</text>
<text x="494.1" y="438.4" font-size="4.2" text-anchor="middle" fill="#444" font-weight="normal" font-style="normal" transform="rotate(15 494.1 438.4)" >MG</text>
<text x="495.5" y="445.2" font-size="4.2" text-anchor="middle" fill="#444" font-weight="normal" font-style="normal" transform="rotate(10 495.5 445.2)" >Nb-like</text>
<path d="M533.5,385.5 Q534.5,388 536.5,388" fill="none" stroke="#333" stroke-width="0.6"/>
<line x1="535.5" y1="385.4" x2="627.9" y2="363.5" stroke="#333" stroke-width="0.7" />
<rect x="627.9" y="363.5" width="56.6" height="26.8" fill="none" stroke="#333" stroke-width="0.9" />
<text x="634.3" y="376.8" font-size="6.7" text-anchor="start" fill="#333" font-weight="normal" font-style="normal" >PGF_NRP1</text>
<text x="634.3" y="384.9" font-size="6.7" text-anchor="start" fill="#333" font-weight="normal" font-style="normal" >VEGFA_NRP1</text>
<text x="559.4" y="539.5" font-size="6.1" text-anchor="middle" fill="#333" font-weight="normal" font-style="normal"  textLength="68.2" lengthAdjust="spacingAndGlyphs">(n) L_R interactions = 86</text>
<text x="0" y="371.4" font-size="8.9" text-anchor="start" fill="#111" font-weight="bold" font-style="normal" >H</text>
<g transform="translate(13.2 374.2) scale(1.0)"><path d="M0,3.0 C0.8,2.0 2.0,1.3 3.3,1.1 L4.3,0 L5.1,0.9 C8,0.5 11.5,1.0 14,2.6 C15.5,3.6 16.6,4.6 17.1,5.4 C17.0,6.8 16.4,7.9 15.3,8.5 L13.2,8.8 L12.6,9.3 L9.2,9.3 L9.3,8.8 L11.4,8.6 C10.2,8.0 9.0,7.4 7.9,6.8 L6.2,7.3 L5.4,8.1 L3.0,8.3 L2.9,7.8 L4.6,7.2 L5.2,6.2 C3.7,5.6 2.2,5.0 1.4,4.5 C0.7,4.1 0.2,3.6 0,3.0 Z" fill="#2b2b2b"/><path d="M16.8,6.0 C19.0,6.6 20.4,7.7 20.3,8.9 C20.2,9.9 18.5,10.4 15.0,10.2" fill="none" stroke="#2b2b2b" stroke-width="0.5"/></g>
<text x="51.5" y="395.2" font-size="6.6" text-anchor="middle" fill="#333" font-weight="normal" font-style="normal" >Biological</text>
<text x="52" y="403.1" font-size="6.6" text-anchor="middle" fill="#333" font-weight="normal" font-style="normal" >duplicates</text>
<path d="M28.4,397.5 L28.4,393.6 L35.8,393.6 M67.4,393.6 L73.0,393.6 L73.0,397.5" fill="none" stroke="#333" stroke-width="1.1"/>
<ellipse cx="30" cy="418.1" rx="12.8" ry="8.0" fill="#cfe9e6" stroke="#8fb9b6" stroke-width="0.6"/>
<ellipse cx="30" cy="417.5" rx="11.2" ry="6.6" fill="#d8efec" stroke="#a9cfcc" stroke-width="0.4"/>
<path d="M23.0,415.6 C23.5,414.4 26.3,413.8 28.0,413.6 C29.7,413.4 31.5,413.9 33.0,414.5 C34.5,415.1 36.5,416.1 37.0,417.1 C37.5,418.1 37.0,419.9 36.0,420.6 C35.0,421.4 32.8,421.6 31.0,421.6 C29.2,421.6 26.3,421.6 25.0,420.6 C23.7,419.6 22.5,416.8 23.0,415.6 Z" fill="#e04a5a"/>
<ellipse cx="69.5" cy="418.1" rx="12.8" ry="8.0" fill="#cfe9e6" stroke="#8fb9b6" stroke-width="0.6"/>
<ellipse cx="69.5" cy="417.5" rx="11.2" ry="6.6" fill="#d8efec" stroke="#a9cfcc" stroke-width="0.4"/>
<path d="M61.5,415.6 C62.0,414.6 64.0,413.2 65.5,412.9 C67.0,412.6 69.5,413.0 70.5,413.7 C71.5,414.4 72.0,416.0 71.5,417.1 C71.0,418.2 69.0,419.8 67.5,420.1 C66.0,420.4 63.5,419.9 62.5,419.1 C61.5,418.4 61.0,416.6 61.5,415.6 Z" fill="#3d86ad"/>
<path d="M66.5,416.6 C67.5,415.6 70.7,415.5 72.5,415.6 C74.3,415.7 76.6,416.3 77.5,417.1 C78.4,417.9 78.8,419.6 78.0,420.6 C77.2,421.6 74.4,422.7 72.5,422.9 C70.6,423.1 67.5,422.7 66.5,421.6 C65.5,420.6 65.5,417.6 66.5,416.6 Z" fill="#e04a5a"/>
<text x="33.1" y="435.8" font-size="6.8" text-anchor="middle" fill="#333" font-weight="normal" font-style="normal" >ETMR</text>
<text x="72" y="436.2" font-size="6.9" text-anchor="middle" fill="#333" font-weight="normal" font-style="normal" >ETMR-PC</text>
<text x="72" y="443.6" font-size="6.9" text-anchor="middle" fill="#333" font-weight="normal" font-style="normal" >co-culture</text>
<text x="32.6" y="454.3" font-size="6.8" text-anchor="middle" fill="#333" font-weight="normal" font-style="normal" >n  = 2</text>
<text x="72.3" y="454.3" font-size="6.8" text-anchor="middle" fill="#333" font-weight="normal" font-style="normal" >n  = 2</text>
<text x="111.5" y="412.4" font-size="6.4" text-anchor="middle" fill="#333" font-weight="normal" font-style="normal" >72h</text>
<line x1="104" y1="425.9" x2="120" y2="425.9" stroke="#000" stroke-width="1.1" />
<path d="M124.3,425.9 L113.4,419.6 L116.4,425.9 L113.4,432.2 Z" fill="#000"/>
<rect x="162.2" y="408" width="6.1" height="25.4" rx="0.6" fill="#e6ecf7" stroke="#8797c9" stroke-width="0.5"/>
<rect x="178.1" y="408" width="6.5" height="25.4" rx="0.6" fill="#e6ecf7" stroke="#8797c9" stroke-width="0.5"/>
<rect x="148.3" y="414.2" width="47.3" height="6.4" rx="3.2" fill="#e6ecf7" stroke="#8797c9" stroke-width="0.5"/>
<circle cx="155.1" cy="417.5" r="1.2" fill="#d9435e" stroke="none" stroke-width="1" />
<circle cx="160.4" cy="417.5" r="1.2" fill="#2b7f8c" stroke="none" stroke-width="1" />
<circle cx="165.3" cy="417.5" r="1.2" fill="#d9435e" stroke="none" stroke-width="1" />
<circle cx="170.6" cy="417.5" r="1.2" fill="#2b7f8c" stroke="none" stroke-width="1" />
<circle cx="176.2" cy="417.5" r="1.2" fill="#d9435e" stroke="none" stroke-width="1" />
<circle cx="184" cy="417.5" r="1.2" fill="#d9435e" stroke="none" stroke-width="1" />
<circle cx="189.8" cy="417.5" r="1.2" fill="#2b7f8c" stroke="none" stroke-width="1" />
<circle cx="165.6" cy="423.3" r="0.45" fill="#9bb6d0" stroke="none" stroke-width="1" />
<circle cx="165.6" cy="427.1" r="0.45" fill="#9bb6d0" stroke="none" stroke-width="1" />
<circle cx="165.6" cy="431.2" r="0.45" fill="#9bb6d0" stroke="none" stroke-width="1" />
<text x="172" y="451.4" font-size="6.6" text-anchor="middle" fill="#333" font-weight="normal" font-style="normal" >scRNA-seq</text>
<text x="-1.2" y="476.2" font-size="8.9" text-anchor="start" fill="#111" font-weight="bold" font-style="normal" >I</text>
<g transform="translate(12.9 473) scale(1.0)"><path d="M0,3.0 C0.8,2.0 2.0,1.3 3.3,1.1 L4.3,0 L5.1,0.9 C8,0.5 11.5,1.0 14,2.6 C15.5,3.6 16.6,4.6 17.1,5.4 C17.0,6.8 16.4,7.9 15.3,8.5 L13.2,8.8 L12.6,9.3 L9.2,9.3 L9.3,8.8 L11.4,8.6 C10.2,8.0 9.0,7.4 7.9,6.8 L6.2,7.3 L5.4,8.1 L3.0,8.3 L2.9,7.8 L4.6,7.2 L5.2,6.2 C3.7,5.6 2.2,5.0 1.4,4.5 C0.7,4.1 0.2,3.6 0,3.0 Z" fill="#2b2b2b"/><path d="M16.8,6.0 C19.0,6.6 20.4,7.7 20.3,8.9 C20.2,9.9 18.5,10.4 15.0,10.2" fill="none" stroke="#2b2b2b" stroke-width="0.5"/></g>
<line x1="36.9" y1="496.3" x2="36.9" y2="541.1" stroke="#000" stroke-width="1.2" />
<line x1="36.3" y1="540.5" x2="68.2" y2="540.5" stroke="#000" stroke-width="1.3" />
<text x="34.9" y="541.2" font-size="7" text-anchor="end" fill="#333" font-weight="normal" font-style="normal"  textLength="3.9" lengthAdjust="spacingAndGlyphs">0</text>
<text x="34.9" y="529.9" font-size="7" text-anchor="end" fill="#333" font-weight="normal" font-style="normal"  textLength="15.1" lengthAdjust="spacingAndGlyphs">2000</text>
<text x="34.9" y="518.8" font-size="7" text-anchor="end" fill="#333" font-weight="normal" font-style="normal"  textLength="15.1" lengthAdjust="spacingAndGlyphs">4000</text>
<text x="34.9" y="507.9" font-size="7" text-anchor="end" fill="#333" font-weight="normal" font-style="normal"  textLength="15.1" lengthAdjust="spacingAndGlyphs">6000</text>
<text x="34.9" y="497.4" font-size="7" text-anchor="end" fill="#333" font-weight="normal" font-style="normal"  textLength="15.1" lengthAdjust="spacingAndGlyphs">8000</text>
<rect x="40.3" y="525.0" width="11.6" height="15.5" fill="#ef7067" stroke="none" stroke-width="1" />
<rect x="55.0" y="507.6" width="12.0" height="32.9" fill="#28b4bd" stroke="none" stroke-width="1" />
<text x="14.7" y="516.7" font-size="6.9" text-anchor="middle" fill="#333" font-weight="normal" font-style="normal" transform="rotate(-90 14.7 516.7)"  textLength="59.4" lengthAdjust="spacingAndGlyphs">(n) L_R interactions</text>
<text x="28.5" y="557.5" font-size="7" text-anchor="start" fill="#333" font-weight="normal" font-style="normal" transform="rotate(-25 28.5 557.5)" >mono-</text>
<text x="31.5" y="565.0" font-size="7" text-anchor="start" fill="#333" font-weight="normal" font-style="normal" transform="rotate(-25 31.5 565.0)" >culture</text>
<text x="56.0" y="553.5" font-size="7" text-anchor="start" fill="#333" font-weight="normal" font-style="normal" transform="rotate(-25 56.0 553.5)" >co-</text>
<text x="56.5" y="561.0" font-size="7" text-anchor="start" fill="#333" font-weight="normal" font-style="normal" transform="rotate(-25 56.5 561.0)" >culture</text>
<text x="103.5" y="476.2" font-size="8.9" text-anchor="start" fill="#111" font-weight="bold" font-style="normal" >J</text>
<g transform="translate(115.9 473) scale(1.0)"><path d="M0,3.0 C0.8,2.0 2.0,1.3 3.3,1.1 L4.3,0 L5.1,0.9 C8,0.5 11.5,1.0 14,2.6 C15.5,3.6 16.6,4.6 17.1,5.4 C17.0,6.8 16.4,7.9 15.3,8.5 L13.2,8.8 L12.6,9.3 L9.2,9.3 L9.3,8.8 L11.4,8.6 C10.2,8.0 9.0,7.4 7.9,6.8 L6.2,7.3 L5.4,8.1 L3.0,8.3 L2.9,7.8 L4.6,7.2 L5.2,6.2 C3.7,5.6 2.2,5.0 1.4,4.5 C0.7,4.1 0.2,3.6 0,3.0 Z" fill="#2b2b2b"/><path d="M16.8,6.0 C19.0,6.6 20.4,7.7 20.3,8.9 C20.2,9.9 18.5,10.4 15.0,10.2" fill="none" stroke="#2b2b2b" stroke-width="0.5"/></g>
<defs><clipPath id="cbig"><circle cx="170.2" cy="517.2" r="26.4"/></clipPath></defs>
<circle cx="157" cy="517.2" r="18.3" fill="#f4b4ae" stroke="none" stroke-width="1" />
<circle cx="170.2" cy="517.2" r="26.4" fill="#8fd8dc" stroke="none" stroke-width="1" />
<circle cx="157" cy="517.2" r="18.3" fill="#95b8b7" stroke="none" stroke-width="1" clip-path="url(#cbig)"/>
<text x="142.3" y="519.1" font-size="6.8" text-anchor="middle" fill="#222" font-weight="normal" font-style="normal" >41</text>
<text x="162.9" y="519.1" font-size="6.8" text-anchor="middle" fill="#222" font-weight="normal" font-style="normal" >2774</text>
<text x="187.7" y="519.1" font-size="6.8" text-anchor="middle" fill="#222" font-weight="normal" font-style="normal" >3228</text>
<text x="120.5" y="516.45" font-size="6.8" text-anchor="middle" fill="#333" font-weight="normal" font-style="normal" transform="rotate(-90 120.5 516.45)"  textLength="54.3" lengthAdjust="spacingAndGlyphs">(n) ligand-receptor</text>
<text x="129.0" y="515.8" font-size="6.8" text-anchor="middle" fill="#333" font-weight="normal" font-style="normal" transform="rotate(-90 129.0 515.8)"  textLength="34.6" lengthAdjust="spacingAndGlyphs">interactions</text>
<circle cx="140.8" cy="549.5" r="3.5" fill="#ef7067" stroke="none" stroke-width="1" />
<circle cx="140.8" cy="559.9" r="3.5" fill="#28b4bd" stroke="none" stroke-width="1" />
<text x="145.8" y="552.3" font-size="7.0" text-anchor="start" fill="#222" font-weight="normal" font-style="normal" >ETMR_mono</text>
<text x="145.8" y="562.5" font-size="7.0" text-anchor="start" fill="#222" font-weight="normal" font-style="normal" >ETMR_PC_co</text>
<text x="220.9" y="371.6" font-size="8.9" text-anchor="start" fill="#111" font-weight="bold" font-style="normal" >K</text>
<g transform="translate(226.5 380) scale(1.0)"><path d="M0,3.0 C0.8,2.0 2.0,1.3 3.3,1.1 L4.3,0 L5.1,0.9 C8,0.5 11.5,1.0 14,2.6 C15.5,3.6 16.6,4.6 17.1,5.4 C17.0,6.8 16.4,7.9 15.3,8.5 L13.2,8.8 L12.6,9.3 L9.2,9.3 L9.3,8.8 L11.4,8.6 C10.2,8.0 9.0,7.4 7.9,6.8 L6.2,7.3 L5.4,8.1 L3.0,8.3 L2.9,7.8 L4.6,7.2 L5.2,6.2 C3.7,5.6 2.2,5.0 1.4,4.5 C0.7,4.1 0.2,3.6 0,3.0 Z" fill="#2b2b2b"/><path d="M16.8,6.0 C19.0,6.6 20.4,7.7 20.3,8.9 C20.2,9.9 18.5,10.4 15.0,10.2" fill="none" stroke="#2b2b2b" stroke-width="0.5"/></g>
<text x="339.05" y="375.1" font-size="9.5" text-anchor="middle" fill="#222" font-weight="normal" font-style="normal"  textLength="129.3" lengthAdjust="spacingAndGlyphs">Co-culture specific interactions</text>
<g><line x1="261.9" y1="424.6" x2="381.5" y2="561.7" stroke="#3a5a3a" stroke-width="0.4" stroke-opacity="0.8"/><line x1="266.8" y1="440.2" x2="381.9" y2="529.1" stroke="#3a5a3a" stroke-width="0.4" stroke-opacity="0.8"/><line x1="261.7" y1="423.2" x2="405.5" y2="523.8" stroke="#3a5a3a" stroke-width="0.4" stroke-opacity="0.8"/><line x1="284.5" y1="438.8" x2="363.3" y2="522.8" stroke="#4fb8d0" stroke-width="0.4" stroke-opacity="0.8"/><line x1="267.1" y1="440.5" x2="383.1" y2="544.6" stroke="#6a6ad0" stroke-width="0.4" stroke-opacity="0.8"/><line x1="275.3" y1="413.4" x2="391.8" y2="514.3" stroke="#3a5a3a" stroke-width="0.4" stroke-opacity="0.8"/><line x1="266.7" y1="438.8" x2="380.8" y2="561.7" stroke="#e0d84a" stroke-width="0.4" stroke-opacity="0.8"/><line x1="274.7" y1="414.0" x2="383.1" y2="529.8" stroke="#222222" stroke-width="0.45" stroke-opacity="0.8"/><line x1="284.0" y1="440.6" x2="376.4" y2="512.6" stroke="#50a0c0" stroke-width="0.4" stroke-opacity="0.8"/><line x1="266.7" y1="438.6" x2="398.7" y2="554.3" stroke="#333333" stroke-width="0.45" stroke-opacity="0.8"/><line x1="274.4" y1="413.6" x2="362.7" y2="522.7" stroke="#222222" stroke-width="0.45" stroke-opacity="0.8"/><line x1="287.7" y1="421.5" x2="365.6" y2="551.2" stroke="#333333" stroke-width="0.45" stroke-opacity="0.8"/><line x1="261.2" y1="423.3" x2="384.9" y2="544.5" stroke="#4fb8d0" stroke-width="0.4" stroke-opacity="0.8"/><line x1="262.0" y1="424.7" x2="384.2" y2="545.0" stroke="#6a6ad0" stroke-width="0.4" stroke-opacity="0.8"/><line x1="284.2" y1="440.4" x2="365.2" y2="551.7" stroke="#3a5a3a" stroke-width="0.4" stroke-opacity="0.8"/><line x1="289.4" y1="422.1" x2="365.1" y2="552.5" stroke="#6a4a7a" stroke-width="0.4" stroke-opacity="0.8"/><line x1="261.9" y1="424.8" x2="362.7" y2="522.3" stroke="#a0d060" stroke-width="0.4" stroke-opacity="0.8"/><line x1="265.8" y1="439.1" x2="363.4" y2="521.3" stroke="#3a5a3a" stroke-width="0.4" stroke-opacity="0.8"/><line x1="284.3" y1="440.2" x2="357.0" y2="539.2" stroke="#6a4a7a" stroke-width="0.4" stroke-opacity="0.8"/><line x1="274.6" y1="413.1" x2="363.5" y2="521.2" stroke="#222222" stroke-width="0.45" stroke-opacity="0.8"/><line x1="287.2" y1="422.7" x2="393.4" y2="514.7" stroke="#3a5a3a" stroke-width="0.4" stroke-opacity="0.8"/><line x1="262.4" y1="425.3" x2="406.0" y2="539.2" stroke="#3a5a3a" stroke-width="0.4" stroke-opacity="0.8"/><line x1="275.1" y1="413.9" x2="363.3" y2="522.7" stroke="#c060a8" stroke-width="0.4" stroke-opacity="0.8"/><line x1="287.8" y1="421.6" x2="398.7" y2="554.4" stroke="#7cc04a" stroke-width="0.4" stroke-opacity="0.8"/><line x1="287.7" y1="422.7" x2="405.0" y2="539.7" stroke="#e0d84a" stroke-width="0.4" stroke-opacity="0.8"/><line x1="262.9" y1="425.6" x2="362.9" y2="522.9" stroke="#3f8f4f" stroke-width="0.4" stroke-opacity="0.8"/><line x1="262.6" y1="425.0" x2="364.2" y2="521.9" stroke="#50a0c0" stroke-width="0.4" stroke-opacity="0.8"/><line x1="261.1" y1="423.8" x2="375.9" y2="514.2" stroke="#222222" stroke-width="0.45" stroke-opacity="0.8"/><line x1="282.5" y1="440.0" x2="404.0" y2="524.1" stroke="#6a6ad0" stroke-width="0.4" stroke-opacity="0.8"/><line x1="274.6" y1="412.2" x2="366.5" y2="552.4" stroke="#3a5a3a" stroke-width="0.4" stroke-opacity="0.8"/><line x1="276.4" y1="412.2" x2="357.0" y2="538.0" stroke="#3a5a3a" stroke-width="0.4" stroke-opacity="0.8"/><line x1="262.9" y1="423.3" x2="362.6" y2="521.2" stroke="#3f8f4f" stroke-width="0.4" stroke-opacity="0.8"/><line x1="284.4" y1="438.2" x2="364.3" y2="551.4" stroke="#6a4a7a" stroke-width="0.4" stroke-opacity="0.8"/><line x1="274.4" y1="413.6" x2="363.1" y2="521.8" stroke="#7cc04a" stroke-width="0.4" stroke-opacity="0.8"/><line x1="261.7" y1="423.9" x2="357.0" y2="539.7" stroke="#3a5a3a" stroke-width="0.4" stroke-opacity="0.8"/><line x1="267.4" y1="439.1" x2="376.0" y2="512.7" stroke="#9a62b0" stroke-width="0.4" stroke-opacity="0.8"/><line x1="288.3" y1="422.8" x2="405.0" y2="540.8" stroke="#222222" stroke-width="0.45" stroke-opacity="0.8"/><line x1="276.0" y1="412.9" x2="358.1" y2="538.4" stroke="#a0d060" stroke-width="0.4" stroke-opacity="0.8"/><line x1="261.0" y1="424.2" x2="404.6" y2="525.5" stroke="#3a5a3a" stroke-width="0.4" stroke-opacity="0.8"/><line x1="287.6" y1="422.4" x2="356.7" y2="539.3" stroke="#c060a8" stroke-width="0.4" stroke-opacity="0.8"/><line x1="283.9" y1="438.4" x2="384.2" y2="543.7" stroke="#6a4a7a" stroke-width="0.4" stroke-opacity="0.8"/><line x1="262.2" y1="424.8" x2="404.5" y2="525.4" stroke="#333333" stroke-width="0.45" stroke-opacity="0.8"/><line x1="288.6" y1="423.3" x2="378.1" y2="513.7" stroke="#c8c83a" stroke-width="0.4" stroke-opacity="0.8"/><line x1="276.0" y1="412.2" x2="363.7" y2="522.8" stroke="#222222" stroke-width="0.45" stroke-opacity="0.8"/><line x1="274.7" y1="412.1" x2="366.6" y2="552.7" stroke="#e0d84a" stroke-width="0.4" stroke-opacity="0.8"/><line x1="266.6" y1="439.1" x2="381.0" y2="560.3" stroke="#50a0c0" stroke-width="0.4" stroke-opacity="0.8"/><line x1="268.0" y1="439.2" x2="377.6" y2="512.7" stroke="#6a6ad0" stroke-width="0.4" stroke-opacity="0.8"/><line x1="284.1" y1="438.6" x2="381.0" y2="561.6" stroke="#a0d060" stroke-width="0.4" stroke-opacity="0.8"/><line x1="263.0" y1="424.4" x2="376.9" y2="514.0" stroke="#3f8f4f" stroke-width="0.4" stroke-opacity="0.8"/><line x1="261.2" y1="424.4" x2="393.3" y2="515.1" stroke="#4fb8d0" stroke-width="0.4" stroke-opacity="0.8"/><line x1="283.5" y1="440.2" x2="382.2" y2="528.2" stroke="#a0d060" stroke-width="0.4" stroke-opacity="0.8"/><line x1="261.3" y1="424.6" x2="381.4" y2="528.8" stroke="#6a4a7a" stroke-width="0.4" stroke-opacity="0.8"/><line x1="262.2" y1="424.3" x2="384.8" y2="545.7" stroke="#50a0c0" stroke-width="0.4" stroke-opacity="0.8"/><line x1="282.7" y1="440.5" x2="363.8" y2="522.7" stroke="#3f8f4f" stroke-width="0.4" stroke-opacity="0.8"/><line x1="275.9" y1="413.8" x2="405.1" y2="539.2" stroke="#333333" stroke-width="0.45" stroke-opacity="0.8"/><line x1="287.3" y1="422.8" x2="405.2" y2="523.5" stroke="#333333" stroke-width="0.45" stroke-opacity="0.8"/><line x1="287.2" y1="423.2" x2="391.4" y2="513.7" stroke="#6a4a7a" stroke-width="0.4" stroke-opacity="0.8"/><line x1="288.8" y1="422.1" x2="362.0" y2="521.4" stroke="#e0d84a" stroke-width="0.4" stroke-opacity="0.8"/><line x1="267.5" y1="439.4" x2="405.2" y2="539.5" stroke="#3a5a3a" stroke-width="0.4" stroke-opacity="0.8"/><line x1="289.1" y1="423.5" x2="376.0" y2="514.6" stroke="#6a4a7a" stroke-width="0.4" stroke-opacity="0.8"/><line x1="287.7" y1="422.9" x2="399.6" y2="554.4" stroke="#e0d84a" stroke-width="0.4" stroke-opacity="0.8"/><line x1="288.3" y1="421.6" x2="377.0" y2="513.1" stroke="#e0d84a" stroke-width="0.4" stroke-opacity="0.8"/><line x1="287.4" y1="422.8" x2="399.5" y2="552.9" stroke="#50a0c0" stroke-width="0.4" stroke-opacity="0.8"/><line x1="266.0" y1="439.0" x2="377.5" y2="513.7" stroke="#7cc04a" stroke-width="0.4" stroke-opacity="0.8"/><line x1="283.2" y1="438.6" x2="381.0" y2="529.3" stroke="#6a4a7a" stroke-width="0.4" stroke-opacity="0.8"/><line x1="283.4" y1="438.8" x2="365.1" y2="553.2" stroke="#222222" stroke-width="0.45" stroke-opacity="0.8"/><line x1="276.1" y1="412.7" x2="405.7" y2="539.7" stroke="#3a5a3a" stroke-width="0.4" stroke-opacity="0.8"/><line x1="284.9" y1="438.6" x2="377.2" y2="513.9" stroke="#e0d84a" stroke-width="0.4" stroke-opacity="0.8"/><line x1="283.9" y1="439.8" x2="376.7" y2="514.7" stroke="#9a62b0" stroke-width="0.4" stroke-opacity="0.8"/><line x1="262.7" y1="424.5" x2="380.4" y2="559.9" stroke="#6a4a7a" stroke-width="0.4" stroke-opacity="0.8"/><line x1="289.1" y1="423.6" x2="357.3" y2="538.6" stroke="#6a4a7a" stroke-width="0.4" stroke-opacity="0.8"/><line x1="283.8" y1="439.9" x2="382.9" y2="529.2" stroke="#a0d060" stroke-width="0.4" stroke-opacity="0.8"/><line x1="274.3" y1="413.7" x2="381.6" y2="560.7" stroke="#333333" stroke-width="0.45" stroke-opacity="0.8"/><line x1="283.0" y1="440.2" x2="400.2" y2="554.8" stroke="#3a5a3a" stroke-width="0.4" stroke-opacity="0.8"/><line x1="276.4" y1="412.2" x2="381.9" y2="561.0" stroke="#4fb8d0" stroke-width="0.4" stroke-opacity="0.8"/><line x1="275.5" y1="413.1" x2="361.9" y2="521.4" stroke="#e0d84a" stroke-width="0.4" stroke-opacity="0.8"/><line x1="287.2" y1="423.3" x2="358.3" y2="537.4" stroke="#50a0c0" stroke-width="0.4" stroke-opacity="0.8"/><line x1="276.4" y1="412.9" x2="358.2" y2="538.5" stroke="#333333" stroke-width="0.45" stroke-opacity="0.8"/><line x1="276.0" y1="412.8" x2="363.0" y2="520.8" stroke="#333333" stroke-width="0.45" stroke-opacity="0.8"/><line x1="265.8" y1="439.3" x2="405.3" y2="524.5" stroke="#a0d060" stroke-width="0.4" stroke-opacity="0.8"/><line x1="266.8" y1="439.1" x2="362.9" y2="522.9" stroke="#6a4a7a" stroke-width="0.4" stroke-opacity="0.8"/><line x1="262.1" y1="423.6" x2="380.9" y2="529.0" stroke="#6a4a7a" stroke-width="0.4" stroke-opacity="0.8"/><line x1="284.0" y1="439.3" x2="391.5" y2="515.1" stroke="#333333" stroke-width="0.45" stroke-opacity="0.8"/><line x1="267.4" y1="438.8" x2="405.0" y2="539.9" stroke="#3a5a3a" stroke-width="0.4" stroke-opacity="0.8"/><line x1="261.2" y1="424.7" x2="404.4" y2="523.7" stroke="#333333" stroke-width="0.45" stroke-opacity="0.8"/><line x1="276.6" y1="413.8" x2="383.1" y2="528.8" stroke="#4fb8d0" stroke-width="0.4" stroke-opacity="0.8"/><line x1="284.0" y1="439.0" x2="381.0" y2="529.2" stroke="#c8c83a" stroke-width="0.4" stroke-opacity="0.8"/><line x1="275.9" y1="411.9" x2="381.2" y2="560.7" stroke="#333333" stroke-width="0.45" stroke-opacity="0.8"/><line x1="261.3" y1="425.5" x2="399.1" y2="554.4" stroke="#c060a8" stroke-width="0.4" stroke-opacity="0.8"/><line x1="288.5" y1="422.2" x2="400.3" y2="552.9" stroke="#3a5a3a" stroke-width="0.4" stroke-opacity="0.8"/><line x1="267.0" y1="440.1" x2="376.8" y2="514.3" stroke="#6a4a7a" stroke-width="0.4" stroke-opacity="0.8"/><line x1="266.6" y1="439.2" x2="364.8" y2="553.0" stroke="#e0d84a" stroke-width="0.4" stroke-opacity="0.8"/><line x1="266.9" y1="440.0" x2="358.6" y2="539.0" stroke="#4fb8d0" stroke-width="0.4" stroke-opacity="0.8"/><line x1="267.7" y1="438.4" x2="363.6" y2="522.2" stroke="#333333" stroke-width="0.45" stroke-opacity="0.8"/><line x1="288.5" y1="423.4" x2="405.7" y2="524.5" stroke="#222222" stroke-width="0.45" stroke-opacity="0.8"/><line x1="287.2" y1="422.3" x2="346.0" y2="471.5" stroke="#c8c83a" stroke-width="0.4" stroke-opacity="0.8"/><line x1="283.6" y1="440.2" x2="344.2" y2="472.9" stroke="#7cc04a" stroke-width="0.4" stroke-opacity="0.8"/><line x1="262.2" y1="423.2" x2="324.4" y2="498.6" stroke="#9a62b0" stroke-width="0.4" stroke-opacity="0.8"/><line x1="262.0" y1="424.4" x2="341.7" y2="499.0" stroke="#c060a8" stroke-width="0.4" stroke-opacity="0.8"/><line x1="283.6" y1="439.7" x2="339.6" y2="500.1" stroke="#333333" stroke-width="0.45" stroke-opacity="0.8"/><line x1="283.0" y1="440.3" x2="335.2" y2="446.0" stroke="#7cc04a" stroke-width="0.4" stroke-opacity="0.8"/><line x1="262.3" y1="424.7" x2="341.3" y2="500.3" stroke="#a0d060" stroke-width="0.4" stroke-opacity="0.8"/><line x1="288.6" y1="423.2" x2="319.2" y2="484.7" stroke="#222222" stroke-width="0.45" stroke-opacity="0.8"/><line x1="266.2" y1="439.5" x2="340.6" y2="499.9" stroke="#6a6ad0" stroke-width="0.4" stroke-opacity="0.8"/><line x1="274.8" y1="413.7" x2="345.9" y2="472.8" stroke="#e0d84a" stroke-width="0.4" stroke-opacity="0.8"/><line x1="287.2" y1="422.5" x2="319.1" y2="484.4" stroke="#a0d060" stroke-width="0.4" stroke-opacity="0.8"/><line x1="275.3" y1="412.1" x2="344.2" y2="471.6" stroke="#333333" stroke-width="0.45" stroke-opacity="0.8"/><line x1="262.9" y1="425.6" x2="325.3" y2="498.5" stroke="#333333" stroke-width="0.45" stroke-opacity="0.8"/><line x1="283.4" y1="438.7" x2="341.0" y2="499.2" stroke="#6a6ad0" stroke-width="0.4" stroke-opacity="0.8"/><line x1="267.9" y1="438.9" x2="320.7" y2="482.8" stroke="#222222" stroke-width="0.45" stroke-opacity="0.8"/><line x1="274.7" y1="413.1" x2="335.1" y2="446.0" stroke="#50a0c0" stroke-width="0.4" stroke-opacity="0.8"/><line x1="261.5" y1="424.2" x2="324.6" y2="498.1" stroke="#333333" stroke-width="0.45" stroke-opacity="0.8"/><line x1="288.1" y1="423.5" x2="329.4" y2="468.7" stroke="#7cc04a" stroke-width="0.4" stroke-opacity="0.8"/><line x1="266.4" y1="439.1" x2="341.4" y2="499.7" stroke="#50a0c0" stroke-width="0.4" stroke-opacity="0.8"/><line x1="263.1" y1="424.3" x2="320.9" y2="482.9" stroke="#4fb8d0" stroke-width="0.4" stroke-opacity="0.8"/><line x1="288.1" y1="423.4" x2="345.6" y2="471.9" stroke="#c8c83a" stroke-width="0.4" stroke-opacity="0.8"/><line x1="260.8" y1="423.5" x2="340.8" y2="499.5" stroke="#c060a8" stroke-width="0.4" stroke-opacity="0.8"/><line x1="261.3" y1="425.0" x2="336.1" y2="447.3" stroke="#c8c83a" stroke-width="0.4" stroke-opacity="0.8"/><line x1="288.2" y1="421.9" x2="348.9" y2="487.2" stroke="#c8c83a" stroke-width="0.4" stroke-opacity="0.8"/><line x1="276.2" y1="413.0" x2="348.8" y2="486.6" stroke="#c060a8" stroke-width="0.4" stroke-opacity="0.8"/><line x1="266.3" y1="438.3" x2="319.5" y2="483.9" stroke="#50a0c0" stroke-width="0.4" stroke-opacity="0.8"/><line x1="261.4" y1="423.5" x2="341.3" y2="500.1" stroke="#222222" stroke-width="0.45" stroke-opacity="0.8"/><line x1="283.8" y1="438.9" x2="339.9" y2="498.2" stroke="#e0d84a" stroke-width="0.4" stroke-opacity="0.8"/><line x1="275.4" y1="413.5" x2="341.7" y2="500.2" stroke="#3f8f4f" stroke-width="0.4" stroke-opacity="0.8"/><line x1="283.4" y1="439.7" x2="348.9" y2="485.2" stroke="#6a6ad0" stroke-width="0.4" stroke-opacity="0.8"/><line x1="261.0" y1="425.1" x2="340.6" y2="498.9" stroke="#c060a8" stroke-width="0.4" stroke-opacity="0.8"/><line x1="289.3" y1="421.7" x2="319.3" y2="483.7" stroke="#4fb8d0" stroke-width="0.4" stroke-opacity="0.8"/><line x1="267.7" y1="440.4" x2="320.0" y2="482.5" stroke="#333333" stroke-width="0.45" stroke-opacity="0.8"/><line x1="282.8" y1="438.5" x2="350.1" y2="486.8" stroke="#c060a8" stroke-width="0.4" stroke-opacity="0.8"/><line x1="288.6" y1="422.2" x2="336.2" y2="447.0" stroke="#6a6ad0" stroke-width="0.4" stroke-opacity="0.8"/><line x1="267.9" y1="438.6" x2="329.2" y2="470.2" stroke="#4fb8d0" stroke-width="0.4" stroke-opacity="0.8"/><line x1="287.5" y1="421.4" x2="335.8" y2="446.4" stroke="#4fb8d0" stroke-width="0.4" stroke-opacity="0.8"/><line x1="282.8" y1="438.8" x2="346.1" y2="471.4" stroke="#c8c83a" stroke-width="0.4" stroke-opacity="0.8"/><line x1="261.0" y1="424.5" x2="330.1" y2="470.2" stroke="#50a0c0" stroke-width="0.4" stroke-opacity="0.8"/><line x1="274.5" y1="412.5" x2="344.9" y2="471.8" stroke="#50a0c0" stroke-width="0.4" stroke-opacity="0.8"/><line x1="282.9" y1="439.4" x2="348.6" y2="485.4" stroke="#c8c83a" stroke-width="0.4" stroke-opacity="0.8"/><line x1="262.4" y1="424.8" x2="324.1" y2="496.4" stroke="#3f8f4f" stroke-width="0.4" stroke-opacity="0.8"/><line x1="326.1" y1="410.3" x2="282.9" y2="508.1" stroke="#333333" stroke-width="0.45" stroke-opacity="0.8"/><line x1="325.4" y1="410.3" x2="250.4" y2="538.1" stroke="#333333" stroke-width="0.45" stroke-opacity="0.8"/><line x1="347.3" y1="410.7" x2="268.4" y2="499.3" stroke="#9a62b0" stroke-width="0.4" stroke-opacity="0.8"/><line x1="344.4" y1="425.2" x2="267.8" y2="498.1" stroke="#333333" stroke-width="0.45" stroke-opacity="0.8"/><line x1="337.3" y1="398.1" x2="237.4" y2="524.1" stroke="#c060a8" stroke-width="0.4" stroke-opacity="0.8"/><line x1="336.3" y1="398.9" x2="288.1" y2="539.3" stroke="#e0d84a" stroke-width="0.4" stroke-opacity="0.8"/><line x1="345.5" y1="425.6" x2="251.5" y2="536.2" stroke="#4fb8d0" stroke-width="0.4" stroke-opacity="0.8"/><line x1="346.4" y1="424.7" x2="284.8" y2="508.8" stroke="#50a0c0" stroke-width="0.4" stroke-opacity="0.8"/><line x1="326.5" y1="410.3" x2="237.1" y2="523.4" stroke="#4fb8d0" stroke-width="0.4" stroke-opacity="0.8"/><line x1="344.7" y1="424.3" x2="265.1" y2="557.4" stroke="#9a62b0" stroke-width="0.4" stroke-opacity="0.8"/><line x1="345.7" y1="426.1" x2="234.0" y2="539.6" stroke="#e0d84a" stroke-width="0.4" stroke-opacity="0.8"/><line x1="328.9" y1="425.5" x2="236.8" y2="524.7" stroke="#9a62b0" stroke-width="0.4" stroke-opacity="0.8"/><line x1="348.7" y1="411.9" x2="267.4" y2="540.2" stroke="#e0d84a" stroke-width="0.4" stroke-opacity="0.8"/><line x1="347.6" y1="410.3" x2="283.7" y2="508.6" stroke="#4fb8d0" stroke-width="0.4" stroke-opacity="0.8"/><line x1="347.6" y1="411.0" x2="287.6" y2="538.6" stroke="#a0d060" stroke-width="0.4" stroke-opacity="0.8"/><line x1="349.4" y1="411.3" x2="250.6" y2="537.2" stroke="#9a62b0" stroke-width="0.4" stroke-opacity="0.8"/><line x1="336.3" y1="398.4" x2="272.0" y2="526.1" stroke="#6a6ad0" stroke-width="0.4" stroke-opacity="0.8"/><line x1="329.9" y1="425.9" x2="271.8" y2="526.8" stroke="#333333" stroke-width="0.45" stroke-opacity="0.8"/><line x1="337.1" y1="398.6" x2="272.2" y2="526.2" stroke="#50a0c0" stroke-width="0.4" stroke-opacity="0.8"/><line x1="345.5" y1="426.5" x2="237.3" y2="523.6" stroke="#6a6ad0" stroke-width="0.4" stroke-opacity="0.8"/><line x1="328.0" y1="425.9" x2="239.8" y2="508.6" stroke="#e0d84a" stroke-width="0.4" stroke-opacity="0.8"/><line x1="336.0" y1="397.4" x2="254.5" y2="518.7" stroke="#e0d84a" stroke-width="0.4" stroke-opacity="0.8"/><line x1="348.8" y1="412.0" x2="251.5" y2="537.9" stroke="#3f8f4f" stroke-width="0.4" stroke-opacity="0.8"/><line x1="328.9" y1="426.2" x2="237.9" y2="523.8" stroke="#a0d060" stroke-width="0.4" stroke-opacity="0.8"/><line x1="325.2" y1="410.5" x2="282.7" y2="553.9" stroke="#4fb8d0" stroke-width="0.4" stroke-opacity="0.8"/><line x1="336.9" y1="397.8" x2="272.5" y2="527.9" stroke="#c8c83a" stroke-width="0.4" stroke-opacity="0.8"/><line x1="328.4" y1="426.2" x2="283.5" y2="508.3" stroke="#9a62b0" stroke-width="0.4" stroke-opacity="0.8"/><line x1="347.2" y1="412.3" x2="273.0" y2="525.7" stroke="#4fb8d0" stroke-width="0.4" stroke-opacity="0.8"/><line x1="329.9" y1="425.2" x2="280.7" y2="553.7" stroke="#50a0c0" stroke-width="0.4" stroke-opacity="0.8"/><line x1="329.5" y1="425.8" x2="234.8" y2="539.7" stroke="#7cc04a" stroke-width="0.4" stroke-opacity="0.8"/><line x1="381.7" y1="425.2" x2="255.9" y2="517.0" stroke="#a0d060" stroke-width="0.4" stroke-opacity="0.8"/><line x1="405.6" y1="427.0" x2="267.7" y2="541.6" stroke="#7cc04a" stroke-width="0.4" stroke-opacity="0.8"/><line x1="394.4" y1="437.1" x2="283.8" y2="507.3" stroke="#e0d84a" stroke-width="0.4" stroke-opacity="0.8"/><line x1="381.1" y1="426.3" x2="237.2" y2="524.2" stroke="#222222" stroke-width="0.45" stroke-opacity="0.8"/><line x1="406.9" y1="427.1" x2="287.8" y2="524.5" stroke="#c8c83a" stroke-width="0.4" stroke-opacity="0.8"/><line x1="407.5" y1="425.3" x2="240.5" y2="509.3" stroke="#7cc04a" stroke-width="0.4" stroke-opacity="0.8"/><line x1="407.0" y1="425.8" x2="236.3" y2="525.4" stroke="#9a62b0" stroke-width="0.4" stroke-opacity="0.8"/><line x1="392.9" y1="414.3" x2="255.1" y2="517.7" stroke="#6a6ad0" stroke-width="0.4" stroke-opacity="0.8"/><line x1="393.8" y1="414.3" x2="287.7" y2="538.7" stroke="#e0d84a" stroke-width="0.4" stroke-opacity="0.8"/><line x1="406.9" y1="425.5" x2="256.0" y2="518.4" stroke="#3f8f4f" stroke-width="0.4" stroke-opacity="0.8"/><line x1="406.1" y1="426.3" x2="235.2" y2="539.8" stroke="#c060a8" stroke-width="0.4" stroke-opacity="0.8"/><line x1="392.2" y1="436.8" x2="236.8" y2="523.3" stroke="#c8c83a" stroke-width="0.4" stroke-opacity="0.8"/><line x1="407.4" y1="426.6" x2="283.0" y2="508.8" stroke="#c060a8" stroke-width="0.4" stroke-opacity="0.8"/><line x1="394.4" y1="436.7" x2="236.1" y2="525.0" stroke="#6a6ad0" stroke-width="0.4" stroke-opacity="0.8"/><line x1="381.1" y1="425.8" x2="263.8" y2="555.9" stroke="#50a0c0" stroke-width="0.4" stroke-opacity="0.8"/><line x1="382.1" y1="427.1" x2="287.4" y2="524.5" stroke="#a0d060" stroke-width="0.4" stroke-opacity="0.8"/><line x1="381.3" y1="425.2" x2="264.8" y2="556.8" stroke="#a0d060" stroke-width="0.4" stroke-opacity="0.8"/><line x1="382.9" y1="426.3" x2="268.1" y2="541.4" stroke="#a0d060" stroke-width="0.4" stroke-opacity="0.8"/><line x1="381.8" y1="426.3" x2="282.5" y2="553.5" stroke="#c8c83a" stroke-width="0.4" stroke-opacity="0.8"/><line x1="381.4" y1="426.7" x2="267.1" y2="540.3" stroke="#9a62b0" stroke-width="0.4" stroke-opacity="0.8"/><line x1="392.4" y1="416.0" x2="236.9" y2="524.6" stroke="#c060a8" stroke-width="0.4" stroke-opacity="0.8"/><line x1="393.3" y1="436.4" x2="256.1" y2="518.4" stroke="#6a6ad0" stroke-width="0.4" stroke-opacity="0.8"/><line x1="406.8" y1="425.3" x2="239.6" y2="508.6" stroke="#c060a8" stroke-width="0.4" stroke-opacity="0.8"/><line x1="393.2" y1="436.5" x2="263.2" y2="556.2" stroke="#c060a8" stroke-width="0.4" stroke-opacity="0.8"/><line x1="381.1" y1="427.3" x2="255.5" y2="517.9" stroke="#4fb8d0" stroke-width="0.4" stroke-opacity="0.8"/><line x1="381.2" y1="426.4" x2="236.9" y2="523.8" stroke="#a0d060" stroke-width="0.4" stroke-opacity="0.8"/><line x1="407.1" y1="426.8" x2="256.6" y2="517.1" stroke="#4fb8d0" stroke-width="0.4" stroke-opacity="0.8"/><line x1="405.7" y1="426.1" x2="248.1" y2="551.5" stroke="#7cc04a" stroke-width="0.4" stroke-opacity="0.8"/><line x1="406.8" y1="425.6" x2="239.5" y2="509.2" stroke="#c8c83a" stroke-width="0.4" stroke-opacity="0.8"/><line x1="393.2" y1="437.1" x2="288.0" y2="540.2" stroke="#6a6ad0" stroke-width="0.4" stroke-opacity="0.8"/><line x1="381.5" y1="427.2" x2="282.9" y2="506.9" stroke="#c060a8" stroke-width="0.4" stroke-opacity="0.8"/><line x1="392.5" y1="437.3" x2="235.0" y2="540.6" stroke="#c8c83a" stroke-width="0.4" stroke-opacity="0.8"/><line x1="382.3" y1="426.4" x2="284.8" y2="507.7" stroke="#c8c83a" stroke-width="0.4" stroke-opacity="0.8"/><line x1="394.4" y1="415.6" x2="239.5" y2="510.1" stroke="#333333" stroke-width="0.45" stroke-opacity="0.8"/><line x1="406.0" y1="427.0" x2="269.3" y2="497.6" stroke="#c060a8" stroke-width="0.4" stroke-opacity="0.8"/><line x1="394.1" y1="414.1" x2="265.7" y2="539.6" stroke="#7cc04a" stroke-width="0.4" stroke-opacity="0.8"/><line x1="393.3" y1="437.1" x2="288.1" y2="538.7" stroke="#3f8f4f" stroke-width="0.4" stroke-opacity="0.8"/><line x1="393.6" y1="414.8" x2="267.5" y2="497.8" stroke="#4fb8d0" stroke-width="0.4" stroke-opacity="0.8"/><line x1="381.0" y1="426.9" x2="263.9" y2="557.4" stroke="#e0d84a" stroke-width="0.4" stroke-opacity="0.8"/><line x1="393.7" y1="437.0" x2="281.8" y2="553.1" stroke="#a0d060" stroke-width="0.4" stroke-opacity="0.8"/><line x1="392.6" y1="414.8" x2="235.9" y2="524.1" stroke="#333333" stroke-width="0.45" stroke-opacity="0.8"/><line x1="393.4" y1="414.5" x2="249.6" y2="535.8" stroke="#a0d060" stroke-width="0.4" stroke-opacity="0.8"/><line x1="381.9" y1="426.2" x2="255.9" y2="519.3" stroke="#333333" stroke-width="0.45" stroke-opacity="0.8"/><line x1="392.5" y1="436.9" x2="235.3" y2="540.2" stroke="#50a0c0" stroke-width="0.4" stroke-opacity="0.8"/><line x1="406.4" y1="425.2" x2="248.0" y2="552.1" stroke="#3f8f4f" stroke-width="0.4" stroke-opacity="0.8"/><line x1="405.5" y1="427.4" x2="286.7" y2="524.2" stroke="#c060a8" stroke-width="0.4" stroke-opacity="0.8"/><line x1="382.0" y1="426.2" x2="268.1" y2="499.2" stroke="#7cc04a" stroke-width="0.4" stroke-opacity="0.8"/><line x1="392.1" y1="437.0" x2="251.9" y2="499.4" stroke="#c8c83a" stroke-width="0.4" stroke-opacity="0.8"/><line x1="392.1" y1="437.1" x2="281.4" y2="553.6" stroke="#c8c83a" stroke-width="0.4" stroke-opacity="0.8"/><line x1="382.7" y1="425.7" x2="247.2" y2="551.7" stroke="#4fb8d0" stroke-width="0.4" stroke-opacity="0.8"/><line x1="392.5" y1="414.0" x2="269.3" y2="498.3" stroke="#a0d060" stroke-width="0.4" stroke-opacity="0.8"/><line x1="405.4" y1="426.6" x2="235.0" y2="540.6" stroke="#9a62b0" stroke-width="0.4" stroke-opacity="0.8"/><line x1="392.9" y1="415.0" x2="286.5" y2="524.9" stroke="#7cc04a" stroke-width="0.4" stroke-opacity="0.8"/><line x1="381.8" y1="425.8" x2="251.8" y2="536.5" stroke="#6a6ad0" stroke-width="0.4" stroke-opacity="0.8"/><line x1="392.6" y1="436.6" x2="287.6" y2="539.2" stroke="#a0d060" stroke-width="0.4" stroke-opacity="0.8"/><line x1="383.1" y1="426.1" x2="287.5" y2="539.1" stroke="#3f8f4f" stroke-width="0.4" stroke-opacity="0.8"/><line x1="394.4" y1="413.9" x2="234.8" y2="539.2" stroke="#333333" stroke-width="0.45" stroke-opacity="0.8"/><line x1="381.2" y1="426.2" x2="268.1" y2="499.1" stroke="#a0d060" stroke-width="0.4" stroke-opacity="0.8"/><line x1="382.8" y1="425.9" x2="273.3" y2="526.4" stroke="#6a6ad0" stroke-width="0.4" stroke-opacity="0.8"/><line x1="392.5" y1="436.0" x2="283.0" y2="508.3" stroke="#c060a8" stroke-width="0.4" stroke-opacity="0.8"/><line x1="393.5" y1="436.5" x2="288.1" y2="539.5" stroke="#7cc04a" stroke-width="0.4" stroke-opacity="0.8"/><line x1="393.1" y1="435.6" x2="267.0" y2="539.8" stroke="#333333" stroke-width="0.45" stroke-opacity="0.8"/><line x1="394.1" y1="415.7" x2="256.1" y2="519.3" stroke="#222222" stroke-width="0.45" stroke-opacity="0.8"/><line x1="407.4" y1="425.3" x2="272.7" y2="527.8" stroke="#c060a8" stroke-width="0.4" stroke-opacity="0.8"/><line x1="383.0" y1="426.0" x2="249.8" y2="536.2" stroke="#9a62b0" stroke-width="0.4" stroke-opacity="0.8"/><line x1="393.5" y1="436.7" x2="286.4" y2="524.6" stroke="#e0d84a" stroke-width="0.4" stroke-opacity="0.8"/><line x1="381.7" y1="427.3" x2="236.4" y2="523.5" stroke="#c060a8" stroke-width="0.4" stroke-opacity="0.8"/><line x1="394.1" y1="436.3" x2="256.2" y2="517.1" stroke="#333333" stroke-width="0.45" stroke-opacity="0.8"/><line x1="382.8" y1="425.5" x2="247.6" y2="550.7" stroke="#333333" stroke-width="0.45" stroke-opacity="0.8"/><line x1="383.0" y1="426.8" x2="265.0" y2="555.7" stroke="#333333" stroke-width="0.45" stroke-opacity="0.8"/><line x1="381.5" y1="425.8" x2="236.2" y2="523.8" stroke="#333333" stroke-width="0.45" stroke-opacity="0.8"/><line x1="392.6" y1="415.1" x2="287.2" y2="524.7" stroke="#6a6ad0" stroke-width="0.4" stroke-opacity="0.8"/><line x1="405.9" y1="426.6" x2="286.6" y2="525.5" stroke="#333333" stroke-width="0.45" stroke-opacity="0.8"/><line x1="393.9" y1="437.4" x2="287.6" y2="540.1" stroke="#e0d84a" stroke-width="0.4" stroke-opacity="0.8"/><line x1="394.1" y1="414.6" x2="252.2" y2="499.0" stroke="#9a62b0" stroke-width="0.4" stroke-opacity="0.8"/><line x1="393.5" y1="414.0" x2="247.9" y2="552.0" stroke="#e0d84a" stroke-width="0.4" stroke-opacity="0.8"/><line x1="393.9" y1="414.9" x2="288.1" y2="524.5" stroke="#3f8f4f" stroke-width="0.4" stroke-opacity="0.8"/><line x1="392.9" y1="415.8" x2="246.5" y2="552.7" stroke="#9a62b0" stroke-width="0.4" stroke-opacity="0.8"/><line x1="406.1" y1="425.9" x2="263.9" y2="555.5" stroke="#3f8f4f" stroke-width="0.4" stroke-opacity="0.8"/><line x1="382.0" y1="426.1" x2="287.4" y2="525.0" stroke="#222222" stroke-width="0.45" stroke-opacity="0.8"/><line x1="405.5" y1="427.1" x2="254.8" y2="518.8" stroke="#c060a8" stroke-width="0.4" stroke-opacity="0.8"/><line x1="381.7" y1="425.0" x2="236.2" y2="524.1" stroke="#7cc04a" stroke-width="0.4" stroke-opacity="0.8"/><line x1="394.4" y1="414.2" x2="267.2" y2="540.6" stroke="#c8c83a" stroke-width="0.4" stroke-opacity="0.8"/><line x1="382.7" y1="427.4" x2="288.6" y2="540.4" stroke="#3f8f4f" stroke-width="0.4" stroke-opacity="0.8"/><line x1="393.6" y1="414.3" x2="267.8" y2="497.2" stroke="#7cc04a" stroke-width="0.4" stroke-opacity="0.8"/><line x1="380.9" y1="426.1" x2="252.1" y2="500.3" stroke="#333333" stroke-width="0.45" stroke-opacity="0.8"/><line x1="406.3" y1="427.4" x2="236.4" y2="524.1" stroke="#50a0c0" stroke-width="0.4" stroke-opacity="0.8"/><line x1="393.7" y1="415.4" x2="263.0" y2="557.3" stroke="#333333" stroke-width="0.45" stroke-opacity="0.8"/><line x1="394.0" y1="436.6" x2="239.6" y2="509.9" stroke="#50a0c0" stroke-width="0.4" stroke-opacity="0.8"/><line x1="407.4" y1="425.7" x2="267.2" y2="539.6" stroke="#50a0c0" stroke-width="0.4" stroke-opacity="0.8"/><line x1="341.7" y1="499.3" x2="239.2" y2="509.5" stroke="#c060a8" stroke-width="0.4" stroke-opacity="0.8"/><line x1="324.5" y1="497.1" x2="251.3" y2="536.1" stroke="#e0d84a" stroke-width="0.4" stroke-opacity="0.8"/><line x1="345.9" y1="473.0" x2="268.9" y2="498.0" stroke="#9a62b0" stroke-width="0.4" stroke-opacity="0.8"/><line x1="350.4" y1="486.5" x2="271.3" y2="527.3" stroke="#333333" stroke-width="0.45" stroke-opacity="0.8"/><line x1="320.0" y1="483.7" x2="253.8" y2="498.8" stroke="#a0d060" stroke-width="0.4" stroke-opacity="0.8"/><line x1="320.3" y1="484.3" x2="251.3" y2="537.7" stroke="#c060a8" stroke-width="0.4" stroke-opacity="0.8"/><line x1="343.9" y1="472.4" x2="268.6" y2="498.7" stroke="#50a0c0" stroke-width="0.4" stroke-opacity="0.8"/><line x1="330.0" y1="470.5" x2="265.2" y2="556.1" stroke="#4fb8d0" stroke-width="0.4" stroke-opacity="0.8"/><line x1="329.8" y1="468.8" x2="282.3" y2="552.8" stroke="#333333" stroke-width="0.45" stroke-opacity="0.8"/><line x1="345.7" y1="472.8" x2="233.8" y2="539.4" stroke="#333333" stroke-width="0.45" stroke-opacity="0.8"/><line x1="320.7" y1="483.9" x2="267.6" y2="539.8" stroke="#c8c83a" stroke-width="0.4" stroke-opacity="0.8"/><line x1="319.7" y1="484.5" x2="266.9" y2="540.2" stroke="#222222" stroke-width="0.45" stroke-opacity="0.8"/><line x1="335.1" y1="447.0" x2="254.6" y2="518.9" stroke="#c060a8" stroke-width="0.4" stroke-opacity="0.8"/><line x1="328.7" y1="468.4" x2="253.8" y2="499.6" stroke="#3f8f4f" stroke-width="0.4" stroke-opacity="0.8"/><line x1="329.5" y1="469.5" x2="286.3" y2="524.6" stroke="#50a0c0" stroke-width="0.4" stroke-opacity="0.8"/><line x1="325.2" y1="497.6" x2="236.5" y2="525.2" stroke="#9a62b0" stroke-width="0.4" stroke-opacity="0.8"/><line x1="344.1" y1="472.2" x2="267.4" y2="539.5" stroke="#6a6ad0" stroke-width="0.4" stroke-opacity="0.8"/><line x1="320.7" y1="484.1" x2="264.5" y2="557.8" stroke="#c8c83a" stroke-width="0.4" stroke-opacity="0.8"/><line x1="344.6" y1="471.2" x2="273.6" y2="527.4" stroke="#4fb8d0" stroke-width="0.4" stroke-opacity="0.8"/><line x1="319.5" y1="484.5" x2="288.8" y2="539.9" stroke="#c8c83a" stroke-width="0.4" stroke-opacity="0.8"/><line x1="341.8" y1="500.5" x2="271.7" y2="527.7" stroke="#c8c83a" stroke-width="0.4" stroke-opacity="0.8"/><line x1="345.5" y1="473.4" x2="282.4" y2="553.4" stroke="#6a6ad0" stroke-width="0.4" stroke-opacity="0.8"/><line x1="350.5" y1="485.9" x2="256.1" y2="517.6" stroke="#50a0c0" stroke-width="0.4" stroke-opacity="0.8"/><line x1="330.4" y1="468.2" x2="256.0" y2="518.1" stroke="#e0d84a" stroke-width="0.4" stroke-opacity="0.8"/><line x1="330.4" y1="470.6" x2="240.1" y2="509.6" stroke="#222222" stroke-width="0.45" stroke-opacity="0.8"/><line x1="341.6" y1="498.6" x2="265.0" y2="557.5" stroke="#3f8f4f" stroke-width="0.4" stroke-opacity="0.8"/><line x1="319.4" y1="482.9" x2="247.4" y2="551.2" stroke="#222222" stroke-width="0.45" stroke-opacity="0.8"/><line x1="340.4" y1="500.1" x2="234.4" y2="540.3" stroke="#222222" stroke-width="0.45" stroke-opacity="0.8"/><line x1="324.7" y1="497.6" x2="234.8" y2="539.8" stroke="#a0d060" stroke-width="0.4" stroke-opacity="0.8"/><line x1="350.6" y1="485.8" x2="268.9" y2="498.9" stroke="#4fb8d0" stroke-width="0.4" stroke-opacity="0.8"/><line x1="325.6" y1="498.3" x2="256.0" y2="517.4" stroke="#333333" stroke-width="0.45" stroke-opacity="0.8"/><line x1="324.4" y1="498.4" x2="255.0" y2="517.5" stroke="#c060a8" stroke-width="0.4" stroke-opacity="0.8"/><line x1="339.8" y1="499.6" x2="269.8" y2="498.6" stroke="#50a0c0" stroke-width="0.4" stroke-opacity="0.8"/><line x1="350.5" y1="487.0" x2="272.6" y2="527.8" stroke="#c8c83a" stroke-width="0.4" stroke-opacity="0.8"/><line x1="344.0" y1="472.5" x2="266.3" y2="541.6" stroke="#e0d84a" stroke-width="0.4" stroke-opacity="0.8"/><line x1="340.4" y1="499.5" x2="286.7" y2="525.4" stroke="#a0d060" stroke-width="0.4" stroke-opacity="0.8"/><line x1="339.7" y1="500.2" x2="245.8" y2="552.1" stroke="#3f8f4f" stroke-width="0.4" stroke-opacity="0.8"/><line x1="319.8" y1="483.4" x2="263.3" y2="556.4" stroke="#c8c83a" stroke-width="0.4" stroke-opacity="0.8"/><line x1="319.4" y1="484.6" x2="264.0" y2="555.7" stroke="#4fb8d0" stroke-width="0.4" stroke-opacity="0.8"/><line x1="328.9" y1="470.1" x2="267.8" y2="498.3" stroke="#a0d060" stroke-width="0.4" stroke-opacity="0.8"/><line x1="340.8" y1="498.9" x2="255.9" y2="517.5" stroke="#222222" stroke-width="0.45" stroke-opacity="0.8"/><line x1="325.9" y1="496.4" x2="234.0" y2="539.7" stroke="#e0d84a" stroke-width="0.4" stroke-opacity="0.8"/><line x1="328.8" y1="470.1" x2="404.1" y2="523.8" stroke="#222222" stroke-width="0.45" stroke-opacity="0.8"/><line x1="340.4" y1="499.4" x2="375.9" y2="512.5" stroke="#9a62b0" stroke-width="0.4" stroke-opacity="0.8"/><line x1="345.6" y1="472.2" x2="404.1" y2="523.5" stroke="#6a6ad0" stroke-width="0.4" stroke-opacity="0.8"/><line x1="325.5" y1="497.9" x2="377.8" y2="512.7" stroke="#c060a8" stroke-width="0.4" stroke-opacity="0.8"/><line x1="329.1" y1="470.3" x2="377.0" y2="512.7" stroke="#50a0c0" stroke-width="0.4" stroke-opacity="0.8"/><line x1="329.5" y1="469.2" x2="405.2" y2="525.5" stroke="#a0d060" stroke-width="0.4" stroke-opacity="0.8"/><line x1="330.3" y1="469.1" x2="380.2" y2="559.9" stroke="#4fb8d0" stroke-width="0.4" stroke-opacity="0.8"/><line x1="324.9" y1="498.1" x2="380.6" y2="559.8" stroke="#c8c83a" stroke-width="0.4" stroke-opacity="0.8"/><line x1="330.6" y1="469.0" x2="391.6" y2="515.0" stroke="#c060a8" stroke-width="0.4" stroke-opacity="0.8"/><line x1="336.1" y1="446.1" x2="381.4" y2="528.6" stroke="#7cc04a" stroke-width="0.4" stroke-opacity="0.8"/><line x1="341.3" y1="500.3" x2="380.5" y2="561.6" stroke="#a0d060" stroke-width="0.4" stroke-opacity="0.8"/><line x1="348.5" y1="486.9" x2="382.9" y2="529.5" stroke="#7cc04a" stroke-width="0.4" stroke-opacity="0.8"/><line x1="319.4" y1="484.4" x2="363.2" y2="522.7" stroke="#222222" stroke-width="0.45" stroke-opacity="0.8"/><line x1="330.5" y1="468.3" x2="378.1" y2="512.9" stroke="#7cc04a" stroke-width="0.4" stroke-opacity="0.8"/><line x1="340.6" y1="499.9" x2="380.7" y2="561.5" stroke="#e0d84a" stroke-width="0.4" stroke-opacity="0.8"/><line x1="336.4" y1="444.9" x2="357.3" y2="537.4" stroke="#222222" stroke-width="0.45" stroke-opacity="0.8"/><line x1="328.4" y1="468.9" x2="382.5" y2="530.0" stroke="#7cc04a" stroke-width="0.4" stroke-opacity="0.8"/><line x1="325.5" y1="497.2" x2="362.5" y2="521.0" stroke="#6a6ad0" stroke-width="0.4" stroke-opacity="0.8"/><line x1="349.8" y1="485.2" x2="358.3" y2="538.0" stroke="#333333" stroke-width="0.45" stroke-opacity="0.8"/><line x1="324.2" y1="496.9" x2="399.7" y2="553.0" stroke="#6a6ad0" stroke-width="0.4" stroke-opacity="0.8"/><line x1="324.7" y1="498.6" x2="365.7" y2="553.4" stroke="#7cc04a" stroke-width="0.4" stroke-opacity="0.8"/><line x1="349.8" y1="485.5" x2="365.4" y2="552.5" stroke="#e0d84a" stroke-width="0.4" stroke-opacity="0.8"/><line x1="320.7" y1="484.3" x2="399.9" y2="552.8" stroke="#a0d060" stroke-width="0.4" stroke-opacity="0.8"/><line x1="325.4" y1="497.7" x2="398.6" y2="553.7" stroke="#a0d060" stroke-width="0.4" stroke-opacity="0.8"/><line x1="320.2" y1="483.8" x2="357.4" y2="538.4" stroke="#50a0c0" stroke-width="0.4" stroke-opacity="0.8"/><line x1="349.5" y1="486.9" x2="381.5" y2="529.3" stroke="#6a6ad0" stroke-width="0.4" stroke-opacity="0.8"/><line x1="349.0" y1="485.3" x2="382.2" y2="560.4" stroke="#50a0c0" stroke-width="0.4" stroke-opacity="0.8"/><line x1="319.6" y1="482.6" x2="381.4" y2="529.6" stroke="#50a0c0" stroke-width="0.4" stroke-opacity="0.8"/><line x1="324.2" y1="496.6" x2="380.9" y2="560.7" stroke="#3f8f4f" stroke-width="0.4" stroke-opacity="0.8"/><line x1="323.8" y1="498.4" x2="407.3" y2="540.3" stroke="#4fb8d0" stroke-width="0.4" stroke-opacity="0.8"/><line x1="345.1" y1="471.7" x2="375.9" y2="513.4" stroke="#9a62b0" stroke-width="0.4" stroke-opacity="0.8"/><line x1="350.1" y1="487.1" x2="383.8" y2="543.7" stroke="#222222" stroke-width="0.45" stroke-opacity="0.8"/><line x1="341.8" y1="499.2" x2="362.2" y2="521.0" stroke="#6a6ad0" stroke-width="0.4" stroke-opacity="0.8"/><line x1="325.3" y1="496.6" x2="399.4" y2="554.7" stroke="#9a62b0" stroke-width="0.4" stroke-opacity="0.8"/><line x1="341.0" y1="498.9" x2="399.5" y2="554.1" stroke="#e0d84a" stroke-width="0.4" stroke-opacity="0.8"/><line x1="349.0" y1="485.0" x2="381.7" y2="529.3" stroke="#3f8f4f" stroke-width="0.4" stroke-opacity="0.8"/><line x1="335.2" y1="446.9" x2="382.2" y2="527.8" stroke="#c8c83a" stroke-width="0.4" stroke-opacity="0.8"/><line x1="324.7" y1="496.3" x2="383.9" y2="546.0" stroke="#c8c83a" stroke-width="0.4" stroke-opacity="0.8"/><line x1="349.2" y1="485.4" x2="392.9" y2="513.3" stroke="#a0d060" stroke-width="0.4" stroke-opacity="0.8"/><line x1="337.1" y1="445.5" x2="376.6" y2="513.4" stroke="#333333" stroke-width="0.45" stroke-opacity="0.8"/><line x1="348.7" y1="485.2" x2="362.2" y2="522.2" stroke="#6a6ad0" stroke-width="0.4" stroke-opacity="0.8"/><line x1="324.2" y1="498.3" x2="404.4" y2="525.5" stroke="#6a6ad0" stroke-width="0.4" stroke-opacity="0.8"/><line x1="264.3" y1="557.7" x2="358.6" y2="537.7" stroke="#e0d84a" stroke-width="0.4" stroke-opacity="0.8"/><line x1="268.3" y1="497.2" x2="358.7" y2="538.4" stroke="#9a62b0" stroke-width="0.4" stroke-opacity="0.8"/><line x1="283.7" y1="508.0" x2="381.0" y2="560.0" stroke="#3f8f4f" stroke-width="0.4" stroke-opacity="0.8"/><line x1="263.6" y1="556.3" x2="377.3" y2="512.7" stroke="#222222" stroke-width="0.45" stroke-opacity="0.8"/><line x1="234.1" y1="540.6" x2="380.4" y2="560.3" stroke="#c060a8" stroke-width="0.4" stroke-opacity="0.8"/><line x1="237.3" y1="523.7" x2="405.3" y2="524.0" stroke="#7cc04a" stroke-width="0.4" stroke-opacity="0.8"/><line x1="283.4" y1="509.2" x2="381.7" y2="528.9" stroke="#c8c83a" stroke-width="0.4" stroke-opacity="0.8"/><line x1="237.1" y1="525.5" x2="380.2" y2="560.3" stroke="#3f8f4f" stroke-width="0.4" stroke-opacity="0.8"/><line x1="288.6" y1="539.7" x2="404.8" y2="524.8" stroke="#50a0c0" stroke-width="0.4" stroke-opacity="0.8"/><line x1="284.7" y1="507.7" x2="403.9" y2="525.7" stroke="#50a0c0" stroke-width="0.4" stroke-opacity="0.8"/><line x1="249.9" y1="537.3" x2="405.0" y2="538.8" stroke="#a0d060" stroke-width="0.4" stroke-opacity="0.8"/><line x1="267.9" y1="540.1" x2="383.0" y2="528.0" stroke="#c8c83a" stroke-width="0.4" stroke-opacity="0.8"/><line x1="288.7" y1="524.1" x2="400.4" y2="553.9" stroke="#9a62b0" stroke-width="0.4" stroke-opacity="0.8"/><line x1="250.2" y1="536.5" x2="405.8" y2="523.6" stroke="#50a0c0" stroke-width="0.4" stroke-opacity="0.8"/><line x1="271.6" y1="526.9" x2="405.5" y2="525.4" stroke="#222222" stroke-width="0.45" stroke-opacity="0.8"/><line x1="250.6" y1="537.8" x2="362.6" y2="521.3" stroke="#3f8f4f" stroke-width="0.4" stroke-opacity="0.8"/><line x1="275.9" y1="412.1" x2="336.3" y2="397.2" stroke="#7cc04a" stroke-width="0.4" stroke-opacity="0.8"/><line x1="283.6" y1="438.9" x2="326.0" y2="411.7" stroke="#c060a8" stroke-width="0.4" stroke-opacity="0.8"/><line x1="274.3" y1="413.9" x2="328.8" y2="425.7" stroke="#333333" stroke-width="0.45" stroke-opacity="0.8"/><line x1="287.0" y1="423.1" x2="324.9" y2="411.9" stroke="#e0d84a" stroke-width="0.4" stroke-opacity="0.8"/><line x1="282.5" y1="439.2" x2="336.7" y2="398.2" stroke="#6a6ad0" stroke-width="0.4" stroke-opacity="0.8"/><line x1="266.5" y1="439.4" x2="325.1" y2="410.8" stroke="#7cc04a" stroke-width="0.4" stroke-opacity="0.8"/><line x1="262.1" y1="425.2" x2="345.8" y2="425.7" stroke="#333333" stroke-width="0.45" stroke-opacity="0.8"/><line x1="284.5" y1="439.3" x2="335.8" y2="399.2" stroke="#50a0c0" stroke-width="0.4" stroke-opacity="0.8"/><line x1="274.9" y1="413.2" x2="347.8" y2="411.4" stroke="#c8c83a" stroke-width="0.4" stroke-opacity="0.8"/><line x1="274.9" y1="413.7" x2="345.7" y2="425.0" stroke="#c060a8" stroke-width="0.4" stroke-opacity="0.8"/><line x1="287.2" y1="422.0" x2="327.6" y2="426.0" stroke="#3f8f4f" stroke-width="0.4" stroke-opacity="0.8"/><line x1="262.9" y1="424.3" x2="348.3" y2="410.2" stroke="#9a62b0" stroke-width="0.4" stroke-opacity="0.8"/><line x1="275.5" y1="412.9" x2="336.6" y2="398.9" stroke="#c060a8" stroke-width="0.4" stroke-opacity="0.8"/><line x1="266.4" y1="439.3" x2="345.9" y2="424.4" stroke="#6a6ad0" stroke-width="0.4" stroke-opacity="0.8"/><line x1="344.6" y1="425.7" x2="392.4" y2="436.3" stroke="#c060a8" stroke-width="0.4" stroke-opacity="0.8"/><line x1="336.2" y1="398.7" x2="405.8" y2="427.3" stroke="#4fb8d0" stroke-width="0.4" stroke-opacity="0.8"/><line x1="324.5" y1="411.1" x2="392.8" y2="415.4" stroke="#c060a8" stroke-width="0.4" stroke-opacity="0.8"/><line x1="328.9" y1="425.3" x2="394.0" y2="414.2" stroke="#9a62b0" stroke-width="0.4" stroke-opacity="0.8"/><line x1="325.0" y1="411.1" x2="407.2" y2="427.3" stroke="#c060a8" stroke-width="0.4" stroke-opacity="0.8"/><line x1="329.1" y1="425.8" x2="381.5" y2="426.5" stroke="#333333" stroke-width="0.45" stroke-opacity="0.8"/><line x1="348.9" y1="410.3" x2="407.4" y2="426.5" stroke="#e0d84a" stroke-width="0.4" stroke-opacity="0.8"/><line x1="348.4" y1="411.1" x2="406.9" y2="425.2" stroke="#6a6ad0" stroke-width="0.4" stroke-opacity="0.8"/><line x1="336.1" y1="398.7" x2="393.5" y2="436.6" stroke="#a0d060" stroke-width="0.4" stroke-opacity="0.8"/><line x1="347.1" y1="410.6" x2="394.0" y2="435.8" stroke="#e0d84a" stroke-width="0.4" stroke-opacity="0.8"/><line x1="335.9" y1="398.2" x2="393.4" y2="415.5" stroke="#4fb8d0" stroke-width="0.4" stroke-opacity="0.8"/><line x1="349.1" y1="410.5" x2="393.4" y2="414.9" stroke="#c8c83a" stroke-width="0.4" stroke-opacity="0.8"/><line x1="345.8" y1="425.1" x2="394.0" y2="437.4" stroke="#333333" stroke-width="0.45" stroke-opacity="0.8"/><line x1="325.1" y1="410.5" x2="394.2" y2="437.8" stroke="#a0d060" stroke-width="0.4" stroke-opacity="0.8"/><line x1="325.1" y1="411.9" x2="392.7" y2="415.7" stroke="#50a0c0" stroke-width="0.4" stroke-opacity="0.8"/><line x1="345.4" y1="425.2" x2="393.1" y2="436.1" stroke="#7cc04a" stroke-width="0.4" stroke-opacity="0.8"/><line x1="265.9" y1="438.8" x2="268.4" y2="497.1" stroke="#4fb8d0" stroke-width="0.4" stroke-opacity="0.8"/><line x1="268.0" y1="439.8" x2="240.0" y2="508.4" stroke="#6a6ad0" stroke-width="0.4" stroke-opacity="0.8"/><line x1="276.1" y1="414.1" x2="288.0" y2="538.4" stroke="#3f8f4f" stroke-width="0.4" stroke-opacity="0.8"/><line x1="288.5" y1="422.8" x2="268.4" y2="499.2" stroke="#c8c83a" stroke-width="0.4" stroke-opacity="0.8"/><line x1="276.4" y1="413.6" x2="251.6" y2="537.8" stroke="#e0d84a" stroke-width="0.4" stroke-opacity="0.8"/><line x1="265.9" y1="440.4" x2="284.0" y2="508.4" stroke="#c060a8" stroke-width="0.4" stroke-opacity="0.8"/><line x1="275.1" y1="413.4" x2="283.5" y2="508.6" stroke="#e0d84a" stroke-width="0.4" stroke-opacity="0.8"/><line x1="382.3" y1="427.0" x2="357.7" y2="537.6" stroke="#4fb8d0" stroke-width="0.4" stroke-opacity="0.8"/><line x1="381.7" y1="426.4" x2="382.0" y2="561.0" stroke="#333333" stroke-width="0.45" stroke-opacity="0.8"/><line x1="407.3" y1="427.3" x2="382.1" y2="527.7" stroke="#50a0c0" stroke-width="0.4" stroke-opacity="0.8"/><line x1="393.7" y1="415.0" x2="365.5" y2="551.4" stroke="#50a0c0" stroke-width="0.4" stroke-opacity="0.8"/><line x1="393.5" y1="415.8" x2="405.2" y2="524.2" stroke="#c060a8" stroke-width="0.4" stroke-opacity="0.8"/><line x1="405.4" y1="427.3" x2="381.0" y2="560.0" stroke="#6a6ad0" stroke-width="0.4" stroke-opacity="0.8"/><line x1="405.7" y1="425.0" x2="384.5" y2="545.5" stroke="#3f8f4f" stroke-width="0.4" stroke-opacity="0.8"/><line x1="335.8" y1="397.2" x2="340.8" y2="499.3" stroke="#c8c83a" stroke-width="0.4" stroke-opacity="0.8"/><line x1="348.3" y1="410.8" x2="350.3" y2="486.0" stroke="#e0d84a" stroke-width="0.4" stroke-opacity="0.8"/><line x1="345.4" y1="424.7" x2="326.1" y2="498.1" stroke="#222222" stroke-width="0.45" stroke-opacity="0.8"/><line x1="346.1" y1="426.5" x2="318.5" y2="483.5" stroke="#3f8f4f" stroke-width="0.4" stroke-opacity="0.8"/><line x1="344.7" y1="426.3" x2="336.2" y2="445.5" stroke="#7cc04a" stroke-width="0.4" stroke-opacity="0.8"/><line x1="345.8" y1="424.5" x2="344.8" y2="473.1" stroke="#333333" stroke-width="0.45" stroke-opacity="0.8"/><line x1="329.4" y1="427.0" x2="350.2" y2="485.7" stroke="#50a0c0" stroke-width="0.4" stroke-opacity="0.8"/><line x1="327.6" y1="427.1" x2="340.1" y2="500.5" stroke="#222222" stroke-width="0.45" stroke-opacity="0.8"/><line x1="348.1" y1="411.4" x2="324.6" y2="497.0" stroke="#a0d060" stroke-width="0.4" stroke-opacity="0.8"/><line x1="347.6" y1="411.2" x2="330.6" y2="468.4" stroke="#9a62b0" stroke-width="0.4" stroke-opacity="0.8"/><line x1="335.9" y1="398.8" x2="348.7" y2="486.9" stroke="#9a62b0" stroke-width="0.4" stroke-opacity="0.8"/><line x1="327.6" y1="426.7" x2="341.4" y2="499.9" stroke="#c8c83a" stroke-width="0.4" stroke-opacity="0.8"/><line x1="345.9" y1="426.4" x2="340.8" y2="498.5" stroke="#c8c83a" stroke-width="0.4" stroke-opacity="0.8"/><line x1="347.8" y1="411.1" x2="350.3" y2="486.6" stroke="#50a0c0" stroke-width="0.4" stroke-opacity="0.8"/><line x1="329.3" y1="427.0" x2="343.8" y2="471.7" stroke="#c060a8" stroke-width="0.4" stroke-opacity="0.8"/><line x1="344.6" y1="425.8" x2="348.4" y2="485.9" stroke="#6a6ad0" stroke-width="0.4" stroke-opacity="0.8"/><line x1="335.5" y1="398.4" x2="346.0" y2="472.8" stroke="#3f8f4f" stroke-width="0.4" stroke-opacity="0.8"/><line x1="328.6" y1="426.8" x2="325.7" y2="498.4" stroke="#e0d84a" stroke-width="0.4" stroke-opacity="0.8"/><line x1="347.9" y1="411.0" x2="319.9" y2="482.6" stroke="#50a0c0" stroke-width="0.4" stroke-opacity="0.8"/><line x1="344.5" y1="426.3" x2="344.2" y2="471.4" stroke="#9a62b0" stroke-width="0.4" stroke-opacity="0.8"/><line x1="348.7" y1="410.6" x2="325.0" y2="497.8" stroke="#9a62b0" stroke-width="0.4" stroke-opacity="0.8"/><line x1="348.6" y1="410.4" x2="337.0" y2="446.4" stroke="#c060a8" stroke-width="0.4" stroke-opacity="0.8"/><line x1="345.1" y1="426.4" x2="336.3" y2="445.8" stroke="#222222" stroke-width="0.45" stroke-opacity="0.8"/><line x1="335.5" y1="398.0" x2="319.6" y2="483.3" stroke="#50a0c0" stroke-width="0.4" stroke-opacity="0.8"/><line x1="347.5" y1="410.9" x2="320.8" y2="482.6" stroke="#c060a8" stroke-width="0.4" stroke-opacity="0.8"/><line x1="335.5" y1="399.0" x2="349.6" y2="487.2" stroke="#7cc04a" stroke-width="0.4" stroke-opacity="0.8"/><line x1="326.2" y1="412.2" x2="329.7" y2="468.9" stroke="#222222" stroke-width="0.45" stroke-opacity="0.8"/><line x1="326.8" y1="411.1" x2="346.0" y2="473.6" stroke="#4fb8d0" stroke-width="0.4" stroke-opacity="0.8"/><line x1="325.3" y1="411.1" x2="325.1" y2="498.2" stroke="#222222" stroke-width="0.45" stroke-opacity="0.8"/><line x1="347.1" y1="411.6" x2="318.6" y2="484.0" stroke="#c060a8" stroke-width="0.4" stroke-opacity="0.8"/><line x1="392.4" y1="437.0" x2="318.8" y2="483.1" stroke="#7cc04a" stroke-width="0.4" stroke-opacity="0.8"/><line x1="392.6" y1="416.2" x2="328.5" y2="470.2" stroke="#3f8f4f" stroke-width="0.4" stroke-opacity="0.8"/><line x1="393.8" y1="415.6" x2="345.1" y2="472.6" stroke="#333333" stroke-width="0.45" stroke-opacity="0.8"/><line x1="392.7" y1="415.4" x2="325.5" y2="497.4" stroke="#333333" stroke-width="0.45" stroke-opacity="0.8"/><line x1="405.6" y1="425.5" x2="344.7" y2="472.2" stroke="#c060a8" stroke-width="0.4" stroke-opacity="0.8"/><line x1="393.3" y1="414.5" x2="348.6" y2="486.8" stroke="#c060a8" stroke-width="0.4" stroke-opacity="0.8"/><line x1="407.4" y1="425.5" x2="329.7" y2="468.6" stroke="#3f8f4f" stroke-width="0.4" stroke-opacity="0.8"/><line x1="392.7" y1="436.1" x2="344.4" y2="471.9" stroke="#e0d84a" stroke-width="0.4" stroke-opacity="0.8"/><line x1="383.0" y1="427.2" x2="349.1" y2="486.6" stroke="#c060a8" stroke-width="0.4" stroke-opacity="0.8"/><line x1="406.2" y1="425.5" x2="325.6" y2="497.9" stroke="#3f8f4f" stroke-width="0.4" stroke-opacity="0.8"/><line x1="381.5" y1="425.6" x2="337.2" y2="446.0" stroke="#a0d060" stroke-width="0.4" stroke-opacity="0.8"/><line x1="394.4" y1="414.3" x2="336.5" y2="445.7" stroke="#50a0c0" stroke-width="0.4" stroke-opacity="0.8"/><line x1="406.7" y1="425.7" x2="325.7" y2="496.8" stroke="#c8c83a" stroke-width="0.4" stroke-opacity="0.8"/><line x1="392.1" y1="415.8" x2="320.5" y2="483.1" stroke="#9a62b0" stroke-width="0.4" stroke-opacity="0.8"/><line x1="381.9" y1="425.9" x2="328.9" y2="469.8" stroke="#50a0c0" stroke-width="0.4" stroke-opacity="0.8"/><line x1="405.6" y1="426.2" x2="345.4" y2="472.8" stroke="#7cc04a" stroke-width="0.4" stroke-opacity="0.8"/><line x1="381.9" y1="426.8" x2="325.4" y2="497.1" stroke="#6a6ad0" stroke-width="0.4" stroke-opacity="0.8"/><line x1="406.3" y1="427.1" x2="337.1" y2="445.8" stroke="#6a6ad0" stroke-width="0.4" stroke-opacity="0.8"/><line x1="394.2" y1="415.6" x2="330.0" y2="469.5" stroke="#222222" stroke-width="0.45" stroke-opacity="0.8"/><line x1="392.5" y1="414.5" x2="328.6" y2="470.4" stroke="#4fb8d0" stroke-width="0.4" stroke-opacity="0.8"/><line x1="381.7" y1="426.9" x2="340.4" y2="499.0" stroke="#a0d060" stroke-width="0.4" stroke-opacity="0.8"/><line x1="394.0" y1="437.2" x2="341.5" y2="498.9" stroke="#50a0c0" stroke-width="0.4" stroke-opacity="0.8"/><line x1="394.0" y1="415.2" x2="319.2" y2="484.5" stroke="#6a6ad0" stroke-width="0.4" stroke-opacity="0.8"/><line x1="406.2" y1="427.0" x2="336.4" y2="446.4" stroke="#50a0c0" stroke-width="0.4" stroke-opacity="0.8"/><line x1="328.0" y1="426.3" x2="381.4" y2="529.0" stroke="#7cc04a" stroke-width="0.4" stroke-opacity="0.8"/><line x1="336.0" y1="399.2" x2="400.1" y2="554.3" stroke="#6a6ad0" stroke-width="0.4" stroke-opacity="0.8"/><line x1="346.6" y1="425.8" x2="405.7" y2="524.7" stroke="#c8c83a" stroke-width="0.4" stroke-opacity="0.8"/><line x1="329.4" y1="427.1" x2="365.5" y2="551.4" stroke="#4fb8d0" stroke-width="0.4" stroke-opacity="0.8"/><line x1="328.9" y1="427.2" x2="366.0" y2="551.7" stroke="#c8c83a" stroke-width="0.4" stroke-opacity="0.8"/><line x1="347.8" y1="410.1" x2="391.4" y2="514.3" stroke="#a0d060" stroke-width="0.4" stroke-opacity="0.8"/><line x1="329.4" y1="426.6" x2="362.3" y2="522.0" stroke="#c060a8" stroke-width="0.4" stroke-opacity="0.8"/><line x1="346.2" y1="426.0" x2="405.1" y2="540.2" stroke="#7cc04a" stroke-width="0.4" stroke-opacity="0.8"/><line x1="326.9" y1="411.6" x2="404.9" y2="523.4" stroke="#4fb8d0" stroke-width="0.4" stroke-opacity="0.8"/><line x1="347.8" y1="410.2" x2="376.2" y2="514.5" stroke="#c8c83a" stroke-width="0.4" stroke-opacity="0.8"/><line x1="325.9" y1="410.5" x2="384.2" y2="544.2" stroke="#4fb8d0" stroke-width="0.4" stroke-opacity="0.8"/><line x1="336.6" y1="397.5" x2="378.0" y2="513.5" stroke="#6a6ad0" stroke-width="0.4" stroke-opacity="0.8"/><line x1="326.3" y1="411.3" x2="407.3" y2="539.4" stroke="#9a62b0" stroke-width="0.4" stroke-opacity="0.8"/><line x1="335.1" y1="398.8" x2="363.6" y2="521.5" stroke="#222222" stroke-width="0.45" stroke-opacity="0.8"/><line x1="348.8" y1="412.3" x2="364.0" y2="522.7" stroke="#222222" stroke-width="0.45" stroke-opacity="0.8"/><line x1="327.8" y1="426.9" x2="381.6" y2="560.5" stroke="#222222" stroke-width="0.45" stroke-opacity="0.8"/><line x1="275.3" y1="414.1" x2="406.3" y2="427.1" stroke="#50a0c0" stroke-width="0.4" stroke-opacity="0.8"/><line x1="261.4" y1="423.9" x2="382.7" y2="425.9" stroke="#4fb8d0" stroke-width="0.4" stroke-opacity="0.8"/><line x1="289.1" y1="423.0" x2="394.0" y2="436.5" stroke="#222222" stroke-width="0.45" stroke-opacity="0.8"/><line x1="268.1" y1="440.5" x2="393.4" y2="436.7" stroke="#c060a8" stroke-width="0.4" stroke-opacity="0.8"/><line x1="274.6" y1="412.4" x2="383.1" y2="427.3" stroke="#222222" stroke-width="0.45" stroke-opacity="0.8"/><line x1="288.2" y1="422.5" x2="380.8" y2="425.2" stroke="#3f8f4f" stroke-width="0.4" stroke-opacity="0.8"/><line x1="275.6" y1="413.2" x2="262.1" y2="424.3" stroke="#e0d84a" stroke-width="0.35" stroke-opacity="0.8"/><line x1="275.3" y1="412.9" x2="261.8" y2="424.6" stroke="#222222" stroke-width="0.35" stroke-opacity="0.8"/><line x1="275.6" y1="413.2" x2="262.1" y2="424.3" stroke="#c8c83a" stroke-width="0.35" stroke-opacity="0.8"/><line x1="275.0" y1="412.6" x2="287.7" y2="423.0" stroke="#9a62b0" stroke-width="0.35" stroke-opacity="0.8"/><line x1="275.0" y1="412.6" x2="287.7" y2="423.0" stroke="#7cc04a" stroke-width="0.35" stroke-opacity="0.8"/><line x1="275.7" y1="413.3" x2="288.4" y2="422.3" stroke="#4fb8d0" stroke-width="0.35" stroke-opacity="0.8"/><line x1="276.1" y1="413.7" x2="267.5" y2="438.8" stroke="#c8c83a" stroke-width="0.35" stroke-opacity="0.8"/><line x1="275.5" y1="413.1" x2="266.9" y2="439.4" stroke="#a0d060" stroke-width="0.35" stroke-opacity="0.8"/><line x1="275.8" y1="413.4" x2="267.2" y2="439.1" stroke="#333333" stroke-width="0.35" stroke-opacity="0.8"/><line x1="276.2" y1="413.8" x2="284.4" y2="438.7" stroke="#c060a8" stroke-width="0.35" stroke-opacity="0.8"/><line x1="275.0" y1="412.6" x2="283.2" y2="439.9" stroke="#c060a8" stroke-width="0.35" stroke-opacity="0.8"/><line x1="274.9" y1="412.5" x2="283.1" y2="440.0" stroke="#333333" stroke-width="0.35" stroke-opacity="0.8"/><line x1="262.2" y1="424.6" x2="288.4" y2="422.3" stroke="#a0d060" stroke-width="0.35" stroke-opacity="0.8"/><line x1="262.9" y1="425.3" x2="289.1" y2="421.6" stroke="#a0d060" stroke-width="0.35" stroke-opacity="0.8"/><line x1="261.6" y1="424.0" x2="287.8" y2="422.9" stroke="#c060a8" stroke-width="0.35" stroke-opacity="0.8"/><line x1="262.8" y1="425.2" x2="267.7" y2="438.6" stroke="#c8c83a" stroke-width="0.35" stroke-opacity="0.8"/><line x1="262.4" y1="424.8" x2="267.3" y2="439.0" stroke="#50a0c0" stroke-width="0.35" stroke-opacity="0.8"/><line x1="261.7" y1="424.1" x2="266.6" y2="439.7" stroke="#7cc04a" stroke-width="0.35" stroke-opacity="0.8"/><line x1="262.5" y1="424.9" x2="284.2" y2="438.9" stroke="#6a6ad0" stroke-width="0.35" stroke-opacity="0.8"/><line x1="261.6" y1="424.0" x2="283.3" y2="439.8" stroke="#50a0c0" stroke-width="0.35" stroke-opacity="0.8"/><line x1="262.9" y1="425.3" x2="284.6" y2="438.5" stroke="#4fb8d0" stroke-width="0.35" stroke-opacity="0.8"/><line x1="288.1" y1="422.4" x2="266.8" y2="439.5" stroke="#50a0c0" stroke-width="0.35" stroke-opacity="0.8"/><line x1="288.0" y1="422.3" x2="266.7" y2="439.6" stroke="#e0d84a" stroke-width="0.35" stroke-opacity="0.8"/><line x1="288.1" y1="422.4" x2="266.8" y2="439.5" stroke="#a0d060" stroke-width="0.35" stroke-opacity="0.8"/><line x1="287.7" y1="422.0" x2="283.2" y2="439.9" stroke="#a0d060" stroke-width="0.35" stroke-opacity="0.8"/><line x1="288.8" y1="423.1" x2="284.3" y2="438.8" stroke="#6a6ad0" stroke-width="0.35" stroke-opacity="0.8"/><line x1="287.4" y1="421.7" x2="282.9" y2="440.2" stroke="#9a62b0" stroke-width="0.35" stroke-opacity="0.8"/><line x1="266.4" y1="438.9" x2="283.2" y2="439.9" stroke="#3f8f4f" stroke-width="0.35" stroke-opacity="0.8"/><line x1="266.9" y1="439.4" x2="283.7" y2="439.4" stroke="#7cc04a" stroke-width="0.35" stroke-opacity="0.8"/><line x1="267.0" y1="439.5" x2="283.8" y2="439.3" stroke="#7cc04a" stroke-width="0.35" stroke-opacity="0.8"/><line x1="335.5" y1="397.4" x2="325.0" y2="411.9" stroke="#3f8f4f" stroke-width="0.35" stroke-opacity="0.8"/><line x1="336.2" y1="398.1" x2="325.7" y2="411.2" stroke="#50a0c0" stroke-width="0.35" stroke-opacity="0.8"/><line x1="335.4" y1="397.3" x2="324.9" y2="412.0" stroke="#6a6ad0" stroke-width="0.35" stroke-opacity="0.8"/><line x1="336.0" y1="397.9" x2="348.0" y2="411.4" stroke="#9a62b0" stroke-width="0.35" stroke-opacity="0.8"/><line x1="336.8" y1="398.7" x2="348.8" y2="410.6" stroke="#9a62b0" stroke-width="0.35" stroke-opacity="0.8"/><line x1="336.6" y1="398.5" x2="348.6" y2="410.8" stroke="#e0d84a" stroke-width="0.35" stroke-opacity="0.8"/><line x1="335.4" y1="397.3" x2="327.9" y2="427.0" stroke="#9a62b0" stroke-width="0.35" stroke-opacity="0.8"/><line x1="336.8" y1="398.7" x2="329.3" y2="425.6" stroke="#6a6ad0" stroke-width="0.35" stroke-opacity="0.8"/><line x1="336.4" y1="398.3" x2="328.9" y2="426.0" stroke="#e0d84a" stroke-width="0.35" stroke-opacity="0.8"/><line x1="335.7" y1="397.6" x2="345.1" y2="426.0" stroke="#e0d84a" stroke-width="0.35" stroke-opacity="0.8"/><line x1="335.9" y1="397.8" x2="345.3" y2="425.8" stroke="#e0d84a" stroke-width="0.35" stroke-opacity="0.8"/><line x1="336.1" y1="398.0" x2="345.5" y2="425.6" stroke="#e0d84a" stroke-width="0.35" stroke-opacity="0.8"/><line x1="326.1" y1="411.6" x2="348.6" y2="410.8" stroke="#7cc04a" stroke-width="0.35" stroke-opacity="0.8"/><line x1="325.6" y1="411.1" x2="348.1" y2="411.3" stroke="#9a62b0" stroke-width="0.35" stroke-opacity="0.8"/><line x1="325.6" y1="411.1" x2="348.1" y2="411.3" stroke="#3f8f4f" stroke-width="0.35" stroke-opacity="0.8"/><line x1="325.5" y1="411.0" x2="328.5" y2="426.4" stroke="#a0d060" stroke-width="0.35" stroke-opacity="0.8"/><line x1="326.4" y1="411.9" x2="329.4" y2="425.5" stroke="#e0d84a" stroke-width="0.35" stroke-opacity="0.8"/><line x1="325.6" y1="411.1" x2="328.6" y2="426.3" stroke="#7cc04a" stroke-width="0.35" stroke-opacity="0.8"/><line x1="325.3" y1="410.8" x2="345.2" y2="425.9" stroke="#3f8f4f" stroke-width="0.35" stroke-opacity="0.8"/><line x1="326.2" y1="411.7" x2="346.1" y2="425.0" stroke="#4fb8d0" stroke-width="0.35" stroke-opacity="0.8"/><line x1="326.4" y1="411.9" x2="346.3" y2="424.8" stroke="#4fb8d0" stroke-width="0.35" stroke-opacity="0.8"/><line x1="348.5" y1="411.5" x2="329.0" y2="425.9" stroke="#50a0c0" stroke-width="0.35" stroke-opacity="0.8"/><line x1="348.1" y1="411.1" x2="328.6" y2="426.3" stroke="#4fb8d0" stroke-width="0.35" stroke-opacity="0.8"/><line x1="348.1" y1="411.1" x2="328.6" y2="426.3" stroke="#7cc04a" stroke-width="0.35" stroke-opacity="0.8"/><line x1="348.1" y1="411.1" x2="345.5" y2="425.6" stroke="#333333" stroke-width="0.35" stroke-opacity="0.8"/><line x1="348.1" y1="411.1" x2="345.5" y2="425.6" stroke="#7cc04a" stroke-width="0.35" stroke-opacity="0.8"/><line x1="348.2" y1="411.2" x2="345.6" y2="425.5" stroke="#333333" stroke-width="0.35" stroke-opacity="0.8"/><line x1="329.2" y1="426.7" x2="346.1" y2="425.0" stroke="#c8c83a" stroke-width="0.35" stroke-opacity="0.8"/><line x1="328.2" y1="425.7" x2="345.1" y2="426.0" stroke="#50a0c0" stroke-width="0.35" stroke-opacity="0.8"/><line x1="328.4" y1="425.9" x2="345.3" y2="425.8" stroke="#c8c83a" stroke-width="0.35" stroke-opacity="0.8"/><line x1="392.8" y1="414.6" x2="406.0" y2="426.6" stroke="#3f8f4f" stroke-width="0.35" stroke-opacity="0.8"/><line x1="393.5" y1="415.3" x2="406.7" y2="425.9" stroke="#7cc04a" stroke-width="0.35" stroke-opacity="0.8"/><line x1="393.9" y1="415.7" x2="407.1" y2="425.5" stroke="#222222" stroke-width="0.35" stroke-opacity="0.8"/><line x1="393.9" y1="415.7" x2="382.7" y2="425.5" stroke="#4fb8d0" stroke-width="0.35" stroke-opacity="0.8"/><line x1="393.9" y1="415.7" x2="382.7" y2="425.5" stroke="#4fb8d0" stroke-width="0.35" stroke-opacity="0.8"/><line x1="392.5" y1="414.3" x2="381.3" y2="426.9" stroke="#c060a8" stroke-width="0.35" stroke-opacity="0.8"/><line x1="392.6" y1="414.4" x2="392.6" y2="437.3" stroke="#a0d060" stroke-width="0.35" stroke-opacity="0.8"/><line x1="392.8" y1="414.6" x2="392.8" y2="437.1" stroke="#c8c83a" stroke-width="0.35" stroke-opacity="0.8"/><line x1="393.8" y1="415.6" x2="393.8" y2="436.1" stroke="#a0d060" stroke-width="0.35" stroke-opacity="0.8"/><line x1="407.3" y1="427.1" x2="382.9" y2="425.3" stroke="#9a62b0" stroke-width="0.35" stroke-opacity="0.8"/><line x1="405.6" y1="425.4" x2="381.2" y2="427.0" stroke="#333333" stroke-width="0.35" stroke-opacity="0.8"/><line x1="406.2" y1="426.0" x2="381.8" y2="426.4" stroke="#222222" stroke-width="0.35" stroke-opacity="0.8"/><line x1="405.6" y1="425.4" x2="392.4" y2="437.5" stroke="#50a0c0" stroke-width="0.35" stroke-opacity="0.8"/><line x1="405.6" y1="425.4" x2="392.4" y2="437.5" stroke="#a0d060" stroke-width="0.35" stroke-opacity="0.8"/><line x1="406.6" y1="426.4" x2="393.4" y2="436.5" stroke="#222222" stroke-width="0.35" stroke-opacity="0.8"/><line x1="381.2" y1="425.4" x2="392.4" y2="437.5" stroke="#7cc04a" stroke-width="0.35" stroke-opacity="0.8"/><line x1="381.7" y1="425.9" x2="392.9" y2="437.0" stroke="#c8c83a" stroke-width="0.35" stroke-opacity="0.8"/><line x1="382.4" y1="426.6" x2="393.6" y2="436.3" stroke="#50a0c0" stroke-width="0.35" stroke-opacity="0.8"/><line x1="336.1" y1="446.0" x2="329.4" y2="469.5" stroke="#3f8f4f" stroke-width="0.35" stroke-opacity="0.8"/><line x1="336.6" y1="446.5" x2="329.9" y2="469.0" stroke="#333333" stroke-width="0.35" stroke-opacity="0.8"/><line x1="336.1" y1="446.0" x2="329.4" y2="469.5" stroke="#4fb8d0" stroke-width="0.35" stroke-opacity="0.8"/><line x1="336.8" y1="446.7" x2="345.5" y2="471.8" stroke="#9a62b0" stroke-width="0.35" stroke-opacity="0.8"/><line x1="336.5" y1="446.4" x2="345.2" y2="472.1" stroke="#3f8f4f" stroke-width="0.35" stroke-opacity="0.8"/><line x1="335.7" y1="445.6" x2="344.4" y2="472.9" stroke="#50a0c0" stroke-width="0.35" stroke-opacity="0.8"/><line x1="336.1" y1="446.0" x2="319.6" y2="483.7" stroke="#6a6ad0" stroke-width="0.35" stroke-opacity="0.8"/><line x1="335.5" y1="445.4" x2="319.0" y2="484.3" stroke="#c060a8" stroke-width="0.35" stroke-opacity="0.8"/><line x1="336.8" y1="446.7" x2="320.3" y2="483.0" stroke="#50a0c0" stroke-width="0.35" stroke-opacity="0.8"/><line x1="336.9" y1="446.8" x2="350.1" y2="485.5" stroke="#3f8f4f" stroke-width="0.35" stroke-opacity="0.8"/><line x1="335.5" y1="445.4" x2="348.7" y2="486.9" stroke="#3f8f4f" stroke-width="0.35" stroke-opacity="0.8"/><line x1="336.3" y1="446.2" x2="349.5" y2="486.1" stroke="#c060a8" stroke-width="0.35" stroke-opacity="0.8"/><line x1="336.0" y1="445.9" x2="324.8" y2="497.7" stroke="#3f8f4f" stroke-width="0.35" stroke-opacity="0.8"/><line x1="336.4" y1="446.3" x2="325.2" y2="497.3" stroke="#3f8f4f" stroke-width="0.35" stroke-opacity="0.8"/><line x1="335.8" y1="445.7" x2="324.6" y2="497.9" stroke="#e0d84a" stroke-width="0.35" stroke-opacity="0.8"/><line x1="336.0" y1="445.9" x2="340.5" y2="499.6" stroke="#333333" stroke-width="0.35" stroke-opacity="0.8"/><line x1="335.7" y1="445.6" x2="340.2" y2="499.9" stroke="#333333" stroke-width="0.35" stroke-opacity="0.8"/><line x1="335.3" y1="445.2" x2="339.8" y2="500.3" stroke="#3f8f4f" stroke-width="0.35" stroke-opacity="0.8"/><line x1="330.3" y1="470.2" x2="345.7" y2="471.6" stroke="#e0d84a" stroke-width="0.35" stroke-opacity="0.8"/><line x1="330.1" y1="470.0" x2="345.5" y2="471.8" stroke="#c060a8" stroke-width="0.35" stroke-opacity="0.8"/><line x1="330.4" y1="470.3" x2="345.8" y2="471.5" stroke="#4fb8d0" stroke-width="0.35" stroke-opacity="0.8"/><line x1="330.3" y1="470.2" x2="320.5" y2="482.8" stroke="#333333" stroke-width="0.35" stroke-opacity="0.8"/><line x1="328.8" y1="468.7" x2="319.0" y2="484.3" stroke="#c8c83a" stroke-width="0.35" stroke-opacity="0.8"/><line x1="329.5" y1="469.4" x2="319.7" y2="483.6" stroke="#e0d84a" stroke-width="0.35" stroke-opacity="0.8"/><line x1="329.2" y1="469.1" x2="349.1" y2="486.5" stroke="#50a0c0" stroke-width="0.35" stroke-opacity="0.8"/><line x1="329.1" y1="469.0" x2="349.0" y2="486.6" stroke="#333333" stroke-width="0.35" stroke-opacity="0.8"/><line x1="329.3" y1="469.2" x2="349.2" y2="486.4" stroke="#6a6ad0" stroke-width="0.35" stroke-opacity="0.8"/><line x1="330.1" y1="470.0" x2="325.6" y2="496.9" stroke="#9a62b0" stroke-width="0.35" stroke-opacity="0.8"/><line x1="329.5" y1="469.4" x2="325.0" y2="497.5" stroke="#9a62b0" stroke-width="0.35" stroke-opacity="0.8"/><line x1="329.7" y1="469.6" x2="325.2" y2="497.3" stroke="#50a0c0" stroke-width="0.35" stroke-opacity="0.8"/><line x1="328.6" y1="468.5" x2="339.8" y2="500.3" stroke="#a0d060" stroke-width="0.35" stroke-opacity="0.8"/><line x1="329.0" y1="468.9" x2="340.2" y2="499.9" stroke="#a0d060" stroke-width="0.35" stroke-opacity="0.8"/><line x1="329.1" y1="469.0" x2="340.3" y2="499.8" stroke="#222222" stroke-width="0.35" stroke-opacity="0.8"/><line x1="345.2" y1="472.7" x2="320.0" y2="483.3" stroke="#50a0c0" stroke-width="0.35" stroke-opacity="0.8"/><line x1="344.8" y1="472.3" x2="319.6" y2="483.7" stroke="#3f8f4f" stroke-width="0.35" stroke-opacity="0.8"/><line x1="344.7" y1="472.2" x2="319.5" y2="483.8" stroke="#7cc04a" stroke-width="0.35" stroke-opacity="0.8"/><line x1="345.0" y1="472.5" x2="349.5" y2="486.1" stroke="#6a6ad0" stroke-width="0.35" stroke-opacity="0.8"/><line x1="345.1" y1="472.6" x2="349.6" y2="486.0" stroke="#50a0c0" stroke-width="0.35" stroke-opacity="0.8"/><line x1="344.8" y1="472.3" x2="349.3" y2="486.3" stroke="#c8c83a" stroke-width="0.35" stroke-opacity="0.8"/><line x1="345.0" y1="472.5" x2="325.1" y2="497.4" stroke="#3f8f4f" stroke-width="0.35" stroke-opacity="0.8"/><line x1="345.2" y1="472.7" x2="325.3" y2="497.2" stroke="#e0d84a" stroke-width="0.35" stroke-opacity="0.8"/><line x1="345.5" y1="473.0" x2="325.6" y2="496.9" stroke="#333333" stroke-width="0.35" stroke-opacity="0.8"/><line x1="344.2" y1="471.7" x2="340.0" y2="500.1" stroke="#e0d84a" stroke-width="0.35" stroke-opacity="0.8"/><line x1="345.4" y1="472.9" x2="341.2" y2="498.9" stroke="#e0d84a" stroke-width="0.35" stroke-opacity="0.8"/><line x1="344.8" y1="472.3" x2="340.6" y2="499.5" stroke="#50a0c0" stroke-width="0.35" stroke-opacity="0.8"/><line x1="320.4" y1="484.3" x2="350.1" y2="485.5" stroke="#333333" stroke-width="0.35" stroke-opacity="0.8"/><line x1="319.9" y1="483.8" x2="349.6" y2="486.0" stroke="#222222" stroke-width="0.35" stroke-opacity="0.8"/><line x1="319.7" y1="483.6" x2="349.4" y2="486.2" stroke="#333333" stroke-width="0.35" stroke-opacity="0.8"/><line x1="319.5" y1="483.4" x2="324.8" y2="497.7" stroke="#4fb8d0" stroke-width="0.35" stroke-opacity="0.8"/><line x1="318.8" y1="482.7" x2="324.1" y2="498.4" stroke="#7cc04a" stroke-width="0.35" stroke-opacity="0.8"/><line x1="320.1" y1="484.0" x2="325.4" y2="497.1" stroke="#c8c83a" stroke-width="0.35" stroke-opacity="0.8"/><line x1="320.2" y1="484.1" x2="341.2" y2="498.9" stroke="#6a6ad0" stroke-width="0.35" stroke-opacity="0.8"/><line x1="319.1" y1="483.0" x2="340.1" y2="500.0" stroke="#333333" stroke-width="0.35" stroke-opacity="0.8"/><line x1="319.7" y1="483.6" x2="340.7" y2="499.4" stroke="#c8c83a" stroke-width="0.35" stroke-opacity="0.8"/><line x1="349.6" y1="486.4" x2="325.2" y2="497.3" stroke="#333333" stroke-width="0.35" stroke-opacity="0.8"/><line x1="348.8" y1="485.6" x2="324.4" y2="498.1" stroke="#50a0c0" stroke-width="0.35" stroke-opacity="0.8"/><line x1="349.3" y1="486.1" x2="324.9" y2="497.6" stroke="#333333" stroke-width="0.35" stroke-opacity="0.8"/><line x1="349.1" y1="485.9" x2="340.4" y2="499.7" stroke="#c060a8" stroke-width="0.35" stroke-opacity="0.8"/><line x1="348.5" y1="485.3" x2="339.8" y2="500.3" stroke="#7cc04a" stroke-width="0.35" stroke-opacity="0.8"/><line x1="350.2" y1="487.0" x2="341.5" y2="498.6" stroke="#333333" stroke-width="0.35" stroke-opacity="0.8"/><line x1="324.5" y1="497.0" x2="340.2" y2="499.9" stroke="#4fb8d0" stroke-width="0.35" stroke-opacity="0.8"/><line x1="325.0" y1="497.5" x2="340.7" y2="499.4" stroke="#222222" stroke-width="0.35" stroke-opacity="0.8"/><line x1="324.9" y1="497.4" x2="340.6" y2="499.5" stroke="#c8c83a" stroke-width="0.35" stroke-opacity="0.8"/><line x1="252.5" y1="498.9" x2="268.2" y2="498.7" stroke="#333333" stroke-width="0.35" stroke-opacity="0.8"/><line x1="252.2" y1="498.6" x2="267.9" y2="499.0" stroke="#6a6ad0" stroke-width="0.35" stroke-opacity="0.8"/><line x1="253.7" y1="500.1" x2="269.4" y2="497.5" stroke="#c8c83a" stroke-width="0.35" stroke-opacity="0.8"/><line x1="252.2" y1="498.6" x2="238.7" y2="510.3" stroke="#333333" stroke-width="0.35" stroke-opacity="0.8"/><line x1="253.1" y1="499.5" x2="239.6" y2="509.4" stroke="#3f8f4f" stroke-width="0.35" stroke-opacity="0.8"/><line x1="253.6" y1="500.0" x2="240.1" y2="508.9" stroke="#9a62b0" stroke-width="0.35" stroke-opacity="0.8"/><line x1="252.3" y1="498.7" x2="254.9" y2="518.8" stroke="#4fb8d0" stroke-width="0.35" stroke-opacity="0.8"/><line x1="252.2" y1="498.6" x2="254.8" y2="518.9" stroke="#3f8f4f" stroke-width="0.35" stroke-opacity="0.8"/><line x1="253.1" y1="499.5" x2="255.7" y2="518.0" stroke="#7cc04a" stroke-width="0.35" stroke-opacity="0.8"/><line x1="253.2" y1="499.6" x2="283.9" y2="507.8" stroke="#7cc04a" stroke-width="0.35" stroke-opacity="0.8"/><line x1="253.6" y1="500.0" x2="284.3" y2="507.4" stroke="#222222" stroke-width="0.35" stroke-opacity="0.8"/><line x1="252.7" y1="499.1" x2="283.4" y2="508.3" stroke="#7cc04a" stroke-width="0.35" stroke-opacity="0.8"/><line x1="252.7" y1="499.1" x2="236.6" y2="524.8" stroke="#c8c83a" stroke-width="0.35" stroke-opacity="0.8"/><line x1="253.2" y1="499.6" x2="237.1" y2="524.3" stroke="#a0d060" stroke-width="0.35" stroke-opacity="0.8"/><line x1="252.7" y1="499.1" x2="236.6" y2="524.8" stroke="#50a0c0" stroke-width="0.35" stroke-opacity="0.8"/><line x1="253.7" y1="500.1" x2="273.2" y2="526.0" stroke="#333333" stroke-width="0.35" stroke-opacity="0.8"/><line x1="252.6" y1="499.0" x2="272.1" y2="527.1" stroke="#4fb8d0" stroke-width="0.35" stroke-opacity="0.8"/><line x1="252.9" y1="499.3" x2="272.4" y2="526.8" stroke="#50a0c0" stroke-width="0.35" stroke-opacity="0.8"/><line x1="252.7" y1="499.1" x2="287.2" y2="524.8" stroke="#e0d84a" stroke-width="0.35" stroke-opacity="0.8"/><line x1="253.5" y1="499.9" x2="288.0" y2="524.0" stroke="#3f8f4f" stroke-width="0.35" stroke-opacity="0.8"/><line x1="252.5" y1="498.9" x2="287.0" y2="525.0" stroke="#50a0c0" stroke-width="0.35" stroke-opacity="0.8"/><line x1="252.4" y1="498.8" x2="250.1" y2="537.5" stroke="#7cc04a" stroke-width="0.35" stroke-opacity="0.8"/><line x1="253.4" y1="499.8" x2="251.1" y2="536.5" stroke="#50a0c0" stroke-width="0.35" stroke-opacity="0.8"/><line x1="253.8" y1="500.2" x2="251.5" y2="536.1" stroke="#a0d060" stroke-width="0.35" stroke-opacity="0.8"/><line x1="253.3" y1="499.7" x2="267.2" y2="540.3" stroke="#e0d84a" stroke-width="0.35" stroke-opacity="0.8"/><line x1="253.4" y1="499.8" x2="267.3" y2="540.2" stroke="#c8c83a" stroke-width="0.35" stroke-opacity="0.8"/><line x1="252.5" y1="498.9" x2="266.4" y2="541.1" stroke="#9a62b0" stroke-width="0.35" stroke-opacity="0.8"/><line x1="253.9" y1="500.3" x2="235.9" y2="538.6" stroke="#333333" stroke-width="0.35" stroke-opacity="0.8"/><line x1="253.5" y1="499.9" x2="235.5" y2="539.0" stroke="#50a0c0" stroke-width="0.35" stroke-opacity="0.8"/><line x1="253.4" y1="499.8" x2="235.4" y2="539.1" stroke="#50a0c0" stroke-width="0.35" stroke-opacity="0.8"/><line x1="252.3" y1="498.7" x2="287.5" y2="540.2" stroke="#222222" stroke-width="0.35" stroke-opacity="0.8"/><line x1="252.7" y1="499.1" x2="287.9" y2="539.8" stroke="#9a62b0" stroke-width="0.35" stroke-opacity="0.8"/><line x1="252.3" y1="498.7" x2="287.5" y2="540.2" stroke="#a0d060" stroke-width="0.35" stroke-opacity="0.8"/><line x1="252.8" y1="499.2" x2="246.8" y2="552.1" stroke="#3f8f4f" stroke-width="0.35" stroke-opacity="0.8"/><line x1="253.3" y1="499.7" x2="247.3" y2="551.6" stroke="#e0d84a" stroke-width="0.35" stroke-opacity="0.8"/><line x1="253.9" y1="500.3" x2="247.9" y2="551.0" stroke="#4fb8d0" stroke-width="0.35" stroke-opacity="0.8"/><line x1="252.6" y1="499.0" x2="263.8" y2="557.1" stroke="#3f8f4f" stroke-width="0.35" stroke-opacity="0.8"/><line x1="252.7" y1="499.1" x2="263.9" y2="557.0" stroke="#a0d060" stroke-width="0.35" stroke-opacity="0.8"/><line x1="253.5" y1="499.9" x2="264.7" y2="556.2" stroke="#c8c83a" stroke-width="0.35" stroke-opacity="0.8"/><line x1="252.9" y1="499.3" x2="281.8" y2="553.8" stroke="#9a62b0" stroke-width="0.35" stroke-opacity="0.8"/><line x1="253.8" y1="500.2" x2="282.7" y2="552.9" stroke="#7cc04a" stroke-width="0.35" stroke-opacity="0.8"/><line x1="253.0" y1="499.4" x2="281.9" y2="553.7" stroke="#222222" stroke-width="0.35" stroke-opacity="0.8"/><line x1="269.3" y1="498.8" x2="240.1" y2="508.9" stroke="#a0d060" stroke-width="0.35" stroke-opacity="0.8"/><line x1="269.4" y1="498.9" x2="240.2" y2="508.8" stroke="#7cc04a" stroke-width="0.35" stroke-opacity="0.8"/><line x1="268.4" y1="497.9" x2="239.2" y2="509.8" stroke="#6a6ad0" stroke-width="0.35" stroke-opacity="0.8"/><line x1="269.6" y1="499.1" x2="256.5" y2="517.2" stroke="#3f8f4f" stroke-width="0.35" stroke-opacity="0.8"/><line x1="269.3" y1="498.8" x2="256.2" y2="517.5" stroke="#333333" stroke-width="0.35" stroke-opacity="0.8"/><line x1="267.9" y1="497.4" x2="254.8" y2="518.9" stroke="#7cc04a" stroke-width="0.35" stroke-opacity="0.8"/><line x1="268.1" y1="497.6" x2="283.1" y2="508.6" stroke="#c8c83a" stroke-width="0.35" stroke-opacity="0.8"/><line x1="269.0" y1="498.5" x2="284.0" y2="507.7" stroke="#222222" stroke-width="0.35" stroke-opacity="0.8"/><line x1="269.3" y1="498.8" x2="284.3" y2="507.4" stroke="#4fb8d0" stroke-width="0.35" stroke-opacity="0.8"/><line x1="268.6" y1="498.1" x2="236.8" y2="524.6" stroke="#7cc04a" stroke-width="0.35" stroke-opacity="0.8"/><line x1="269.3" y1="498.8" x2="237.5" y2="523.9" stroke="#7cc04a" stroke-width="0.35" stroke-opacity="0.8"/><line x1="268.7" y1="498.2" x2="236.9" y2="524.5" stroke="#4fb8d0" stroke-width="0.35" stroke-opacity="0.8"/><line x1="268.5" y1="498.0" x2="272.3" y2="526.9" stroke="#50a0c0" stroke-width="0.35" stroke-opacity="0.8"/><line x1="268.7" y1="498.2" x2="272.5" y2="526.7" stroke="#3f8f4f" stroke-width="0.35" stroke-opacity="0.8"/><line x1="268.8" y1="498.3" x2="272.6" y2="526.6" stroke="#e0d84a" stroke-width="0.35" stroke-opacity="0.8"/><line x1="268.9" y1="498.4" x2="287.7" y2="524.3" stroke="#3f8f4f" stroke-width="0.35" stroke-opacity="0.8"/><line x1="267.8" y1="497.3" x2="286.6" y2="525.4" stroke="#9a62b0" stroke-width="0.35" stroke-opacity="0.8"/><line x1="268.0" y1="497.5" x2="286.8" y2="525.2" stroke="#c8c83a" stroke-width="0.35" stroke-opacity="0.8"/><line x1="268.1" y1="497.6" x2="250.1" y2="537.5" stroke="#6a6ad0" stroke-width="0.35" stroke-opacity="0.8"/><line x1="269.3" y1="498.8" x2="251.3" y2="536.3" stroke="#e0d84a" stroke-width="0.35" stroke-opacity="0.8"/><line x1="268.3" y1="497.8" x2="250.3" y2="537.3" stroke="#e0d84a" stroke-width="0.35" stroke-opacity="0.8"/><line x1="268.4" y1="497.9" x2="266.6" y2="540.9" stroke="#9a62b0" stroke-width="0.35" stroke-opacity="0.8"/><line x1="268.4" y1="497.9" x2="266.6" y2="540.9" stroke="#6a6ad0" stroke-width="0.35" stroke-opacity="0.8"/><line x1="268.7" y1="498.2" x2="266.9" y2="540.6" stroke="#7cc04a" stroke-width="0.35" stroke-opacity="0.8"/><line x1="268.1" y1="497.6" x2="234.4" y2="540.1" stroke="#a0d060" stroke-width="0.35" stroke-opacity="0.8"/><line x1="268.8" y1="498.3" x2="235.1" y2="539.4" stroke="#a0d060" stroke-width="0.35" stroke-opacity="0.8"/><line x1="269.5" y1="499.0" x2="235.8" y2="538.7" stroke="#222222" stroke-width="0.35" stroke-opacity="0.8"/><line x1="268.4" y1="497.9" x2="287.9" y2="539.8" stroke="#c8c83a" stroke-width="0.35" stroke-opacity="0.8"/><line x1="269.0" y1="498.5" x2="288.5" y2="539.2" stroke="#333333" stroke-width="0.35" stroke-opacity="0.8"/><line x1="268.2" y1="497.7" x2="287.7" y2="540.0" stroke="#6a6ad0" stroke-width="0.35" stroke-opacity="0.8"/><line x1="268.0" y1="497.5" x2="246.3" y2="552.6" stroke="#9a62b0" stroke-width="0.35" stroke-opacity="0.8"/><line x1="268.7" y1="498.2" x2="247.0" y2="551.9" stroke="#4fb8d0" stroke-width="0.35" stroke-opacity="0.8"/><line x1="269.1" y1="498.6" x2="247.4" y2="551.5" stroke="#9a62b0" stroke-width="0.35" stroke-opacity="0.8"/><line x1="269.5" y1="499.0" x2="265.0" y2="555.9" stroke="#a0d060" stroke-width="0.35" stroke-opacity="0.8"/><line x1="269.6" y1="499.1" x2="265.1" y2="555.8" stroke="#6a6ad0" stroke-width="0.35" stroke-opacity="0.8"/><line x1="268.1" y1="497.6" x2="263.6" y2="557.3" stroke="#c8c83a" stroke-width="0.35" stroke-opacity="0.8"/><line x1="268.6" y1="498.1" x2="281.8" y2="553.8" stroke="#7cc04a" stroke-width="0.35" stroke-opacity="0.8"/><line x1="267.8" y1="497.3" x2="281.0" y2="554.6" stroke="#7cc04a" stroke-width="0.35" stroke-opacity="0.8"/><line x1="268.4" y1="497.9" x2="281.6" y2="554.0" stroke="#7cc04a" stroke-width="0.35" stroke-opacity="0.8"/><line x1="240.1" y1="510.1" x2="256.2" y2="517.5" stroke="#c8c83a" stroke-width="0.35" stroke-opacity="0.8"/><line x1="239.3" y1="509.3" x2="255.4" y2="518.3" stroke="#e0d84a" stroke-width="0.35" stroke-opacity="0.8"/><line x1="239.6" y1="509.6" x2="255.7" y2="518.0" stroke="#6a6ad0" stroke-width="0.35" stroke-opacity="0.8"/><line x1="238.7" y1="508.7" x2="282.9" y2="508.8" stroke="#7cc04a" stroke-width="0.35" stroke-opacity="0.8"/><line x1="240.4" y1="510.4" x2="284.6" y2="507.1" stroke="#333333" stroke-width="0.35" stroke-opacity="0.8"/><line x1="239.8" y1="509.8" x2="284.0" y2="507.7" stroke="#50a0c0" stroke-width="0.35" stroke-opacity="0.8"/><line x1="239.8" y1="509.8" x2="237.2" y2="524.2" stroke="#9a62b0" stroke-width="0.35" stroke-opacity="0.8"/><line x1="239.6" y1="509.6" x2="237.0" y2="524.4" stroke="#4fb8d0" stroke-width="0.35" stroke-opacity="0.8"/><line x1="239.0" y1="509.0" x2="236.4" y2="525.0" stroke="#7cc04a" stroke-width="0.35" stroke-opacity="0.8"/><line x1="238.7" y1="508.7" x2="271.7" y2="527.5" stroke="#9a62b0" stroke-width="0.35" stroke-opacity="0.8"/><line x1="238.6" y1="508.6" x2="271.6" y2="527.6" stroke="#333333" stroke-width="0.35" stroke-opacity="0.8"/><line x1="239.1" y1="509.1" x2="272.1" y2="527.1" stroke="#9a62b0" stroke-width="0.35" stroke-opacity="0.8"/><line x1="239.0" y1="509.0" x2="287.0" y2="525.0" stroke="#6a6ad0" stroke-width="0.35" stroke-opacity="0.8"/><line x1="240.1" y1="510.1" x2="288.1" y2="523.9" stroke="#222222" stroke-width="0.35" stroke-opacity="0.8"/><line x1="238.8" y1="508.8" x2="286.8" y2="525.2" stroke="#222222" stroke-width="0.35" stroke-opacity="0.8"/><line x1="238.9" y1="508.9" x2="250.1" y2="537.5" stroke="#4fb8d0" stroke-width="0.35" stroke-opacity="0.8"/><line x1="239.3" y1="509.3" x2="250.5" y2="537.1" stroke="#3f8f4f" stroke-width="0.35" stroke-opacity="0.8"/><line x1="239.3" y1="509.3" x2="250.5" y2="537.1" stroke="#50a0c0" stroke-width="0.35" stroke-opacity="0.8"/><line x1="239.5" y1="509.5" x2="266.9" y2="540.6" stroke="#3f8f4f" stroke-width="0.35" stroke-opacity="0.8"/><line x1="239.3" y1="509.3" x2="266.7" y2="540.8" stroke="#4fb8d0" stroke-width="0.35" stroke-opacity="0.8"/><line x1="238.7" y1="508.7" x2="266.1" y2="541.4" stroke="#c060a8" stroke-width="0.35" stroke-opacity="0.8"/><line x1="239.5" y1="509.5" x2="235.0" y2="539.5" stroke="#9a62b0" stroke-width="0.35" stroke-opacity="0.8"/><line x1="240.0" y1="510.0" x2="235.5" y2="539.0" stroke="#a0d060" stroke-width="0.35" stroke-opacity="0.8"/><line x1="238.6" y1="508.6" x2="234.1" y2="540.4" stroke="#4fb8d0" stroke-width="0.35" stroke-opacity="0.8"/><line x1="239.3" y1="509.3" x2="288.0" y2="539.7" stroke="#4fb8d0" stroke-width="0.35" stroke-opacity="0.8"/><line x1="239.1" y1="509.1" x2="287.8" y2="539.9" stroke="#e0d84a" stroke-width="0.35" stroke-opacity="0.8"/><line x1="238.7" y1="508.7" x2="287.4" y2="540.3" stroke="#6a6ad0" stroke-width="0.35" stroke-opacity="0.8"/><line x1="239.8" y1="509.8" x2="247.3" y2="551.6" stroke="#4fb8d0" stroke-width="0.35" stroke-opacity="0.8"/><line x1="239.0" y1="509.0" x2="246.5" y2="552.4" stroke="#4fb8d0" stroke-width="0.35" stroke-opacity="0.8"/><line x1="240.0" y1="510.0" x2="247.5" y2="551.4" stroke="#c8c83a" stroke-width="0.35" stroke-opacity="0.8"/><line x1="239.6" y1="509.6" x2="264.3" y2="556.6" stroke="#c060a8" stroke-width="0.35" stroke-opacity="0.8"/><line x1="240.3" y1="510.3" x2="265.0" y2="555.9" stroke="#a0d060" stroke-width="0.35" stroke-opacity="0.8"/><line x1="239.1" y1="509.1" x2="263.8" y2="557.1" stroke="#9a62b0" stroke-width="0.35" stroke-opacity="0.8"/><line x1="239.8" y1="509.8" x2="282.2" y2="553.4" stroke="#9a62b0" stroke-width="0.35" stroke-opacity="0.8"/><line x1="240.0" y1="510.0" x2="282.4" y2="553.2" stroke="#6a6ad0" stroke-width="0.35" stroke-opacity="0.8"/><line x1="239.7" y1="509.7" x2="282.1" y2="553.5" stroke="#c060a8" stroke-width="0.35" stroke-opacity="0.8"/><line x1="254.7" y1="517.2" x2="282.8" y2="508.9" stroke="#4fb8d0" stroke-width="0.35" stroke-opacity="0.8"/><line x1="256.0" y1="518.5" x2="284.1" y2="507.6" stroke="#50a0c0" stroke-width="0.35" stroke-opacity="0.8"/><line x1="256.1" y1="518.6" x2="284.2" y2="507.5" stroke="#3f8f4f" stroke-width="0.35" stroke-opacity="0.8"/><line x1="255.2" y1="517.7" x2="236.5" y2="524.9" stroke="#6a6ad0" stroke-width="0.35" stroke-opacity="0.8"/><line x1="255.4" y1="517.9" x2="236.7" y2="524.7" stroke="#e0d84a" stroke-width="0.35" stroke-opacity="0.8"/><line x1="255.8" y1="518.3" x2="237.1" y2="524.3" stroke="#222222" stroke-width="0.35" stroke-opacity="0.8"/><line x1="255.5" y1="518.0" x2="272.4" y2="526.8" stroke="#6a6ad0" stroke-width="0.35" stroke-opacity="0.8"/><line x1="255.1" y1="517.6" x2="272.0" y2="527.2" stroke="#6a6ad0" stroke-width="0.35" stroke-opacity="0.8"/><line x1="256.3" y1="518.8" x2="273.2" y2="526.0" stroke="#a0d060" stroke-width="0.35" stroke-opacity="0.8"/><line x1="255.0" y1="517.5" x2="286.9" y2="525.1" stroke="#6a6ad0" stroke-width="0.35" stroke-opacity="0.8"/><line x1="255.9" y1="518.4" x2="287.8" y2="524.2" stroke="#3f8f4f" stroke-width="0.35" stroke-opacity="0.8"/><line x1="256.2" y1="518.7" x2="288.1" y2="523.9" stroke="#333333" stroke-width="0.35" stroke-opacity="0.8"/><line x1="256.2" y1="518.7" x2="251.3" y2="536.3" stroke="#c060a8" stroke-width="0.35" stroke-opacity="0.8"/><line x1="255.6" y1="518.1" x2="250.7" y2="536.9" stroke="#9a62b0" stroke-width="0.35" stroke-opacity="0.8"/><line x1="255.6" y1="518.1" x2="250.7" y2="536.9" stroke="#7cc04a" stroke-width="0.35" stroke-opacity="0.8"/><line x1="255.7" y1="518.2" x2="267.0" y2="540.5" stroke="#6a6ad0" stroke-width="0.35" stroke-opacity="0.8"/><line x1="255.2" y1="517.7" x2="266.5" y2="541.0" stroke="#c060a8" stroke-width="0.35" stroke-opacity="0.8"/><line x1="255.1" y1="517.6" x2="266.4" y2="541.1" stroke="#c060a8" stroke-width="0.35" stroke-opacity="0.8"/><line x1="255.0" y1="517.5" x2="234.4" y2="540.1" stroke="#a0d060" stroke-width="0.35" stroke-opacity="0.8"/><line x1="255.5" y1="518.0" x2="234.9" y2="539.6" stroke="#50a0c0" stroke-width="0.35" stroke-opacity="0.8"/><line x1="255.0" y1="517.5" x2="234.4" y2="540.1" stroke="#e0d84a" stroke-width="0.35" stroke-opacity="0.8"/><line x1="254.7" y1="517.2" x2="287.3" y2="540.4" stroke="#9a62b0" stroke-width="0.35" stroke-opacity="0.8"/><line x1="256.4" y1="518.9" x2="289.0" y2="538.7" stroke="#222222" stroke-width="0.35" stroke-opacity="0.8"/><line x1="255.9" y1="518.4" x2="288.5" y2="539.2" stroke="#4fb8d0" stroke-width="0.35" stroke-opacity="0.8"/><line x1="255.3" y1="517.8" x2="246.7" y2="552.2" stroke="#333333" stroke-width="0.35" stroke-opacity="0.8"/><line x1="256.3" y1="518.8" x2="247.7" y2="551.2" stroke="#4fb8d0" stroke-width="0.35" stroke-opacity="0.8"/><line x1="255.1" y1="517.6" x2="246.5" y2="552.4" stroke="#3f8f4f" stroke-width="0.35" stroke-opacity="0.8"/><line x1="255.4" y1="517.9" x2="264.0" y2="556.9" stroke="#333333" stroke-width="0.35" stroke-opacity="0.8"/><line x1="256.5" y1="519.0" x2="265.1" y2="555.8" stroke="#e0d84a" stroke-width="0.35" stroke-opacity="0.8"/><line x1="256.2" y1="518.7" x2="264.8" y2="556.1" stroke="#9a62b0" stroke-width="0.35" stroke-opacity="0.8"/><line x1="255.6" y1="518.1" x2="281.9" y2="553.7" stroke="#50a0c0" stroke-width="0.35" stroke-opacity="0.8"/><line x1="256.5" y1="519.0" x2="282.8" y2="552.8" stroke="#7cc04a" stroke-width="0.35" stroke-opacity="0.8"/><line x1="255.4" y1="517.9" x2="281.7" y2="553.9" stroke="#6a6ad0" stroke-width="0.35" stroke-opacity="0.8"/><line x1="284.0" y1="508.3" x2="237.2" y2="524.2" stroke="#3f8f4f" stroke-width="0.35" stroke-opacity="0.8"/><line x1="283.1" y1="507.4" x2="236.3" y2="525.1" stroke="#333333" stroke-width="0.35" stroke-opacity="0.8"/><line x1="283.9" y1="508.2" x2="237.1" y2="524.3" stroke="#333333" stroke-width="0.35" stroke-opacity="0.8"/><line x1="283.2" y1="507.5" x2="272.0" y2="527.2" stroke="#e0d84a" stroke-width="0.35" stroke-opacity="0.8"/><line x1="283.4" y1="507.7" x2="272.2" y2="527.0" stroke="#e0d84a" stroke-width="0.35" stroke-opacity="0.8"/><line x1="284.0" y1="508.3" x2="272.8" y2="526.4" stroke="#9a62b0" stroke-width="0.35" stroke-opacity="0.8"/><line x1="283.9" y1="508.2" x2="287.7" y2="524.3" stroke="#4fb8d0" stroke-width="0.35" stroke-opacity="0.8"/><line x1="283.1" y1="507.4" x2="286.9" y2="525.1" stroke="#4fb8d0" stroke-width="0.35" stroke-opacity="0.8"/><line x1="282.8" y1="507.1" x2="286.6" y2="525.4" stroke="#c8c83a" stroke-width="0.35" stroke-opacity="0.8"/><line x1="284.4" y1="508.7" x2="251.4" y2="536.2" stroke="#4fb8d0" stroke-width="0.35" stroke-opacity="0.8"/><line x1="284.4" y1="508.7" x2="251.4" y2="536.2" stroke="#e0d84a" stroke-width="0.35" stroke-opacity="0.8"/><line x1="283.2" y1="507.5" x2="250.2" y2="537.4" stroke="#333333" stroke-width="0.35" stroke-opacity="0.8"/><line x1="282.9" y1="507.2" x2="266.1" y2="541.4" stroke="#222222" stroke-width="0.35" stroke-opacity="0.8"/><line x1="283.4" y1="507.7" x2="266.6" y2="540.9" stroke="#a0d060" stroke-width="0.35" stroke-opacity="0.8"/><line x1="283.6" y1="507.9" x2="266.8" y2="540.7" stroke="#6a6ad0" stroke-width="0.35" stroke-opacity="0.8"/><line x1="283.0" y1="507.3" x2="234.3" y2="540.2" stroke="#4fb8d0" stroke-width="0.35" stroke-opacity="0.8"/><line x1="282.9" y1="507.2" x2="234.2" y2="540.3" stroke="#e0d84a" stroke-width="0.35" stroke-opacity="0.8"/><line x1="282.8" y1="507.1" x2="234.1" y2="540.4" stroke="#c060a8" stroke-width="0.35" stroke-opacity="0.8"/><line x1="282.8" y1="507.1" x2="287.3" y2="540.4" stroke="#4fb8d0" stroke-width="0.35" stroke-opacity="0.8"/><line x1="283.3" y1="507.6" x2="287.8" y2="539.9" stroke="#6a6ad0" stroke-width="0.35" stroke-opacity="0.8"/><line x1="283.9" y1="508.2" x2="288.4" y2="539.3" stroke="#e0d84a" stroke-width="0.35" stroke-opacity="0.8"/><line x1="284.0" y1="508.3" x2="247.3" y2="551.6" stroke="#333333" stroke-width="0.35" stroke-opacity="0.8"/><line x1="284.5" y1="508.8" x2="247.8" y2="551.1" stroke="#6a6ad0" stroke-width="0.35" stroke-opacity="0.8"/><line x1="283.9" y1="508.2" x2="247.2" y2="551.7" stroke="#333333" stroke-width="0.35" stroke-opacity="0.8"/><line x1="283.2" y1="507.5" x2="263.7" y2="557.2" stroke="#6a6ad0" stroke-width="0.35" stroke-opacity="0.8"/><line x1="283.2" y1="507.5" x2="263.7" y2="557.2" stroke="#a0d060" stroke-width="0.35" stroke-opacity="0.8"/><line x1="284.1" y1="508.4" x2="264.6" y2="556.3" stroke="#4fb8d0" stroke-width="0.35" stroke-opacity="0.8"/><line x1="283.6" y1="507.9" x2="281.8" y2="553.8" stroke="#222222" stroke-width="0.35" stroke-opacity="0.8"/><line x1="284.1" y1="508.4" x2="282.3" y2="553.3" stroke="#6a6ad0" stroke-width="0.35" stroke-opacity="0.8"/><line x1="284.6" y1="508.9" x2="282.8" y2="552.8" stroke="#333333" stroke-width="0.35" stroke-opacity="0.8"/><line x1="236.0" y1="523.6" x2="271.6" y2="527.6" stroke="#e0d84a" stroke-width="0.35" stroke-opacity="0.8"/><line x1="237.1" y1="524.7" x2="272.7" y2="526.5" stroke="#e0d84a" stroke-width="0.35" stroke-opacity="0.8"/><line x1="237.4" y1="525.0" x2="273.0" y2="526.2" stroke="#e0d84a" stroke-width="0.35" stroke-opacity="0.8"/><line x1="237.1" y1="524.7" x2="287.7" y2="524.3" stroke="#333333" stroke-width="0.35" stroke-opacity="0.8"/><line x1="236.7" y1="524.3" x2="287.3" y2="524.7" stroke="#c8c83a" stroke-width="0.35" stroke-opacity="0.8"/><line x1="237.7" y1="525.3" x2="288.3" y2="523.7" stroke="#3f8f4f" stroke-width="0.35" stroke-opacity="0.8"/><line x1="237.7" y1="525.3" x2="251.5" y2="536.1" stroke="#333333" stroke-width="0.35" stroke-opacity="0.8"/><line x1="236.2" y1="523.8" x2="250.0" y2="537.6" stroke="#9a62b0" stroke-width="0.35" stroke-opacity="0.8"/><line x1="237.4" y1="525.0" x2="251.2" y2="536.4" stroke="#222222" stroke-width="0.35" stroke-opacity="0.8"/><line x1="236.5" y1="524.1" x2="266.5" y2="541.0" stroke="#333333" stroke-width="0.35" stroke-opacity="0.8"/><line x1="236.7" y1="524.3" x2="266.7" y2="540.8" stroke="#6a6ad0" stroke-width="0.35" stroke-opacity="0.8"/><line x1="237.3" y1="524.9" x2="267.3" y2="540.2" stroke="#3f8f4f" stroke-width="0.35" stroke-opacity="0.8"/><line x1="236.4" y1="524.0" x2="234.5" y2="540.0" stroke="#a0d060" stroke-width="0.35" stroke-opacity="0.8"/><line x1="236.0" y1="523.6" x2="234.1" y2="540.4" stroke="#e0d84a" stroke-width="0.35" stroke-opacity="0.8"/><line x1="236.3" y1="523.9" x2="234.4" y2="540.1" stroke="#222222" stroke-width="0.35" stroke-opacity="0.8"/><line x1="236.1" y1="523.7" x2="287.4" y2="540.3" stroke="#c060a8" stroke-width="0.35" stroke-opacity="0.8"/><line x1="236.3" y1="523.9" x2="287.6" y2="540.1" stroke="#e0d84a" stroke-width="0.35" stroke-opacity="0.8"/><line x1="237.6" y1="525.2" x2="288.9" y2="538.8" stroke="#c060a8" stroke-width="0.35" stroke-opacity="0.8"/><line x1="236.4" y1="524.0" x2="246.5" y2="552.4" stroke="#6a6ad0" stroke-width="0.35" stroke-opacity="0.8"/><line x1="237.5" y1="525.1" x2="247.6" y2="551.3" stroke="#7cc04a" stroke-width="0.35" stroke-opacity="0.8"/><line x1="236.9" y1="524.5" x2="247.0" y2="551.9" stroke="#222222" stroke-width="0.35" stroke-opacity="0.8"/><line x1="236.1" y1="523.7" x2="263.4" y2="557.5" stroke="#333333" stroke-width="0.35" stroke-opacity="0.8"/><line x1="237.5" y1="525.1" x2="264.8" y2="556.1" stroke="#3f8f4f" stroke-width="0.35" stroke-opacity="0.8"/><line x1="236.0" y1="523.6" x2="263.3" y2="557.6" stroke="#c8c83a" stroke-width="0.35" stroke-opacity="0.8"/><line x1="237.4" y1="525.0" x2="282.4" y2="553.2" stroke="#222222" stroke-width="0.35" stroke-opacity="0.8"/><line x1="237.4" y1="525.0" x2="282.4" y2="553.2" stroke="#4fb8d0" stroke-width="0.35" stroke-opacity="0.8"/><line x1="237.4" y1="525.0" x2="282.4" y2="553.2" stroke="#6a6ad0" stroke-width="0.35" stroke-opacity="0.8"/><line x1="272.2" y1="526.4" x2="287.2" y2="524.8" stroke="#7cc04a" stroke-width="0.35" stroke-opacity="0.8"/><line x1="272.6" y1="526.8" x2="287.6" y2="524.4" stroke="#50a0c0" stroke-width="0.35" stroke-opacity="0.8"/><line x1="272.0" y1="526.2" x2="287.0" y2="525.0" stroke="#4fb8d0" stroke-width="0.35" stroke-opacity="0.8"/><line x1="272.5" y1="526.7" x2="250.7" y2="536.9" stroke="#333333" stroke-width="0.35" stroke-opacity="0.8"/><line x1="273.1" y1="527.3" x2="251.3" y2="536.3" stroke="#6a6ad0" stroke-width="0.35" stroke-opacity="0.8"/><line x1="273.3" y1="527.5" x2="251.5" y2="536.1" stroke="#50a0c0" stroke-width="0.35" stroke-opacity="0.8"/><line x1="273.2" y1="527.4" x2="267.6" y2="539.9" stroke="#333333" stroke-width="0.35" stroke-opacity="0.8"/><line x1="271.9" y1="526.1" x2="266.3" y2="541.2" stroke="#7cc04a" stroke-width="0.35" stroke-opacity="0.8"/><line x1="273.1" y1="527.3" x2="267.5" y2="540.0" stroke="#50a0c0" stroke-width="0.35" stroke-opacity="0.8"/><line x1="272.3" y1="526.5" x2="234.8" y2="539.7" stroke="#c8c83a" stroke-width="0.35" stroke-opacity="0.8"/><line x1="272.2" y1="526.4" x2="234.7" y2="539.8" stroke="#3f8f4f" stroke-width="0.35" stroke-opacity="0.8"/><line x1="272.0" y1="526.2" x2="234.5" y2="540.0" stroke="#7cc04a" stroke-width="0.35" stroke-opacity="0.8"/><line x1="271.8" y1="526.0" x2="287.5" y2="540.2" stroke="#6a6ad0" stroke-width="0.35" stroke-opacity="0.8"/><line x1="273.1" y1="527.3" x2="288.8" y2="538.9" stroke="#e0d84a" stroke-width="0.35" stroke-opacity="0.8"/><line x1="272.7" y1="526.9" x2="288.4" y2="539.3" stroke="#50a0c0" stroke-width="0.35" stroke-opacity="0.8"/><line x1="272.9" y1="527.1" x2="247.4" y2="551.5" stroke="#e0d84a" stroke-width="0.35" stroke-opacity="0.8"/><line x1="272.0" y1="526.2" x2="246.5" y2="552.4" stroke="#9a62b0" stroke-width="0.35" stroke-opacity="0.8"/><line x1="271.7" y1="525.9" x2="246.2" y2="552.7" stroke="#50a0c0" stroke-width="0.35" stroke-opacity="0.8"/><line x1="272.5" y1="526.7" x2="264.2" y2="556.7" stroke="#222222" stroke-width="0.35" stroke-opacity="0.8"/><line x1="273.2" y1="527.4" x2="264.9" y2="556.0" stroke="#e0d84a" stroke-width="0.35" stroke-opacity="0.8"/><line x1="272.8" y1="527.0" x2="264.5" y2="556.4" stroke="#222222" stroke-width="0.35" stroke-opacity="0.8"/><line x1="272.4" y1="526.6" x2="281.8" y2="553.8" stroke="#c060a8" stroke-width="0.35" stroke-opacity="0.8"/><line x1="272.1" y1="526.3" x2="281.5" y2="554.1" stroke="#3f8f4f" stroke-width="0.35" stroke-opacity="0.8"/><line x1="271.9" y1="526.1" x2="281.3" y2="554.3" stroke="#333333" stroke-width="0.35" stroke-opacity="0.8"/><line x1="287.4" y1="524.4" x2="250.6" y2="537.0" stroke="#7cc04a" stroke-width="0.35" stroke-opacity="0.8"/><line x1="287.7" y1="524.7" x2="250.9" y2="536.7" stroke="#9a62b0" stroke-width="0.35" stroke-opacity="0.8"/><line x1="287.4" y1="524.4" x2="250.6" y2="537.0" stroke="#3f8f4f" stroke-width="0.35" stroke-opacity="0.8"/><line x1="288.3" y1="525.3" x2="267.7" y2="539.8" stroke="#50a0c0" stroke-width="0.35" stroke-opacity="0.8"/><line x1="286.7" y1="523.7" x2="266.1" y2="541.4" stroke="#50a0c0" stroke-width="0.35" stroke-opacity="0.8"/><line x1="287.1" y1="524.1" x2="266.5" y2="541.0" stroke="#50a0c0" stroke-width="0.35" stroke-opacity="0.8"/><line x1="288.3" y1="525.3" x2="235.8" y2="538.7" stroke="#333333" stroke-width="0.35" stroke-opacity="0.8"/><line x1="287.5" y1="524.5" x2="235.0" y2="539.5" stroke="#9a62b0" stroke-width="0.35" stroke-opacity="0.8"/><line x1="286.6" y1="523.6" x2="234.1" y2="540.4" stroke="#e0d84a" stroke-width="0.35" stroke-opacity="0.8"/><line x1="287.8" y1="524.8" x2="288.5" y2="539.2" stroke="#333333" stroke-width="0.35" stroke-opacity="0.8"/><line x1="286.8" y1="523.8" x2="287.5" y2="540.2" stroke="#9a62b0" stroke-width="0.35" stroke-opacity="0.8"/><line x1="286.9" y1="523.9" x2="287.6" y2="540.1" stroke="#7cc04a" stroke-width="0.35" stroke-opacity="0.8"/><line x1="286.6" y1="523.6" x2="246.1" y2="552.8" stroke="#e0d84a" stroke-width="0.35" stroke-opacity="0.8"/><line x1="287.8" y1="524.8" x2="247.3" y2="551.6" stroke="#c060a8" stroke-width="0.35" stroke-opacity="0.8"/><line x1="288.0" y1="525.0" x2="247.5" y2="551.4" stroke="#222222" stroke-width="0.35" stroke-opacity="0.8"/><line x1="288.1" y1="525.1" x2="264.8" y2="556.1" stroke="#a0d060" stroke-width="0.35" stroke-opacity="0.8"/><line x1="288.3" y1="525.3" x2="265.0" y2="555.9" stroke="#c8c83a" stroke-width="0.35" stroke-opacity="0.8"/><line x1="287.1" y1="524.1" x2="263.8" y2="557.1" stroke="#4fb8d0" stroke-width="0.35" stroke-opacity="0.8"/><line x1="287.8" y1="524.8" x2="282.2" y2="553.4" stroke="#c060a8" stroke-width="0.35" stroke-opacity="0.8"/><line x1="287.0" y1="524.0" x2="281.4" y2="554.2" stroke="#9a62b0" stroke-width="0.35" stroke-opacity="0.8"/><line x1="286.7" y1="523.7" x2="281.1" y2="554.5" stroke="#6a6ad0" stroke-width="0.35" stroke-opacity="0.8"/><line x1="250.9" y1="537.1" x2="267.1" y2="540.4" stroke="#a0d060" stroke-width="0.35" stroke-opacity="0.8"/><line x1="251.0" y1="537.2" x2="267.2" y2="540.3" stroke="#222222" stroke-width="0.35" stroke-opacity="0.8"/><line x1="251.6" y1="537.8" x2="267.8" y2="539.7" stroke="#50a0c0" stroke-width="0.35" stroke-opacity="0.8"/><line x1="250.5" y1="536.7" x2="234.8" y2="539.7" stroke="#333333" stroke-width="0.35" stroke-opacity="0.8"/><line x1="250.8" y1="537.0" x2="235.1" y2="539.4" stroke="#7cc04a" stroke-width="0.35" stroke-opacity="0.8"/><line x1="250.4" y1="536.6" x2="234.7" y2="539.8" stroke="#7cc04a" stroke-width="0.35" stroke-opacity="0.8"/><line x1="251.4" y1="537.6" x2="288.9" y2="538.8" stroke="#333333" stroke-width="0.35" stroke-opacity="0.8"/><line x1="250.9" y1="537.1" x2="288.4" y2="539.3" stroke="#e0d84a" stroke-width="0.35" stroke-opacity="0.8"/><line x1="249.8" y1="536.0" x2="287.3" y2="540.4" stroke="#e0d84a" stroke-width="0.35" stroke-opacity="0.8"/><line x1="251.1" y1="537.3" x2="247.4" y2="551.5" stroke="#c060a8" stroke-width="0.35" stroke-opacity="0.8"/><line x1="249.9" y1="536.1" x2="246.2" y2="552.7" stroke="#e0d84a" stroke-width="0.35" stroke-opacity="0.8"/><line x1="251.3" y1="537.5" x2="247.6" y2="551.3" stroke="#3f8f4f" stroke-width="0.35" stroke-opacity="0.8"/><line x1="250.1" y1="536.3" x2="263.6" y2="557.3" stroke="#a0d060" stroke-width="0.35" stroke-opacity="0.8"/><line x1="251.5" y1="537.7" x2="265.0" y2="555.9" stroke="#e0d84a" stroke-width="0.35" stroke-opacity="0.8"/><line x1="250.8" y1="537.0" x2="264.3" y2="556.6" stroke="#4fb8d0" stroke-width="0.35" stroke-opacity="0.8"/><line x1="251.6" y1="537.8" x2="282.8" y2="552.8" stroke="#7cc04a" stroke-width="0.35" stroke-opacity="0.8"/><line x1="250.0" y1="536.2" x2="281.2" y2="554.4" stroke="#c8c83a" stroke-width="0.35" stroke-opacity="0.8"/><line x1="251.6" y1="537.8" x2="282.8" y2="552.8" stroke="#e0d84a" stroke-width="0.35" stroke-opacity="0.8"/><line x1="266.6" y1="540.3" x2="234.7" y2="539.8" stroke="#9a62b0" stroke-width="0.35" stroke-opacity="0.8"/><line x1="267.2" y1="540.9" x2="235.3" y2="539.2" stroke="#6a6ad0" stroke-width="0.35" stroke-opacity="0.8"/><line x1="267.4" y1="541.1" x2="235.5" y2="539.0" stroke="#333333" stroke-width="0.35" stroke-opacity="0.8"/><line x1="267.8" y1="541.5" x2="289.1" y2="538.6" stroke="#c8c83a" stroke-width="0.35" stroke-opacity="0.8"/><line x1="267.5" y1="541.2" x2="288.8" y2="538.9" stroke="#3f8f4f" stroke-width="0.35" stroke-opacity="0.8"/><line x1="266.3" y1="540.0" x2="287.6" y2="540.1" stroke="#a0d060" stroke-width="0.35" stroke-opacity="0.8"/><line x1="266.1" y1="539.8" x2="246.2" y2="552.7" stroke="#a0d060" stroke-width="0.35" stroke-opacity="0.8"/><line x1="266.3" y1="540.0" x2="246.4" y2="552.5" stroke="#6a6ad0" stroke-width="0.35" stroke-opacity="0.8"/><line x1="267.0" y1="540.7" x2="247.1" y2="551.8" stroke="#c8c83a" stroke-width="0.35" stroke-opacity="0.8"/><line x1="266.7" y1="540.4" x2="264.0" y2="556.9" stroke="#e0d84a" stroke-width="0.35" stroke-opacity="0.8"/><line x1="267.7" y1="541.4" x2="265.0" y2="555.9" stroke="#c8c83a" stroke-width="0.35" stroke-opacity="0.8"/><line x1="267.2" y1="540.9" x2="264.5" y2="556.4" stroke="#c060a8" stroke-width="0.35" stroke-opacity="0.8"/><line x1="266.4" y1="540.1" x2="281.4" y2="554.2" stroke="#a0d060" stroke-width="0.35" stroke-opacity="0.8"/><line x1="266.8" y1="540.5" x2="281.8" y2="553.8" stroke="#3f8f4f" stroke-width="0.35" stroke-opacity="0.8"/><line x1="267.2" y1="540.9" x2="282.2" y2="553.4" stroke="#7cc04a" stroke-width="0.35" stroke-opacity="0.8"/><line x1="235.7" y1="540.2" x2="288.9" y2="538.8" stroke="#7cc04a" stroke-width="0.35" stroke-opacity="0.8"/><line x1="234.4" y1="538.9" x2="287.6" y2="540.1" stroke="#333333" stroke-width="0.35" stroke-opacity="0.8"/><line x1="234.5" y1="539.0" x2="287.7" y2="540.0" stroke="#4fb8d0" stroke-width="0.35" stroke-opacity="0.8"/><line x1="235.1" y1="539.6" x2="247.1" y2="551.8" stroke="#a0d060" stroke-width="0.35" stroke-opacity="0.8"/><line x1="234.8" y1="539.3" x2="246.8" y2="552.1" stroke="#222222" stroke-width="0.35" stroke-opacity="0.8"/><line x1="235.6" y1="540.1" x2="247.6" y2="551.3" stroke="#6a6ad0" stroke-width="0.35" stroke-opacity="0.8"/><line x1="234.6" y1="539.1" x2="263.8" y2="557.1" stroke="#222222" stroke-width="0.35" stroke-opacity="0.8"/><line x1="235.3" y1="539.8" x2="264.5" y2="556.4" stroke="#a0d060" stroke-width="0.35" stroke-opacity="0.8"/><line x1="235.4" y1="539.9" x2="264.6" y2="556.3" stroke="#333333" stroke-width="0.35" stroke-opacity="0.8"/><line x1="234.1" y1="538.6" x2="281.0" y2="554.6" stroke="#6a6ad0" stroke-width="0.35" stroke-opacity="0.8"/><line x1="235.3" y1="539.8" x2="282.2" y2="553.4" stroke="#c8c83a" stroke-width="0.35" stroke-opacity="0.8"/><line x1="235.9" y1="540.4" x2="282.8" y2="552.8" stroke="#4fb8d0" stroke-width="0.35" stroke-opacity="0.8"/><line x1="288.4" y1="539.7" x2="247.2" y2="551.7" stroke="#222222" stroke-width="0.35" stroke-opacity="0.8"/><line x1="287.5" y1="538.8" x2="246.3" y2="552.6" stroke="#e0d84a" stroke-width="0.35" stroke-opacity="0.8"/><line x1="287.4" y1="538.7" x2="246.2" y2="552.7" stroke="#c8c83a" stroke-width="0.35" stroke-opacity="0.8"/><line x1="287.5" y1="538.8" x2="263.5" y2="557.4" stroke="#e0d84a" stroke-width="0.35" stroke-opacity="0.8"/><line x1="288.9" y1="540.2" x2="264.9" y2="556.0" stroke="#e0d84a" stroke-width="0.35" stroke-opacity="0.8"/><line x1="288.3" y1="539.6" x2="264.3" y2="556.6" stroke="#333333" stroke-width="0.35" stroke-opacity="0.8"/><line x1="287.5" y1="538.8" x2="281.2" y2="554.4" stroke="#e0d84a" stroke-width="0.35" stroke-opacity="0.8"/><line x1="288.5" y1="539.8" x2="282.2" y2="553.4" stroke="#9a62b0" stroke-width="0.35" stroke-opacity="0.8"/><line x1="287.8" y1="539.1" x2="281.5" y2="554.1" stroke="#222222" stroke-width="0.35" stroke-opacity="0.8"/><line x1="247.1" y1="552.0" x2="264.3" y2="556.6" stroke="#a0d060" stroke-width="0.35" stroke-opacity="0.8"/><line x1="247.4" y1="552.3" x2="264.6" y2="556.3" stroke="#50a0c0" stroke-width="0.35" stroke-opacity="0.8"/><line x1="246.5" y1="551.4" x2="263.7" y2="557.2" stroke="#c8c83a" stroke-width="0.35" stroke-opacity="0.8"/><line x1="247.7" y1="552.6" x2="282.6" y2="553.0" stroke="#9a62b0" stroke-width="0.35" stroke-opacity="0.8"/><line x1="246.1" y1="551.0" x2="281.0" y2="554.6" stroke="#4fb8d0" stroke-width="0.35" stroke-opacity="0.8"/><line x1="246.5" y1="551.4" x2="281.4" y2="554.2" stroke="#50a0c0" stroke-width="0.35" stroke-opacity="0.8"/><line x1="263.5" y1="556.0" x2="281.2" y2="554.4" stroke="#7cc04a" stroke-width="0.35" stroke-opacity="0.8"/><line x1="264.1" y1="556.6" x2="281.8" y2="553.8" stroke="#50a0c0" stroke-width="0.35" stroke-opacity="0.8"/><line x1="265.1" y1="557.6" x2="282.8" y2="552.8" stroke="#c8c83a" stroke-width="0.35" stroke-opacity="0.8"/><line x1="362.6" y1="521.3" x2="376.5" y2="514.0" stroke="#6a6ad0" stroke-width="0.35" stroke-opacity="0.8"/><line x1="363.6" y1="522.3" x2="377.5" y2="513.0" stroke="#c8c83a" stroke-width="0.35" stroke-opacity="0.8"/><line x1="362.9" y1="521.6" x2="376.8" y2="513.7" stroke="#4fb8d0" stroke-width="0.35" stroke-opacity="0.8"/><line x1="362.7" y1="521.4" x2="391.9" y2="514.7" stroke="#4fb8d0" stroke-width="0.35" stroke-opacity="0.8"/><line x1="362.7" y1="521.4" x2="391.9" y2="514.7" stroke="#c060a8" stroke-width="0.35" stroke-opacity="0.8"/><line x1="362.8" y1="521.5" x2="392.0" y2="514.6" stroke="#c060a8" stroke-width="0.35" stroke-opacity="0.8"/><line x1="363.3" y1="522.0" x2="405.0" y2="524.4" stroke="#50a0c0" stroke-width="0.35" stroke-opacity="0.8"/><line x1="363.7" y1="522.4" x2="405.4" y2="524.0" stroke="#3f8f4f" stroke-width="0.35" stroke-opacity="0.8"/><line x1="362.3" y1="521.0" x2="404.0" y2="525.4" stroke="#4fb8d0" stroke-width="0.35" stroke-opacity="0.8"/><line x1="363.8" y1="522.5" x2="382.7" y2="528.1" stroke="#9a62b0" stroke-width="0.35" stroke-opacity="0.8"/><line x1="362.8" y1="521.5" x2="381.7" y2="529.1" stroke="#222222" stroke-width="0.35" stroke-opacity="0.8"/><line x1="363.5" y1="522.2" x2="382.4" y2="528.4" stroke="#a0d060" stroke-width="0.35" stroke-opacity="0.8"/><line x1="362.8" y1="521.5" x2="357.3" y2="538.8" stroke="#333333" stroke-width="0.35" stroke-opacity="0.8"/><line x1="362.3" y1="521.0" x2="356.8" y2="539.3" stroke="#222222" stroke-width="0.35" stroke-opacity="0.8"/><line x1="362.5" y1="521.2" x2="357.0" y2="539.1" stroke="#333333" stroke-width="0.35" stroke-opacity="0.8"/><line x1="362.7" y1="521.4" x2="383.6" y2="545.3" stroke="#7cc04a" stroke-width="0.35" stroke-opacity="0.8"/><line x1="362.8" y1="521.5" x2="383.7" y2="545.2" stroke="#50a0c0" stroke-width="0.35" stroke-opacity="0.8"/><line x1="362.6" y1="521.3" x2="383.5" y2="545.4" stroke="#e0d84a" stroke-width="0.35" stroke-opacity="0.8"/><line x1="363.2" y1="521.9" x2="406.2" y2="539.8" stroke="#333333" stroke-width="0.35" stroke-opacity="0.8"/><line x1="363.6" y1="522.3" x2="406.6" y2="539.4" stroke="#a0d060" stroke-width="0.35" stroke-opacity="0.8"/><line x1="363.5" y1="522.2" x2="406.5" y2="539.5" stroke="#222222" stroke-width="0.35" stroke-opacity="0.8"/><line x1="363.3" y1="522.0" x2="365.6" y2="552.1" stroke="#c060a8" stroke-width="0.35" stroke-opacity="0.8"/><line x1="363.2" y1="521.9" x2="365.5" y2="552.2" stroke="#e0d84a" stroke-width="0.35" stroke-opacity="0.8"/><line x1="363.1" y1="521.8" x2="365.4" y2="552.3" stroke="#50a0c0" stroke-width="0.35" stroke-opacity="0.8"/><line x1="363.0" y1="521.7" x2="381.1" y2="560.8" stroke="#7cc04a" stroke-width="0.35" stroke-opacity="0.8"/><line x1="363.8" y1="522.5" x2="381.9" y2="560.0" stroke="#333333" stroke-width="0.35" stroke-opacity="0.8"/><line x1="362.3" y1="521.0" x2="380.4" y2="561.5" stroke="#c060a8" stroke-width="0.35" stroke-opacity="0.8"/><line x1="363.5" y1="522.2" x2="399.6" y2="553.3" stroke="#4fb8d0" stroke-width="0.35" stroke-opacity="0.8"/><line x1="362.5" y1="521.2" x2="398.6" y2="554.3" stroke="#c060a8" stroke-width="0.35" stroke-opacity="0.8"/><line x1="363.9" y1="522.6" x2="400.0" y2="552.9" stroke="#6a6ad0" stroke-width="0.35" stroke-opacity="0.8"/><line x1="377.6" y1="514.1" x2="392.9" y2="513.7" stroke="#3f8f4f" stroke-width="0.35" stroke-opacity="0.8"/><line x1="376.3" y1="512.8" x2="391.6" y2="515.0" stroke="#50a0c0" stroke-width="0.35" stroke-opacity="0.8"/><line x1="377.2" y1="513.7" x2="392.5" y2="514.1" stroke="#e0d84a" stroke-width="0.35" stroke-opacity="0.8"/><line x1="376.4" y1="512.9" x2="404.2" y2="525.2" stroke="#c8c83a" stroke-width="0.35" stroke-opacity="0.8"/><line x1="377.5" y1="514.0" x2="405.3" y2="524.1" stroke="#6a6ad0" stroke-width="0.35" stroke-opacity="0.8"/><line x1="376.2" y1="512.7" x2="404.0" y2="525.4" stroke="#222222" stroke-width="0.35" stroke-opacity="0.8"/><line x1="376.5" y1="513.0" x2="381.5" y2="529.3" stroke="#333333" stroke-width="0.35" stroke-opacity="0.8"/><line x1="376.3" y1="512.8" x2="381.3" y2="529.5" stroke="#3f8f4f" stroke-width="0.35" stroke-opacity="0.8"/><line x1="377.2" y1="513.7" x2="382.2" y2="528.6" stroke="#3f8f4f" stroke-width="0.35" stroke-opacity="0.8"/><line x1="377.0" y1="513.5" x2="357.6" y2="538.5" stroke="#c8c83a" stroke-width="0.35" stroke-opacity="0.8"/><line x1="377.8" y1="514.3" x2="358.4" y2="537.7" stroke="#7cc04a" stroke-width="0.35" stroke-opacity="0.8"/><line x1="377.6" y1="514.1" x2="358.2" y2="537.9" stroke="#6a6ad0" stroke-width="0.35" stroke-opacity="0.8"/><line x1="376.9" y1="513.4" x2="383.9" y2="545.0" stroke="#a0d060" stroke-width="0.35" stroke-opacity="0.8"/><line x1="376.9" y1="513.4" x2="383.9" y2="545.0" stroke="#e0d84a" stroke-width="0.35" stroke-opacity="0.8"/><line x1="377.7" y1="514.2" x2="384.7" y2="544.2" stroke="#4fb8d0" stroke-width="0.35" stroke-opacity="0.8"/><line x1="376.8" y1="513.3" x2="405.9" y2="540.1" stroke="#333333" stroke-width="0.35" stroke-opacity="0.8"/><line x1="376.1" y1="512.6" x2="405.2" y2="540.8" stroke="#e0d84a" stroke-width="0.35" stroke-opacity="0.8"/><line x1="377.6" y1="514.1" x2="406.7" y2="539.3" stroke="#9a62b0" stroke-width="0.35" stroke-opacity="0.8"/><line x1="377.3" y1="513.8" x2="365.7" y2="552.0" stroke="#6a6ad0" stroke-width="0.35" stroke-opacity="0.8"/><line x1="376.6" y1="513.1" x2="365.0" y2="552.7" stroke="#6a6ad0" stroke-width="0.35" stroke-opacity="0.8"/><line x1="376.7" y1="513.2" x2="365.1" y2="552.6" stroke="#4fb8d0" stroke-width="0.35" stroke-opacity="0.8"/><line x1="376.3" y1="512.8" x2="380.5" y2="561.4" stroke="#a0d060" stroke-width="0.35" stroke-opacity="0.8"/><line x1="377.7" y1="514.2" x2="381.9" y2="560.0" stroke="#7cc04a" stroke-width="0.35" stroke-opacity="0.8"/><line x1="376.9" y1="513.4" x2="381.1" y2="560.8" stroke="#6a6ad0" stroke-width="0.35" stroke-opacity="0.8"/><line x1="376.3" y1="512.8" x2="398.5" y2="554.4" stroke="#6a6ad0" stroke-width="0.35" stroke-opacity="0.8"/><line x1="376.8" y1="513.3" x2="399.0" y2="553.9" stroke="#c060a8" stroke-width="0.35" stroke-opacity="0.8"/><line x1="377.6" y1="514.1" x2="399.8" y2="553.1" stroke="#9a62b0" stroke-width="0.35" stroke-opacity="0.8"/><line x1="392.1" y1="514.1" x2="404.6" y2="524.8" stroke="#6a6ad0" stroke-width="0.35" stroke-opacity="0.8"/><line x1="391.4" y1="513.4" x2="403.9" y2="525.5" stroke="#333333" stroke-width="0.35" stroke-opacity="0.8"/><line x1="392.9" y1="514.9" x2="405.4" y2="524.0" stroke="#7cc04a" stroke-width="0.35" stroke-opacity="0.8"/><line x1="392.2" y1="514.2" x2="381.9" y2="528.9" stroke="#7cc04a" stroke-width="0.35" stroke-opacity="0.8"/><line x1="391.9" y1="513.9" x2="381.6" y2="529.2" stroke="#e0d84a" stroke-width="0.35" stroke-opacity="0.8"/><line x1="392.5" y1="514.5" x2="382.2" y2="528.6" stroke="#c8c83a" stroke-width="0.35" stroke-opacity="0.8"/><line x1="391.5" y1="513.5" x2="356.8" y2="539.3" stroke="#222222" stroke-width="0.35" stroke-opacity="0.8"/><line x1="392.3" y1="514.3" x2="357.6" y2="538.5" stroke="#6a6ad0" stroke-width="0.35" stroke-opacity="0.8"/><line x1="391.7" y1="513.7" x2="357.0" y2="539.1" stroke="#c8c83a" stroke-width="0.35" stroke-opacity="0.8"/><line x1="391.8" y1="513.8" x2="383.5" y2="545.4" stroke="#a0d060" stroke-width="0.35" stroke-opacity="0.8"/><line x1="391.8" y1="513.8" x2="383.5" y2="545.4" stroke="#3f8f4f" stroke-width="0.35" stroke-opacity="0.8"/><line x1="393.0" y1="515.0" x2="384.7" y2="544.2" stroke="#333333" stroke-width="0.35" stroke-opacity="0.8"/><line x1="392.5" y1="514.5" x2="406.3" y2="539.7" stroke="#9a62b0" stroke-width="0.35" stroke-opacity="0.8"/><line x1="392.1" y1="514.1" x2="405.9" y2="540.1" stroke="#3f8f4f" stroke-width="0.35" stroke-opacity="0.8"/><line x1="392.9" y1="514.9" x2="406.7" y2="539.3" stroke="#222222" stroke-width="0.35" stroke-opacity="0.8"/><line x1="392.4" y1="514.4" x2="365.5" y2="552.2" stroke="#a0d060" stroke-width="0.35" stroke-opacity="0.8"/><line x1="393.1" y1="515.1" x2="366.2" y2="551.5" stroke="#4fb8d0" stroke-width="0.35" stroke-opacity="0.8"/><line x1="392.8" y1="514.8" x2="365.9" y2="551.8" stroke="#6a6ad0" stroke-width="0.35" stroke-opacity="0.8"/><line x1="392.8" y1="514.8" x2="381.7" y2="560.2" stroke="#50a0c0" stroke-width="0.35" stroke-opacity="0.8"/><line x1="392.0" y1="514.0" x2="380.9" y2="561.0" stroke="#c8c83a" stroke-width="0.35" stroke-opacity="0.8"/><line x1="392.7" y1="514.7" x2="381.6" y2="560.3" stroke="#9a62b0" stroke-width="0.35" stroke-opacity="0.8"/><line x1="391.4" y1="513.4" x2="398.3" y2="554.6" stroke="#9a62b0" stroke-width="0.35" stroke-opacity="0.8"/><line x1="392.2" y1="514.2" x2="399.1" y2="553.8" stroke="#3f8f4f" stroke-width="0.35" stroke-opacity="0.8"/><line x1="392.8" y1="514.8" x2="399.7" y2="553.2" stroke="#c8c83a" stroke-width="0.35" stroke-opacity="0.8"/><line x1="404.8" y1="524.6" x2="382.0" y2="528.8" stroke="#333333" stroke-width="0.35" stroke-opacity="0.8"/><line x1="405.2" y1="525.0" x2="382.4" y2="528.4" stroke="#7cc04a" stroke-width="0.35" stroke-opacity="0.8"/><line x1="404.9" y1="524.7" x2="382.1" y2="528.7" stroke="#7cc04a" stroke-width="0.35" stroke-opacity="0.8"/><line x1="405.6" y1="525.4" x2="358.4" y2="537.7" stroke="#c060a8" stroke-width="0.35" stroke-opacity="0.8"/><line x1="405.1" y1="524.9" x2="357.9" y2="538.2" stroke="#4fb8d0" stroke-width="0.35" stroke-opacity="0.8"/><line x1="405.3" y1="525.1" x2="358.1" y2="538.0" stroke="#6a6ad0" stroke-width="0.35" stroke-opacity="0.8"/><line x1="404.3" y1="524.1" x2="383.5" y2="545.4" stroke="#50a0c0" stroke-width="0.35" stroke-opacity="0.8"/><line x1="405.5" y1="525.3" x2="384.7" y2="544.2" stroke="#e0d84a" stroke-width="0.35" stroke-opacity="0.8"/><line x1="404.6" y1="524.4" x2="383.8" y2="545.1" stroke="#c8c83a" stroke-width="0.35" stroke-opacity="0.8"/><line x1="405.0" y1="524.8" x2="406.3" y2="539.7" stroke="#222222" stroke-width="0.35" stroke-opacity="0.8"/><line x1="404.3" y1="524.1" x2="405.6" y2="540.4" stroke="#e0d84a" stroke-width="0.35" stroke-opacity="0.8"/><line x1="405.7" y1="525.5" x2="407.0" y2="539.0" stroke="#c8c83a" stroke-width="0.35" stroke-opacity="0.8"/><line x1="404.3" y1="524.1" x2="364.9" y2="552.8" stroke="#50a0c0" stroke-width="0.35" stroke-opacity="0.8"/><line x1="404.4" y1="524.2" x2="365.0" y2="552.7" stroke="#333333" stroke-width="0.35" stroke-opacity="0.8"/><line x1="404.0" y1="523.8" x2="364.6" y2="553.1" stroke="#333333" stroke-width="0.35" stroke-opacity="0.8"/><line x1="404.0" y1="523.8" x2="380.4" y2="561.5" stroke="#333333" stroke-width="0.35" stroke-opacity="0.8"/><line x1="404.9" y1="524.7" x2="381.3" y2="560.6" stroke="#9a62b0" stroke-width="0.35" stroke-opacity="0.8"/><line x1="404.1" y1="523.9" x2="380.5" y2="561.4" stroke="#9a62b0" stroke-width="0.35" stroke-opacity="0.8"/><line x1="405.7" y1="525.5" x2="400.1" y2="552.8" stroke="#222222" stroke-width="0.35" stroke-opacity="0.8"/><line x1="405.2" y1="525.0" x2="399.6" y2="553.3" stroke="#4fb8d0" stroke-width="0.35" stroke-opacity="0.8"/><line x1="404.9" y1="524.7" x2="399.3" y2="553.6" stroke="#4fb8d0" stroke-width="0.35" stroke-opacity="0.8"/><line x1="382.9" y1="529.7" x2="358.5" y2="537.6" stroke="#6a6ad0" stroke-width="0.35" stroke-opacity="0.8"/><line x1="382.8" y1="529.6" x2="358.4" y2="537.7" stroke="#c8c83a" stroke-width="0.35" stroke-opacity="0.8"/><line x1="382.6" y1="529.4" x2="358.2" y2="537.9" stroke="#6a6ad0" stroke-width="0.35" stroke-opacity="0.8"/><line x1="381.7" y1="528.5" x2="383.7" y2="545.2" stroke="#222222" stroke-width="0.35" stroke-opacity="0.8"/><line x1="381.2" y1="528.0" x2="383.2" y2="545.7" stroke="#9a62b0" stroke-width="0.35" stroke-opacity="0.8"/><line x1="381.8" y1="528.6" x2="383.8" y2="545.1" stroke="#9a62b0" stroke-width="0.35" stroke-opacity="0.8"/><line x1="381.5" y1="528.3" x2="405.6" y2="540.4" stroke="#3f8f4f" stroke-width="0.35" stroke-opacity="0.8"/><line x1="382.5" y1="529.3" x2="406.6" y2="539.4" stroke="#4fb8d0" stroke-width="0.35" stroke-opacity="0.8"/><line x1="382.0" y1="528.8" x2="406.1" y2="539.9" stroke="#7cc04a" stroke-width="0.35" stroke-opacity="0.8"/><line x1="381.1" y1="527.9" x2="364.5" y2="553.2" stroke="#7cc04a" stroke-width="0.35" stroke-opacity="0.8"/><line x1="381.6" y1="528.4" x2="365.0" y2="552.7" stroke="#c060a8" stroke-width="0.35" stroke-opacity="0.8"/><line x1="382.0" y1="528.8" x2="365.4" y2="552.3" stroke="#c060a8" stroke-width="0.35" stroke-opacity="0.8"/><line x1="382.1" y1="528.9" x2="381.3" y2="560.6" stroke="#e0d84a" stroke-width="0.35" stroke-opacity="0.8"/><line x1="382.3" y1="529.1" x2="381.5" y2="560.4" stroke="#333333" stroke-width="0.35" stroke-opacity="0.8"/><line x1="382.1" y1="528.9" x2="381.3" y2="560.6" stroke="#9a62b0" stroke-width="0.35" stroke-opacity="0.8"/><line x1="382.1" y1="528.9" x2="399.3" y2="553.6" stroke="#4fb8d0" stroke-width="0.35" stroke-opacity="0.8"/><line x1="382.0" y1="528.8" x2="399.2" y2="553.7" stroke="#4fb8d0" stroke-width="0.35" stroke-opacity="0.8"/><line x1="382.8" y1="529.6" x2="400.0" y2="552.9" stroke="#c8c83a" stroke-width="0.35" stroke-opacity="0.8"/><line x1="358.4" y1="539.3" x2="384.8" y2="544.1" stroke="#a0d060" stroke-width="0.35" stroke-opacity="0.8"/><line x1="358.1" y1="539.0" x2="384.5" y2="544.4" stroke="#a0d060" stroke-width="0.35" stroke-opacity="0.8"/><line x1="358.1" y1="539.0" x2="384.5" y2="544.4" stroke="#333333" stroke-width="0.35" stroke-opacity="0.8"/><line x1="356.8" y1="537.7" x2="405.3" y2="540.7" stroke="#7cc04a" stroke-width="0.35" stroke-opacity="0.8"/><line x1="357.0" y1="537.9" x2="405.5" y2="540.5" stroke="#c8c83a" stroke-width="0.35" stroke-opacity="0.8"/><line x1="357.8" y1="538.7" x2="406.3" y2="539.7" stroke="#c060a8" stroke-width="0.35" stroke-opacity="0.8"/><line x1="357.6" y1="538.5" x2="365.4" y2="552.3" stroke="#50a0c0" stroke-width="0.35" stroke-opacity="0.8"/><line x1="357.4" y1="538.3" x2="365.2" y2="552.5" stroke="#e0d84a" stroke-width="0.35" stroke-opacity="0.8"/><line x1="358.4" y1="539.3" x2="366.2" y2="551.5" stroke="#a0d060" stroke-width="0.35" stroke-opacity="0.8"/><line x1="358.3" y1="539.2" x2="381.9" y2="560.0" stroke="#7cc04a" stroke-width="0.35" stroke-opacity="0.8"/><line x1="358.1" y1="539.0" x2="381.7" y2="560.2" stroke="#a0d060" stroke-width="0.35" stroke-opacity="0.8"/><line x1="358.4" y1="539.3" x2="382.0" y2="559.9" stroke="#3f8f4f" stroke-width="0.35" stroke-opacity="0.8"/><line x1="358.3" y1="539.2" x2="399.9" y2="553.0" stroke="#6a6ad0" stroke-width="0.35" stroke-opacity="0.8"/><line x1="357.2" y1="538.1" x2="398.8" y2="554.1" stroke="#6a6ad0" stroke-width="0.35" stroke-opacity="0.8"/><line x1="357.3" y1="538.2" x2="398.9" y2="554.0" stroke="#c060a8" stroke-width="0.35" stroke-opacity="0.8"/><line x1="383.2" y1="544.1" x2="405.3" y2="540.7" stroke="#c8c83a" stroke-width="0.35" stroke-opacity="0.8"/><line x1="384.7" y1="545.6" x2="406.8" y2="539.2" stroke="#6a6ad0" stroke-width="0.35" stroke-opacity="0.8"/><line x1="384.1" y1="545.0" x2="406.2" y2="539.8" stroke="#c060a8" stroke-width="0.35" stroke-opacity="0.8"/><line x1="384.6" y1="545.5" x2="366.0" y2="551.7" stroke="#e0d84a" stroke-width="0.35" stroke-opacity="0.8"/><line x1="383.6" y1="544.5" x2="365.0" y2="552.7" stroke="#c060a8" stroke-width="0.35" stroke-opacity="0.8"/><line x1="383.3" y1="544.2" x2="364.7" y2="553.0" stroke="#a0d060" stroke-width="0.35" stroke-opacity="0.8"/><line x1="384.3" y1="545.2" x2="381.5" y2="560.4" stroke="#c060a8" stroke-width="0.35" stroke-opacity="0.8"/><line x1="384.7" y1="545.6" x2="381.9" y2="560.0" stroke="#6a6ad0" stroke-width="0.35" stroke-opacity="0.8"/><line x1="384.9" y1="545.8" x2="382.1" y2="559.8" stroke="#333333" stroke-width="0.35" stroke-opacity="0.8"/><line x1="383.9" y1="544.8" x2="399.1" y2="553.8" stroke="#c060a8" stroke-width="0.35" stroke-opacity="0.8"/><line x1="383.4" y1="544.3" x2="398.6" y2="554.3" stroke="#3f8f4f" stroke-width="0.35" stroke-opacity="0.8"/><line x1="383.5" y1="544.4" x2="398.7" y2="554.2" stroke="#3f8f4f" stroke-width="0.35" stroke-opacity="0.8"/><line x1="405.8" y1="539.6" x2="365.1" y2="552.6" stroke="#a0d060" stroke-width="0.35" stroke-opacity="0.8"/><line x1="405.7" y1="539.5" x2="365.0" y2="552.7" stroke="#9a62b0" stroke-width="0.35" stroke-opacity="0.8"/><line x1="405.5" y1="539.3" x2="364.8" y2="552.9" stroke="#c060a8" stroke-width="0.35" stroke-opacity="0.8"/><line x1="405.4" y1="539.2" x2="380.5" y2="561.4" stroke="#e0d84a" stroke-width="0.35" stroke-opacity="0.8"/><line x1="406.3" y1="540.1" x2="381.4" y2="560.5" stroke="#7cc04a" stroke-width="0.35" stroke-opacity="0.8"/><line x1="406.6" y1="540.4" x2="381.7" y2="560.2" stroke="#c060a8" stroke-width="0.35" stroke-opacity="0.8"/><line x1="406.9" y1="540.7" x2="400.0" y2="552.9" stroke="#50a0c0" stroke-width="0.35" stroke-opacity="0.8"/><line x1="406.5" y1="540.3" x2="399.6" y2="553.3" stroke="#3f8f4f" stroke-width="0.35" stroke-opacity="0.8"/><line x1="405.4" y1="539.2" x2="398.5" y2="554.4" stroke="#333333" stroke-width="0.35" stroke-opacity="0.8"/><line x1="365.0" y1="551.9" x2="380.8" y2="561.1" stroke="#222222" stroke-width="0.35" stroke-opacity="0.8"/><line x1="364.6" y1="551.5" x2="380.4" y2="561.5" stroke="#333333" stroke-width="0.35" stroke-opacity="0.8"/><line x1="365.0" y1="551.9" x2="380.8" y2="561.1" stroke="#333333" stroke-width="0.35" stroke-opacity="0.8"/><line x1="365.6" y1="552.5" x2="399.4" y2="553.5" stroke="#a0d060" stroke-width="0.35" stroke-opacity="0.8"/><line x1="365.5" y1="552.4" x2="399.3" y2="553.6" stroke="#e0d84a" stroke-width="0.35" stroke-opacity="0.8"/><line x1="365.1" y1="552.0" x2="398.9" y2="554.0" stroke="#e0d84a" stroke-width="0.35" stroke-opacity="0.8"/><line x1="380.3" y1="559.8" x2="398.3" y2="554.6" stroke="#4fb8d0" stroke-width="0.35" stroke-opacity="0.8"/><line x1="381.3" y1="560.8" x2="399.3" y2="553.6" stroke="#3f8f4f" stroke-width="0.35" stroke-opacity="0.8"/><line x1="381.0" y1="560.5" x2="399.0" y2="553.9" stroke="#a0d060" stroke-width="0.35" stroke-opacity="0.8"/><line x1="275.5" y1="413.1" x2="336.2" y2="398.1" stroke="#b070c0" stroke-width="0.6"/><line x1="288.8" y1="523.8" x2="404.8" y2="524.6" stroke="#333333" stroke-width="0.6"/><line x1="288.8" y1="539.9" x2="357.6" y2="538.5" stroke="#6a6ad0" stroke-width="0.6"/><line x1="266.9" y1="439.4" x2="253.6" y2="501.6" stroke="#c8c83a" stroke-width="0.6"/><line x1="283.7" y1="439.4" x2="268.8" y2="498.8" stroke="#a0c050" stroke-width="0.6"/><line x1="348.2" y1="411.2" x2="393.2" y2="415" stroke="#4fb8d0" stroke-width="0.6"/><line x1="393.2" y1="436.7" x2="365.4" y2="552.3" stroke="#d0d050" stroke-width="0.6"/><line x1="406.4" y1="426.2" x2="406.1" y2="539.9" stroke="#c8d060" stroke-width="0.6"/></g>
<defs><radialGradient id="ng" cx="0.5" cy="0.45" r="0.6"><stop offset="0" stop-color="#a6d096"/><stop offset="0.6" stop-color="#88bc74"/><stop offset="1" stop-color="#56864a"/></radialGradient><radialGradient id="nb" cx="0.5" cy="0.45" r="0.6"><stop offset="0" stop-color="#b2d8e4"/><stop offset="0.6" stop-color="#8cc2d4"/><stop offset="1" stop-color="#56869e"/></radialGradient><radialGradient id="nt" cx="0.5" cy="0.45" r="0.6"><stop offset="0" stop-color="#8fbf98"/><stop offset="0.6" stop-color="#6f9f7a"/><stop offset="1" stop-color="#3f6d4d"/></radialGradient><radialGradient id="nr" cx="0.5" cy="0.45" r="0.6"><stop offset="0" stop-color="#f0a4a4"/><stop offset="0.6" stop-color="#e08486"/><stop offset="1" stop-color="#b04c50"/></radialGradient><radialGradient id="ny" cx="0.5" cy="0.45" r="0.6"><stop offset="0" stop-color="#ece07c"/><stop offset="0.6" stop-color="#d8ca58"/><stop offset="1" stop-color="#988a26"/></radialGradient><radialGradient id="ne" cx="0.5" cy="0.45" r="0.6"><stop offset="0" stop-color="#98a6d0"/><stop offset="0.6" stop-color="#7686ba"/><stop offset="1" stop-color="#4a5686"/></radialGradient><linearGradient id="nrg" x1="0" y1="0" x2="1" y2="0"><stop offset="0.5" stop-color="#a4d496"/><stop offset="0.5" stop-color="#e88c8c"/></linearGradient></defs>
<circle cx="275.5" cy="413.1" r="6.3" fill="url(#ng)" stroke="#6f9a5e" stroke-width="0.45" />
<ellipse cx="275.5" cy="409.8" rx="3.6" ry="1.9" fill="#fff" fill-opacity="0.5"/>
<path d="M274.2,411.7 l1.5,-1 l1,1.6 l1.4,-1.2" fill="none" stroke="#446" stroke-width="0.4" stroke-opacity="0.7"/>
<circle cx="262" cy="424.4" r="6.3" fill="url(#ng)" stroke="#6f9a5e" stroke-width="0.45" />
<ellipse cx="262" cy="421.09999999999997" rx="3.6" ry="1.9" fill="#fff" fill-opacity="0.5"/>
<path d="M258.4,424.1 l1.5,-1 l1,1.6 l1.4,-1.2" fill="none" stroke="#446" stroke-width="0.4" stroke-opacity="0.7"/>
<circle cx="288.2" cy="422.5" r="6.3" fill="url(#ng)" stroke="#6f9a5e" stroke-width="0.45" />
<ellipse cx="288.2" cy="419.2" rx="3.6" ry="1.9" fill="#fff" fill-opacity="0.5"/>
<path d="M287.1,423.7 l1.5,-1 l1,1.6 l1.4,-1.2" fill="none" stroke="#446" stroke-width="0.4" stroke-opacity="0.7"/>
<circle cx="266.9" cy="439.4" r="6.3" fill="url(#ng)" stroke="#6f9a5e" stroke-width="0.45" />
<ellipse cx="266.9" cy="436.09999999999997" rx="3.6" ry="1.9" fill="#fff" fill-opacity="0.5"/>
<path d="M265.2,438.2 l1.5,-1 l1,1.6 l1.4,-1.2" fill="none" stroke="#446" stroke-width="0.4" stroke-opacity="0.7"/>
<circle cx="283.7" cy="439.4" r="6.3" fill="url(#ng)" stroke="#6f9a5e" stroke-width="0.45" />
<ellipse cx="283.7" cy="436.09999999999997" rx="3.6" ry="1.9" fill="#fff" fill-opacity="0.5"/>
<path d="M282.3,440.2 l1.5,-1 l1,1.6 l1.4,-1.2" fill="none" stroke="#446" stroke-width="0.4" stroke-opacity="0.7"/>
<circle cx="336.2" cy="398.1" r="6.3" fill="url(#nb)" stroke="#6f98ad" stroke-width="0.45" />
<ellipse cx="336.2" cy="394.8" rx="3.6" ry="1.9" fill="#fff" fill-opacity="0.5"/>
<path d="M334.4,397.3 l1.5,-1 l1,1.6 l1.4,-1.2" fill="none" stroke="#446" stroke-width="0.4" stroke-opacity="0.7"/>
<circle cx="325.7" cy="411.2" r="6.3" fill="url(#nb)" stroke="#6f98ad" stroke-width="0.45" />
<ellipse cx="325.7" cy="407.9" rx="3.6" ry="1.9" fill="#fff" fill-opacity="0.5"/>
<path d="M322.7,409.8 l1.5,-1 l1,1.6 l1.4,-1.2" fill="none" stroke="#446" stroke-width="0.4" stroke-opacity="0.7"/>
<circle cx="348.2" cy="411.2" r="6.3" fill="url(#nb)" stroke="#6f98ad" stroke-width="0.45" />
<ellipse cx="348.2" cy="407.9" rx="3.6" ry="1.9" fill="#fff" fill-opacity="0.5"/>
<path d="M345.7,410.8 l1.5,-1 l1,1.6 l1.4,-1.2" fill="none" stroke="#446" stroke-width="0.4" stroke-opacity="0.7"/>
<circle cx="328.7" cy="426.2" r="6.3" fill="url(#nb)" stroke="#6f98ad" stroke-width="0.45" />
<ellipse cx="328.7" cy="422.9" rx="3.6" ry="1.9" fill="#fff" fill-opacity="0.5"/>
<path d="M325.0,425.1 l1.5,-1 l1,1.6 l1.4,-1.2" fill="none" stroke="#446" stroke-width="0.4" stroke-opacity="0.7"/>
<circle cx="345.6" cy="425.5" r="6.3" fill="url(#nb)" stroke="#6f98ad" stroke-width="0.45" />
<ellipse cx="345.6" cy="422.2" rx="3.6" ry="1.9" fill="#fff" fill-opacity="0.5"/>
<path d="M343.4,426.2 l1.5,-1 l1,1.6 l1.4,-1.2" fill="none" stroke="#446" stroke-width="0.4" stroke-opacity="0.7"/>
<circle cx="393.2" cy="415" r="6.3" fill="url(#nt)" stroke="#4a7656" stroke-width="0.45" />
<ellipse cx="393.2" cy="411.7" rx="3.6" ry="1.9" fill="#fff" fill-opacity="0.5"/>
<path d="M390.7,414.6 l1.5,-1 l1,1.6 l1.4,-1.2" fill="none" stroke="#446" stroke-width="0.4" stroke-opacity="0.7"/>
<circle cx="406.4" cy="426.2" r="6.3" fill="url(#nt)" stroke="#4a7656" stroke-width="0.45" />
<ellipse cx="406.4" cy="422.9" rx="3.6" ry="1.9" fill="#fff" fill-opacity="0.5"/>
<path d="M404.7,426.8 l1.5,-1 l1,1.6 l1.4,-1.2" fill="none" stroke="#446" stroke-width="0.4" stroke-opacity="0.7"/>
<circle cx="382" cy="426.2" r="6.3" fill="url(#nt)" stroke="#4a7656" stroke-width="0.45" />
<ellipse cx="382" cy="422.9" rx="3.6" ry="1.9" fill="#fff" fill-opacity="0.5"/>
<path d="M379.6,426.6 l1.5,-1 l1,1.6 l1.4,-1.2" fill="none" stroke="#446" stroke-width="0.4" stroke-opacity="0.7"/>
<circle cx="393.2" cy="436.7" r="6.3" fill="url(#nt)" stroke="#4a7656" stroke-width="0.45" />
<ellipse cx="393.2" cy="433.4" rx="3.6" ry="1.9" fill="#fff" fill-opacity="0.5"/>
<path d="M392.0,436.9 l1.5,-1 l1,1.6 l1.4,-1.2" fill="none" stroke="#446" stroke-width="0.4" stroke-opacity="0.7"/>
<circle cx="336.2" cy="446.1" r="6.3" fill="url(#nrg)" stroke="#a08080" stroke-width="0.4" />
<ellipse cx="335.2" cy="443.1" rx="3.5" ry="2" fill="#fff" fill-opacity="0.45"/>
<path d="M333.0,445.5 l1.5,-1 l1,1.6 l1.4,-1.2" fill="none" stroke="#446" stroke-width="0.4" stroke-opacity="0.7"/>
<circle cx="329.5" cy="469.4" r="6.3" fill="url(#nrg)" stroke="#a08080" stroke-width="0.4" />
<ellipse cx="328.5" cy="466.4" rx="3.5" ry="2" fill="#fff" fill-opacity="0.45"/>
<path d="M325.9,469.6 l1.5,-1 l1,1.6 l1.4,-1.2" fill="none" stroke="#446" stroke-width="0.4" stroke-opacity="0.7"/>
<circle cx="344.9" cy="472.4" r="6.3" fill="url(#nr)" stroke="#b8585c" stroke-width="0.45" />
<ellipse cx="344.9" cy="469.09999999999997" rx="3.6" ry="1.9" fill="#fff" fill-opacity="0.5"/>
<path d="M341.3,473.5 l1.5,-1 l1,1.6 l1.4,-1.2" fill="none" stroke="#446" stroke-width="0.4" stroke-opacity="0.7"/>
<circle cx="319.7" cy="483.6" r="6.3" fill="url(#nr)" stroke="#b8585c" stroke-width="0.45" />
<ellipse cx="319.7" cy="480.3" rx="3.6" ry="1.9" fill="#fff" fill-opacity="0.5"/>
<path d="M318.3,483.2 l1.5,-1 l1,1.6 l1.4,-1.2" fill="none" stroke="#446" stroke-width="0.4" stroke-opacity="0.7"/>
<circle cx="349.4" cy="486.2" r="6.3" fill="url(#nr)" stroke="#b8585c" stroke-width="0.45" />
<ellipse cx="349.4" cy="482.9" rx="3.6" ry="1.9" fill="#fff" fill-opacity="0.5"/>
<path d="M348.0,487.3 l1.5,-1 l1,1.6 l1.4,-1.2" fill="none" stroke="#446" stroke-width="0.4" stroke-opacity="0.7"/>
<circle cx="325" cy="497.5" r="6.3" fill="url(#nr)" stroke="#b8585c" stroke-width="0.45" />
<ellipse cx="325" cy="494.2" rx="3.6" ry="1.9" fill="#fff" fill-opacity="0.5"/>
<path d="M323.0,497.9 l1.5,-1 l1,1.6 l1.4,-1.2" fill="none" stroke="#446" stroke-width="0.4" stroke-opacity="0.7"/>
<circle cx="340.7" cy="499.4" r="6.3" fill="url(#nr)" stroke="#b8585c" stroke-width="0.45" />
<ellipse cx="340.7" cy="496.09999999999997" rx="3.6" ry="1.9" fill="#fff" fill-opacity="0.5"/>
<path d="M339.5,499.5 l1.5,-1 l1,1.6 l1.4,-1.2" fill="none" stroke="#446" stroke-width="0.4" stroke-opacity="0.7"/>
<circle cx="253" cy="499.4" r="6.3" fill="url(#ny)" stroke="#b0a23a" stroke-width="0.45" />
<ellipse cx="253" cy="496.09999999999997" rx="3.6" ry="1.9" fill="#fff" fill-opacity="0.5"/>
<path d="M250.7,498.6 l1.5,-1 l1,1.6 l1.4,-1.2" fill="none" stroke="#446" stroke-width="0.4" stroke-opacity="0.7"/>
<circle cx="268.7" cy="498.2" r="6.3" fill="url(#ny)" stroke="#b0a23a" stroke-width="0.45" />
<ellipse cx="268.7" cy="494.9" rx="3.6" ry="1.9" fill="#fff" fill-opacity="0.5"/>
<path d="M266.3,498.9 l1.5,-1 l1,1.6 l1.4,-1.2" fill="none" stroke="#446" stroke-width="0.4" stroke-opacity="0.7"/>
<circle cx="239.5" cy="509.5" r="6.3" fill="url(#ny)" stroke="#b0a23a" stroke-width="0.45" />
<ellipse cx="239.5" cy="506.2" rx="3.6" ry="1.9" fill="#fff" fill-opacity="0.5"/>
<path d="M237.2,510.1 l1.5,-1 l1,1.6 l1.4,-1.2" fill="none" stroke="#446" stroke-width="0.4" stroke-opacity="0.7"/>
<circle cx="255.6" cy="518.1" r="6.3" fill="url(#ny)" stroke="#b0a23a" stroke-width="0.45" />
<ellipse cx="255.6" cy="514.8000000000001" rx="3.6" ry="1.9" fill="#fff" fill-opacity="0.5"/>
<path d="M254.0,518.9 l1.5,-1 l1,1.6 l1.4,-1.2" fill="none" stroke="#446" stroke-width="0.4" stroke-opacity="0.7"/>
<circle cx="283.7" cy="508" r="6.3" fill="url(#ny)" stroke="#b0a23a" stroke-width="0.45" />
<ellipse cx="283.7" cy="504.7" rx="3.6" ry="1.9" fill="#fff" fill-opacity="0.5"/>
<path d="M280.6,507.2 l1.5,-1 l1,1.6 l1.4,-1.2" fill="none" stroke="#446" stroke-width="0.4" stroke-opacity="0.7"/>
<circle cx="236.9" cy="524.5" r="6.3" fill="url(#ny)" stroke="#b0a23a" stroke-width="0.45" />
<ellipse cx="236.9" cy="521.2" rx="3.6" ry="1.9" fill="#fff" fill-opacity="0.5"/>
<path d="M233.5,523.7 l1.5,-1 l1,1.6 l1.4,-1.2" fill="none" stroke="#446" stroke-width="0.4" stroke-opacity="0.7"/>
<circle cx="272.5" cy="526.7" r="6.3" fill="url(#ny)" stroke="#b0a23a" stroke-width="0.45" />
<ellipse cx="272.5" cy="523.4000000000001" rx="3.6" ry="1.9" fill="#fff" fill-opacity="0.5"/>
<path d="M269.2,527.6 l1.5,-1 l1,1.6 l1.4,-1.2" fill="none" stroke="#446" stroke-width="0.4" stroke-opacity="0.7"/>
<circle cx="287.5" cy="524.5" r="6.3" fill="url(#ny)" stroke="#b0a23a" stroke-width="0.45" />
<ellipse cx="287.5" cy="521.2" rx="3.6" ry="1.9" fill="#fff" fill-opacity="0.5"/>
<path d="M283.7,525.7 l1.5,-1 l1,1.6 l1.4,-1.2" fill="none" stroke="#446" stroke-width="0.4" stroke-opacity="0.7"/>
<circle cx="250.7" cy="536.9" r="6.3" fill="url(#ny)" stroke="#b0a23a" stroke-width="0.45" />
<ellipse cx="250.7" cy="533.6" rx="3.6" ry="1.9" fill="#fff" fill-opacity="0.5"/>
<path d="M249.3,537.8 l1.5,-1 l1,1.6 l1.4,-1.2" fill="none" stroke="#446" stroke-width="0.4" stroke-opacity="0.7"/>
<circle cx="266.9" cy="540.6" r="6.3" fill="url(#ny)" stroke="#b0a23a" stroke-width="0.45" />
<ellipse cx="266.9" cy="537.3000000000001" rx="3.6" ry="1.9" fill="#fff" fill-opacity="0.5"/>
<path d="M265.3,540.3 l1.5,-1 l1,1.6 l1.4,-1.2" fill="none" stroke="#446" stroke-width="0.4" stroke-opacity="0.7"/>
<circle cx="235" cy="539.5" r="6.3" fill="url(#ny)" stroke="#b0a23a" stroke-width="0.45" />
<ellipse cx="235" cy="536.2" rx="3.6" ry="1.9" fill="#fff" fill-opacity="0.5"/>
<path d="M232.9,539.1 l1.5,-1 l1,1.6 l1.4,-1.2" fill="none" stroke="#446" stroke-width="0.4" stroke-opacity="0.7"/>
<circle cx="288.2" cy="539.5" r="6.3" fill="url(#ny)" stroke="#b0a23a" stroke-width="0.45" />
<ellipse cx="288.2" cy="536.2" rx="3.6" ry="1.9" fill="#fff" fill-opacity="0.5"/>
<path d="M285.0,540.5 l1.5,-1 l1,1.6 l1.4,-1.2" fill="none" stroke="#446" stroke-width="0.4" stroke-opacity="0.7"/>
<circle cx="247" cy="551.9" r="6.3" fill="url(#ny)" stroke="#b0a23a" stroke-width="0.45" />
<ellipse cx="247" cy="548.6" rx="3.6" ry="1.9" fill="#fff" fill-opacity="0.5"/>
<path d="M245.9,552.9 l1.5,-1 l1,1.6 l1.4,-1.2" fill="none" stroke="#446" stroke-width="0.4" stroke-opacity="0.7"/>
<circle cx="264.2" cy="556.7" r="6.3" fill="url(#ny)" stroke="#b0a23a" stroke-width="0.45" />
<ellipse cx="264.2" cy="553.4000000000001" rx="3.6" ry="1.9" fill="#fff" fill-opacity="0.5"/>
<path d="M262.4,557.9 l1.5,-1 l1,1.6 l1.4,-1.2" fill="none" stroke="#446" stroke-width="0.4" stroke-opacity="0.7"/>
<circle cx="281.9" cy="553.7" r="6.3" fill="url(#ny)" stroke="#b0a23a" stroke-width="0.45" />
<ellipse cx="281.9" cy="550.4000000000001" rx="3.6" ry="1.9" fill="#fff" fill-opacity="0.5"/>
<path d="M280.6,554.9 l1.5,-1 l1,1.6 l1.4,-1.2" fill="none" stroke="#446" stroke-width="0.4" stroke-opacity="0.7"/>
<circle cx="363.1" cy="521.8" r="6.3" fill="url(#ne)" stroke="#5d6a96" stroke-width="0.45" />
<ellipse cx="363.1" cy="518.5" rx="3.6" ry="1.9" fill="#fff" fill-opacity="0.5"/>
<path d="M361.0,522.3 l1.5,-1 l1,1.6 l1.4,-1.2" fill="none" stroke="#446" stroke-width="0.4" stroke-opacity="0.7"/>
<circle cx="377" cy="513.5" r="6.3" fill="url(#ne)" stroke="#5d6a96" stroke-width="0.45" />
<ellipse cx="377" cy="510.2" rx="3.6" ry="1.9" fill="#fff" fill-opacity="0.5"/>
<path d="M374.1,514.5 l1.5,-1 l1,1.6 l1.4,-1.2" fill="none" stroke="#446" stroke-width="0.4" stroke-opacity="0.7"/>
<circle cx="392.3" cy="514.3" r="6.3" fill="url(#ne)" stroke="#5d6a96" stroke-width="0.45" />
<ellipse cx="392.3" cy="510.99999999999994" rx="3.6" ry="1.9" fill="#fff" fill-opacity="0.5"/>
<path d="M391.1,515.1 l1.5,-1 l1,1.6 l1.4,-1.2" fill="none" stroke="#446" stroke-width="0.4" stroke-opacity="0.7"/>
<circle cx="404.8" cy="524.6" r="6.3" fill="url(#ne)" stroke="#5d6a96" stroke-width="0.45" />
<ellipse cx="404.8" cy="521.3000000000001" rx="3.6" ry="1.9" fill="#fff" fill-opacity="0.5"/>
<path d="M401.4,525.6 l1.5,-1 l1,1.6 l1.4,-1.2" fill="none" stroke="#446" stroke-width="0.4" stroke-opacity="0.7"/>
<circle cx="382" cy="528.8" r="6.3" fill="url(#ne)" stroke="#5d6a96" stroke-width="0.45" />
<ellipse cx="382" cy="525.5" rx="3.6" ry="1.9" fill="#fff" fill-opacity="0.5"/>
<path d="M378.3,527.8 l1.5,-1 l1,1.6 l1.4,-1.2" fill="none" stroke="#446" stroke-width="0.4" stroke-opacity="0.7"/>
<circle cx="357.6" cy="538.5" r="6.3" fill="url(#ne)" stroke="#5d6a96" stroke-width="0.45" />
<ellipse cx="357.6" cy="535.2" rx="3.6" ry="1.9" fill="#fff" fill-opacity="0.5"/>
<path d="M353.9,538.4 l1.5,-1 l1,1.6 l1.4,-1.2" fill="none" stroke="#446" stroke-width="0.4" stroke-opacity="0.7"/>
<circle cx="384" cy="544.9" r="6.3" fill="url(#ne)" stroke="#5d6a96" stroke-width="0.45" />
<ellipse cx="384" cy="541.6" rx="3.6" ry="1.9" fill="#fff" fill-opacity="0.5"/>
<path d="M380.5,543.5 l1.5,-1 l1,1.6 l1.4,-1.2" fill="none" stroke="#446" stroke-width="0.4" stroke-opacity="0.7"/>
<circle cx="406.1" cy="539.9" r="6.3" fill="url(#ne)" stroke="#5d6a96" stroke-width="0.45" />
<ellipse cx="406.1" cy="536.6" rx="3.6" ry="1.9" fill="#fff" fill-opacity="0.5"/>
<path d="M404.1,538.9 l1.5,-1 l1,1.6 l1.4,-1.2" fill="none" stroke="#446" stroke-width="0.4" stroke-opacity="0.7"/>
<circle cx="365.4" cy="552.3" r="6.3" fill="url(#ne)" stroke="#5d6a96" stroke-width="0.45" />
<ellipse cx="365.4" cy="549.0" rx="3.6" ry="1.9" fill="#fff" fill-opacity="0.5"/>
<path d="M363.1,552.9 l1.5,-1 l1,1.6 l1.4,-1.2" fill="none" stroke="#446" stroke-width="0.4" stroke-opacity="0.7"/>
<circle cx="381.2" cy="560.7" r="6.3" fill="url(#ne)" stroke="#5d6a96" stroke-width="0.45" />
<ellipse cx="381.2" cy="557.4000000000001" rx="3.6" ry="1.9" fill="#fff" fill-opacity="0.5"/>
<path d="M378.2,561.0 l1.5,-1 l1,1.6 l1.4,-1.2" fill="none" stroke="#446" stroke-width="0.4" stroke-opacity="0.7"/>
<circle cx="399.2" cy="553.7" r="6.3" fill="url(#ne)" stroke="#5d6a96" stroke-width="0.45" />
<ellipse cx="399.2" cy="550.4000000000001" rx="3.6" ry="1.9" fill="#fff" fill-opacity="0.5"/>
<path d="M397.0,554.3 l1.5,-1 l1,1.6 l1.4,-1.2" fill="none" stroke="#446" stroke-width="0.4" stroke-opacity="0.7"/>
<text x="273.3" y="403.2" font-size="6.8" text-anchor="middle" fill="#333" font-weight="normal" font-style="normal" >Hippo</text>
<text x="335.8" y="389.0" font-size="6.8" text-anchor="middle" fill="#333" font-weight="normal" font-style="normal" >Wnt</text>
<text x="396.2" y="404.8" font-size="6.8" text-anchor="middle" fill="#333" font-weight="normal" font-style="normal"  textLength="38.9" lengthAdjust="spacingAndGlyphs">Neurotrophin</text>
<text x="273.4" y="487.8" font-size="6.8" text-anchor="middle" fill="#333" font-weight="normal" font-style="normal" >Axon guidance</text>
<text x="385.6" y="501.0" font-size="6.8" text-anchor="middle" fill="#333" font-weight="normal" font-style="normal" >ECM interaction</text>
<rect x="302.5" y="453.6" width="65.5" height="9.6" fill="#ffffff" stroke="none" stroke-width="1" fill-opacity="0.55"/>
<text x="335.8" y="461.3" font-size="8.4" text-anchor="middle" fill="#333" font-weight="bold" font-style="normal" stroke="#fff" stroke-width="1.6" paint-order="stroke" textLength="64.4" lengthAdjust="spacingAndGlyphs">Signaling in PSC</text></svg>
</body></html>
